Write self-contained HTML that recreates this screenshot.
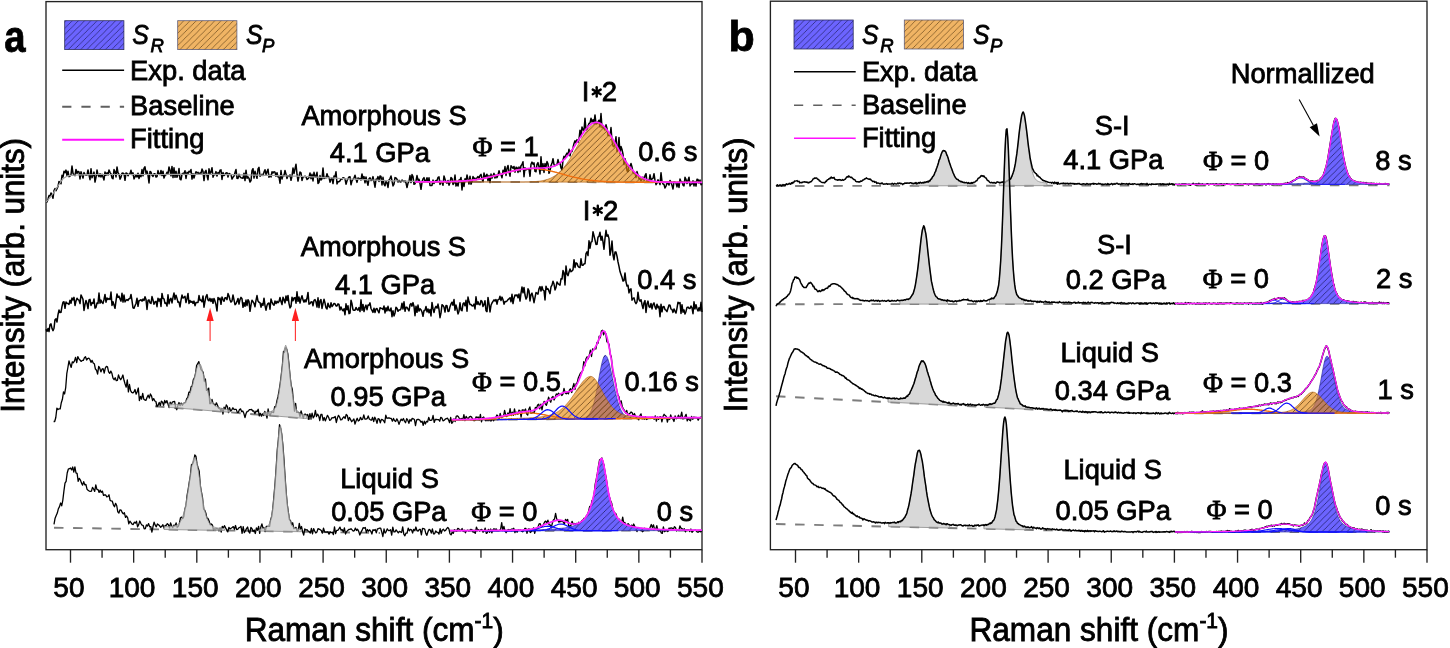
<!DOCTYPE html>
<html><head><meta charset="utf-8"><style>
html,body{margin:0;padding:0;background:#fff;}
body{width:1450px;height:648px;overflow:hidden;}
svg{display:block;font-family:"Liberation Sans",sans-serif;}
text{stroke:#000;stroke-width:0.8px;}
svg{will-change:transform;}
</style></head><body>
<svg width="1450" height="648" viewBox="0 0 1450 648">
<rect width="1450" height="648" fill="#fff"/>
<defs><pattern id="hb" patternUnits="userSpaceOnUse" width="6.2" height="6.2"><path d="M-1,7.2 L7.2,-1" stroke="#1a1a60" stroke-width="0.85" opacity="0.85"/></pattern><pattern id="ho" patternUnits="userSpaceOnUse" width="6.2" height="6.2"><path d="M-1,7.2 L7.2,-1" stroke="#5a3510" stroke-width="0.85" opacity="0.85"/></pattern><pattern id="hl" patternUnits="userSpaceOnUse" width="6.2" height="6.2"><path d="M-1,7.2 L7.2,-1" stroke="#1a1a55" stroke-width="0.75" opacity="0.85"/></pattern><pattern id="hlo" patternUnits="userSpaceOnUse" width="6.2" height="6.2"><path d="M-1,7.2 L7.2,-1" stroke="#5e3e14" stroke-width="0.75" opacity="0.85"/></pattern></defs>
<rect x="46.0" y="1.6" width="656.0" height="548.1" fill="none" stroke="#222" stroke-width="1.35"/>
<path d="M70.50,549.7 L70.50,562.7" stroke="#222" stroke-width="1.35"/>
<text x="68.9" y="596.8" font-size="28.00" text-anchor="middle" >50</text>
<path d="M102.07,549.7 L102.07,557.7" stroke="#222" stroke-width="1.35"/>
<path d="M133.65,549.7 L133.65,562.7" stroke="#222" stroke-width="1.35"/>
<text x="132.0" y="596.8" font-size="28.00" text-anchor="middle" >100</text>
<path d="M165.22,549.7 L165.22,557.7" stroke="#222" stroke-width="1.35"/>
<path d="M196.80,549.7 L196.80,562.7" stroke="#222" stroke-width="1.35"/>
<text x="195.2" y="596.8" font-size="28.00" text-anchor="middle" >150</text>
<path d="M228.38,549.7 L228.38,557.7" stroke="#222" stroke-width="1.35"/>
<path d="M259.95,549.7 L259.95,562.7" stroke="#222" stroke-width="1.35"/>
<text x="258.3" y="596.8" font-size="28.00" text-anchor="middle" >200</text>
<path d="M291.52,549.7 L291.52,557.7" stroke="#222" stroke-width="1.35"/>
<path d="M323.10,549.7 L323.10,562.7" stroke="#222" stroke-width="1.35"/>
<text x="321.5" y="596.8" font-size="28.00" text-anchor="middle" >250</text>
<path d="M354.67,549.7 L354.67,557.7" stroke="#222" stroke-width="1.35"/>
<path d="M386.25,549.7 L386.25,562.7" stroke="#222" stroke-width="1.35"/>
<text x="384.6" y="596.8" font-size="28.00" text-anchor="middle" >300</text>
<path d="M417.82,549.7 L417.82,557.7" stroke="#222" stroke-width="1.35"/>
<path d="M449.40,549.7 L449.40,562.7" stroke="#222" stroke-width="1.35"/>
<text x="447.8" y="596.8" font-size="28.00" text-anchor="middle" >350</text>
<path d="M480.97,549.7 L480.97,557.7" stroke="#222" stroke-width="1.35"/>
<path d="M512.55,549.7 L512.55,562.7" stroke="#222" stroke-width="1.35"/>
<text x="510.9" y="596.8" font-size="28.00" text-anchor="middle" >400</text>
<path d="M544.12,549.7 L544.12,557.7" stroke="#222" stroke-width="1.35"/>
<path d="M575.70,549.7 L575.70,562.7" stroke="#222" stroke-width="1.35"/>
<text x="574.1" y="596.8" font-size="28.00" text-anchor="middle" >450</text>
<path d="M607.27,549.7 L607.27,557.7" stroke="#222" stroke-width="1.35"/>
<path d="M638.85,549.7 L638.85,562.7" stroke="#222" stroke-width="1.35"/>
<text x="637.2" y="596.8" font-size="28.00" text-anchor="middle" >500</text>
<path d="M670.42,549.7 L670.42,557.7" stroke="#222" stroke-width="1.35"/>
<path d="M702.00,549.7 L702.00,562.7" stroke="#222" stroke-width="1.35"/>
<text x="700.4" y="596.8" font-size="28.00" text-anchor="middle" >550</text>
<rect x="770.4" y="1.2" width="656.6" height="548.5" fill="none" stroke="#222" stroke-width="1.35"/>
<path d="M795.50,549.7 L795.50,562.7" stroke="#222" stroke-width="1.35"/>
<text x="793.9" y="596.8" font-size="28.00" text-anchor="middle" >50</text>
<path d="M827.08,549.7 L827.08,557.7" stroke="#222" stroke-width="1.35"/>
<path d="M858.65,549.7 L858.65,562.7" stroke="#222" stroke-width="1.35"/>
<text x="857.0" y="596.8" font-size="28.00" text-anchor="middle" >100</text>
<path d="M890.23,549.7 L890.23,557.7" stroke="#222" stroke-width="1.35"/>
<path d="M921.80,549.7 L921.80,562.7" stroke="#222" stroke-width="1.35"/>
<text x="920.2" y="596.8" font-size="28.00" text-anchor="middle" >150</text>
<path d="M953.38,549.7 L953.38,557.7" stroke="#222" stroke-width="1.35"/>
<path d="M984.95,549.7 L984.95,562.7" stroke="#222" stroke-width="1.35"/>
<text x="983.4" y="596.8" font-size="28.00" text-anchor="middle" >200</text>
<path d="M1016.52,549.7 L1016.52,557.7" stroke="#222" stroke-width="1.35"/>
<path d="M1048.10,549.7 L1048.10,562.7" stroke="#222" stroke-width="1.35"/>
<text x="1046.5" y="596.8" font-size="28.00" text-anchor="middle" >250</text>
<path d="M1079.67,549.7 L1079.67,557.7" stroke="#222" stroke-width="1.35"/>
<path d="M1111.25,549.7 L1111.25,562.7" stroke="#222" stroke-width="1.35"/>
<text x="1109.7" y="596.8" font-size="28.00" text-anchor="middle" >300</text>
<path d="M1142.83,549.7 L1142.83,557.7" stroke="#222" stroke-width="1.35"/>
<path d="M1174.40,549.7 L1174.40,562.7" stroke="#222" stroke-width="1.35"/>
<text x="1172.8" y="596.8" font-size="28.00" text-anchor="middle" >350</text>
<path d="M1205.97,549.7 L1205.97,557.7" stroke="#222" stroke-width="1.35"/>
<path d="M1237.55,549.7 L1237.55,562.7" stroke="#222" stroke-width="1.35"/>
<text x="1236.0" y="596.8" font-size="28.00" text-anchor="middle" >400</text>
<path d="M1269.12,549.7 L1269.12,557.7" stroke="#222" stroke-width="1.35"/>
<path d="M1300.70,549.7 L1300.70,562.7" stroke="#222" stroke-width="1.35"/>
<text x="1299.1" y="596.8" font-size="28.00" text-anchor="middle" >450</text>
<path d="M1332.28,549.7 L1332.28,557.7" stroke="#222" stroke-width="1.35"/>
<path d="M1363.85,549.7 L1363.85,562.7" stroke="#222" stroke-width="1.35"/>
<text x="1362.2" y="596.8" font-size="28.00" text-anchor="middle" >500</text>
<path d="M1395.42,549.7 L1395.42,557.7" stroke="#222" stroke-width="1.35"/>
<path d="M1427.00,549.7 L1427.00,562.7" stroke="#222" stroke-width="1.35"/>
<text x="1425.4" y="596.8" font-size="28.00" text-anchor="middle" >550</text>
<path d="M415.0,181.80 L702.0,182.40" stroke="#7d7d7d" stroke-width="1.9" stroke-dasharray="9.5,9.6" fill="none"/>
<path d="M46.0,202.0 L47.0,201.9 L48.0,198.9 L49.0,195.6 L50.0,196.0 L51.0,192.9 L52.0,195.2 L53.0,198.2 L54.0,190.5 L55.0,188.5 L56.0,190.7 L57.0,188.7 L58.0,186.4 L59.0,181.4 L60.0,182.9 L61.0,183.8 L62.0,175.3 L63.0,177.2 L64.0,171.2 L65.0,172.7 L66.0,170.1 L67.0,175.5 L68.0,171.2 L69.0,176.7 L70.0,176.1 L71.0,174.7 L72.0,166.0 L73.0,173.3 L74.0,175.0 L75.0,175.6 L76.0,169.4 L77.0,173.3 L78.0,171.3 L79.0,171.9 L80.0,178.9 L81.0,171.8 L82.0,174.7 L83.0,178.1 L84.0,172.6 L85.0,174.3 L86.0,175.1 L87.0,174.9 L88.0,170.0 L89.0,174.9 L90.0,179.7 L91.0,168.7 L92.0,177.8 L93.0,175.0 L94.0,172.1 L95.0,182.1 L96.0,177.4 L97.0,170.0 L98.0,174.8 L99.0,176.7 L100.0,173.8 L101.0,177.1 L102.0,174.2 L103.0,177.0 L104.0,179.9 L105.0,171.9 L106.0,175.3 L107.0,172.8 L108.0,175.0 L109.0,170.0 L110.0,172.3 L111.0,173.8 L112.0,177.9 L113.0,178.8 L114.0,169.5 L115.0,171.5 L116.0,176.9 L117.0,167.0 L118.0,172.8 L119.0,174.1 L120.0,179.2 L121.0,177.1 L122.0,173.3 L123.0,173.1 L124.0,173.6 L125.0,180.3 L126.0,172.9 L127.0,173.4 L128.0,175.8 L129.0,174.0 L130.0,173.8 L131.0,170.3 L132.0,174.5 L133.0,172.8 L134.0,178.9 L135.0,177.0 L136.0,174.4 L137.0,177.0 L138.0,173.2 L139.0,178.5 L140.0,174.5 L141.0,176.7 L142.0,169.6 L143.0,175.8 L144.0,168.1 L145.0,166.8 L146.0,173.4 L147.0,171.1 L148.0,175.1 L149.0,183.0 L150.0,171.4 L151.0,172.1 L152.0,175.3 L153.0,176.4 L154.0,173.8 L155.0,173.7 L156.0,177.1 L157.0,176.5 L158.0,170.6 L159.0,174.2 L160.0,174.6 L161.0,170.5 L162.0,175.5 L163.0,171.2 L164.0,178.1 L165.0,175.2 L166.0,174.8 L167.0,172.2 L168.0,174.0 L169.0,166.9 L170.0,170.2 L171.0,175.8 L172.0,166.4 L173.0,177.6 L174.0,167.8 L175.0,177.3 L176.0,171.2 L177.0,177.3 L178.0,174.9 L179.0,168.6 L180.0,179.1 L181.0,179.8 L182.0,174.1 L183.0,173.3 L184.0,173.7 L185.0,170.7 L186.0,178.5 L187.0,172.3 L188.0,174.1 L189.0,171.3 L190.0,172.0 L191.0,169.5 L192.0,179.1 L193.0,173.7 L194.0,178.0 L195.0,174.4 L196.0,171.7 L197.0,173.1 L198.0,172.2 L199.0,174.3 L200.0,172.9 L201.0,173.2 L202.0,169.1 L203.0,171.3 L204.0,180.6 L205.0,171.8 L206.0,170.3 L207.0,175.6 L208.0,179.7 L209.0,168.8 L210.0,173.6 L211.0,172.0 L212.0,167.7 L213.0,177.2 L214.0,174.3 L215.0,174.7 L216.0,171.6 L217.0,176.1 L218.0,172.4 L219.0,173.9 L220.0,170.3 L221.0,169.9 L222.0,179.5 L223.0,172.6 L224.0,175.6 L225.0,174.4 L226.0,172.9 L227.0,172.7 L228.0,177.0 L229.0,173.5 L230.0,174.1 L231.0,174.7 L232.0,179.1 L233.0,177.2 L234.0,176.1 L235.0,172.6 L236.0,169.5 L237.0,178.3 L238.0,178.4 L239.0,174.3 L240.0,176.8 L241.0,177.8 L242.0,178.0 L243.0,178.3 L244.0,173.2 L245.0,180.6 L246.0,170.2 L247.0,178.2 L248.0,176.8 L249.0,178.3 L250.0,182.0 L251.0,180.6 L252.0,170.7 L253.0,168.7 L254.0,178.1 L255.0,171.3 L256.0,175.1 L257.0,178.3 L258.0,169.0 L259.0,167.3 L260.0,176.2 L261.0,175.4 L262.0,174.3 L263.0,175.4 L264.0,172.1 L265.0,169.7 L266.0,174.7 L267.0,171.7 L268.0,169.2 L269.0,177.3 L270.0,175.2 L271.0,177.0 L272.0,171.8 L273.0,173.0 L274.0,171.8 L275.0,172.2 L276.0,176.3 L277.0,172.7 L278.0,176.9 L279.0,176.9 L280.0,183.2 L281.0,170.5 L282.0,179.0 L283.0,175.4 L284.0,175.7 L285.0,170.4 L286.0,174.1 L287.0,178.6 L288.0,175.6 L289.0,176.2 L290.0,174.9 L291.0,180.3 L292.0,176.0 L293.0,167.9 L294.0,173.5 L295.0,168.9 L296.0,164.2 L297.0,174.2 L298.0,181.1 L299.0,176.4 L300.0,172.0 L301.0,172.9 L302.0,180.5 L303.0,177.0 L304.0,176.6 L305.0,176.3 L306.0,176.7 L307.0,179.5 L308.0,178.7 L309.0,177.5 L310.0,172.9 L311.0,178.7 L312.0,174.3 L313.0,180.9 L314.0,172.3 L315.0,176.5 L316.0,177.0 L317.0,172.3 L318.0,183.4 L319.0,182.5 L320.0,175.6 L321.0,180.1 L322.0,178.8 L323.0,168.0 L324.0,178.4 L325.0,177.4 L326.0,177.9 L327.0,173.8 L328.0,176.8 L329.0,177.2 L330.0,182.2 L331.0,179.2 L332.0,178.0 L333.0,183.6 L334.0,176.1 L335.0,176.8 L336.0,171.7 L337.0,183.9 L338.0,181.8 L339.0,181.7 L340.0,180.9 L341.0,178.9 L342.0,179.4 L343.0,177.7 L344.0,178.0 L345.0,178.9 L346.0,184.2 L347.0,180.8 L348.0,178.7 L349.0,176.9 L350.0,176.7 L351.0,184.7 L352.0,180.9 L353.0,179.4 L354.0,178.0 L355.0,175.3 L356.0,179.0 L357.0,182.4 L358.0,178.0 L359.0,178.6 L360.0,178.7 L361.0,179.9 L362.0,173.9 L363.0,178.8 L364.0,176.6 L365.0,182.8 L366.0,177.0 L367.0,181.8 L368.0,185.2 L369.0,178.8 L370.0,177.8 L371.0,180.6 L372.0,180.0 L373.0,176.6 L374.0,181.7 L375.0,187.2 L376.0,179.3 L377.0,179.5 L378.0,176.6 L379.0,181.4 L380.0,176.0 L381.0,176.5 L382.0,184.9 L383.0,177.3 L384.0,184.2 L385.0,185.8 L386.0,181.5 L387.0,182.5 L388.0,187.4 L389.0,180.0 L390.0,178.6 L391.0,176.0 L392.0,180.9 L393.0,185.9 L394.0,184.1 L395.0,177.6 L396.0,177.9 L397.0,179.2 L398.0,182.0 L399.0,180.3 L400.0,181.7 L401.0,182.0 L402.0,180.0 L403.0,180.9 L404.0,181.8 L405.0,180.8 L406.0,182.9 L407.0,187.6 L408.0,183.2 L409.0,181.4 L410.0,175.5 L411.0,182.6 L412.0,174.6 L413.0,176.5 L414.0,184.3 L415.0,183.8 L416.0,180.9 L417.0,175.6 L418.0,180.2 L419.0,179.2 L420.0,183.7 L421.0,189.3 L422.0,182.3 L423.0,178.9 L424.0,177.6 L425.0,181.4 L426.0,181.0 L427.0,177.7 L428.0,182.1 L429.0,177.8 L430.0,185.5 L431.0,185.4 L432.0,185.4 L433.0,180.1 L434.0,183.5 L435.0,181.3 L436.0,180.5 L437.0,180.6 L438.0,177.4 L439.0,176.9 L440.0,184.5 L441.0,181.2 L442.0,182.5 L443.0,185.2 L444.0,175.9 L445.0,179.1 L446.0,182.4 L447.0,183.1 L448.0,180.5 L449.0,185.2 L450.0,182.4 L451.0,177.5 L452.0,178.5 L453.0,184.4 L454.0,183.2 L455.0,175.0 L456.0,186.1 L457.0,183.5 L458.0,186.0 L459.0,180.1 L460.0,180.3 L461.0,177.4 L462.0,189.9 L463.0,180.5 L464.0,186.5 L465.0,178.8 L466.0,181.5 L467.0,175.0 L468.0,179.4 L469.0,184.0 L470.0,176.2 L471.0,184.2 L472.0,181.5 L473.0,176.6 L474.0,178.3 L475.0,178.3 L476.0,179.6 L477.0,177.8 L478.0,176.6 L479.0,178.3 L480.0,175.5 L481.0,174.4 L482.0,178.7 L483.0,181.8 L484.0,173.0 L485.0,178.3 L486.0,175.7 L487.0,174.3 L488.0,180.7 L489.0,175.5 L490.0,182.6 L491.0,174.1 L492.0,178.1 L493.0,175.6 L494.0,173.4 L495.0,178.1 L496.0,175.1 L497.0,177.6 L498.0,175.0 L499.0,170.8 L500.0,174.2 L501.0,174.5 L502.0,177.7 L503.0,170.3 L504.0,173.4 L505.0,166.6 L506.0,175.5 L507.0,168.5 L508.0,165.4 L509.0,171.9 L510.0,176.2 L511.0,165.7 L512.0,167.1 L513.0,168.2 L514.0,166.5 L515.0,172.2 L516.0,167.3 L517.0,167.4 L518.0,172.4 L519.0,166.9 L520.0,171.5 L521.0,165.7 L522.0,164.5 L523.0,161.8 L524.0,176.7 L525.0,167.7 L526.0,169.9 L527.0,168.7 L528.0,169.3 L529.0,168.8 L530.0,176.3 L531.0,164.3 L532.0,162.1 L533.0,164.3 L534.0,162.9 L535.0,171.4 L536.0,171.7 L537.0,164.4 L538.0,162.6 L539.0,166.8 L540.0,173.9 L541.0,156.7 L542.0,170.3 L543.0,163.7 L544.0,172.4 L545.0,163.6 L546.0,166.8 L547.0,161.6 L548.0,163.7 L549.0,173.3 L550.0,170.8 L551.0,165.5 L552.0,163.3 L553.0,158.7 L554.0,164.6 L555.0,165.7 L556.0,165.1 L557.0,164.5 L558.0,159.6 L559.0,163.5 L560.0,162.9 L561.0,168.0 L562.0,169.8 L563.0,160.1 L564.0,156.3 L565.0,158.5 L566.0,154.9 L567.0,153.1 L568.0,155.1 L569.0,149.2 L570.0,155.8 L571.0,151.0 L572.0,151.4 L573.0,147.7 L574.0,143.4 L575.0,140.7 L576.0,142.9 L577.0,139.6 L578.0,142.3 L579.0,139.4 L580.0,130.2 L581.0,136.7 L582.0,127.1 L583.0,129.8 L584.0,130.3 L585.0,118.3 L586.0,129.9 L587.0,129.1 L588.0,126.1 L589.0,123.5 L590.0,122.9 L591.0,118.3 L592.0,122.1 L593.0,119.8 L594.0,123.4 L595.0,114.9 L596.0,124.0 L597.0,123.4 L598.0,121.8 L599.0,120.2 L600.0,126.9 L601.0,113.5 L602.0,127.6 L603.0,127.1 L604.0,128.3 L605.0,130.0 L606.0,124.8 L607.0,128.6 L608.0,135.3 L609.0,135.5 L610.0,135.7 L611.0,127.5 L612.0,140.8 L613.0,146.0 L614.0,146.8 L615.0,144.3 L616.0,136.7 L617.0,151.5 L618.0,147.7 L619.0,137.6 L620.0,153.9 L621.0,146.6 L622.0,149.4 L623.0,154.2 L624.0,164.6 L625.0,158.7 L626.0,163.1 L627.0,170.9 L628.0,171.6 L629.0,165.7 L630.0,166.4 L631.0,163.5 L632.0,166.9 L633.0,172.5 L634.0,173.4 L635.0,173.2 L636.0,177.5 L637.0,171.6 L638.0,175.0 L639.0,178.7 L640.0,178.8 L641.0,181.1 L642.0,179.2 L643.0,177.1 L644.0,180.0 L645.0,175.6 L646.0,173.7 L647.0,181.9 L648.0,179.9 L649.0,181.5 L650.0,174.8 L651.0,179.6 L652.0,179.0 L653.0,178.3 L654.0,173.7 L655.0,180.4 L656.0,184.7 L657.0,183.0 L658.0,179.8 L659.0,181.9 L660.0,184.6 L661.0,172.7 L662.0,181.7 L663.0,184.0 L664.0,184.5 L665.0,188.0 L666.0,186.1 L667.0,183.3 L668.0,183.3 L669.0,185.0 L670.0,180.5 L671.0,182.2 L672.0,185.4 L673.0,189.0 L674.0,181.8 L675.0,182.2 L676.0,183.0 L677.0,186.9 L678.0,182.3 L679.0,187.4 L680.0,179.1 L681.0,181.8 L682.0,181.7 L683.0,185.1 L684.0,185.9 L685.0,177.3 L686.0,179.3 L687.0,183.5 L688.0,180.2 L689.0,177.2 L690.0,185.9 L691.0,184.1 L692.0,184.1 L693.0,180.8 L694.0,185.9 L695.0,181.6 L696.0,186.1 L697.0,179.3 L698.0,179.5 L699.0,183.1 L700.0,180.0 L701.0,184.7 L702.0,183.3" stroke="#000" stroke-width="1.5" fill="none" stroke-linejoin="round"/>
<path d="M46.0,202.0 L47.0,200.9 L48.0,199.8 L49.0,198.7 L50.0,197.5 L51.0,196.3 L52.0,195.0 L53.0,193.6 L54.0,192.1 L55.0,190.6 L56.0,189.0 L57.0,187.5 L58.0,186.0 L59.0,184.5 L60.0,183.0 L61.0,181.4 L62.0,180.0 L63.0,178.8 L64.0,178.0 L65.0,177.4 L66.0,176.8 L67.0,176.3 L68.0,175.9 L69.0,175.6 L70.0,175.5 L71.0,175.4 L72.0,175.4 L73.0,175.3 L74.0,175.2 L75.0,175.2 L76.0,175.1 L77.0,175.0 L78.0,175.0 L79.0,174.9 L80.0,174.9 L81.0,174.9 L82.0,174.8 L83.0,174.8 L84.0,174.7 L85.0,174.7 L86.0,174.7 L87.0,174.7 L88.0,174.6 L89.0,174.6 L90.0,174.6 L91.0,174.6 L92.0,174.6 L93.0,174.5 L94.0,174.5 L95.0,174.5 L96.0,174.5 L97.0,174.5 L98.0,174.5 L99.0,174.5 L100.0,174.5 L101.0,174.5 L102.0,174.5 L103.0,174.5 L104.0,174.5 L105.0,174.5 L106.0,174.5 L107.0,174.5 L108.0,174.5 L109.0,174.5 L110.0,174.5 L111.0,174.5 L112.0,174.5 L113.0,174.5 L114.0,174.5 L115.0,174.5 L116.0,174.5 L117.0,174.5 L118.0,174.5 L119.0,174.5 L120.0,174.5 L121.0,174.5 L122.0,174.5 L123.0,174.5 L124.0,174.5 L125.0,174.5 L126.0,174.5 L127.0,174.5 L128.0,174.5 L129.0,174.5 L130.0,174.5 L131.0,174.5 L132.0,174.5 L133.0,174.5 L134.0,174.5 L135.0,174.5 L136.0,174.5 L137.0,174.5 L138.0,174.5 L139.0,174.5 L140.0,174.5 L141.0,174.5 L142.0,174.5 L143.0,174.5 L144.0,174.5 L145.0,174.5 L146.0,174.5 L147.0,174.5 L148.0,174.5 L149.0,174.5 L150.0,174.5 L151.0,174.5 L152.0,174.5 L153.0,174.5 L154.0,174.5 L155.0,174.5 L156.0,174.5 L157.0,174.5 L158.0,174.5 L159.0,174.5 L160.0,174.5 L161.0,174.5 L162.0,174.5 L163.0,174.5 L164.0,174.5 L165.0,174.5 L166.0,174.5 L167.0,174.4 L168.0,174.4 L169.0,174.4 L170.0,174.4 L171.0,174.4 L172.0,174.4 L173.0,174.4 L174.0,174.4 L175.0,174.4 L176.0,174.4 L177.0,174.4 L178.0,174.4 L179.0,174.4 L180.0,174.4 L181.0,174.4 L182.0,174.4 L183.0,174.4 L184.0,174.3 L185.0,174.3 L186.0,174.3 L187.0,174.3 L188.0,174.3 L189.0,174.3 L190.0,174.3 L191.0,174.3 L192.0,174.3 L193.0,174.3 L194.0,174.3 L195.0,174.3 L196.0,174.3 L197.0,174.3 L198.0,174.3 L199.0,174.3 L200.0,174.3 L201.0,174.3 L202.0,174.3 L203.0,174.3 L204.0,174.3 L205.0,174.3 L206.0,174.3 L207.0,174.3 L208.0,174.3 L209.0,174.3 L210.0,174.3 L211.0,174.4 L212.0,174.4 L213.0,174.4 L214.0,174.4 L215.0,174.4 L216.0,174.4 L217.0,174.4 L218.0,174.4 L219.0,174.4 L220.0,174.5 L221.0,174.5 L222.0,174.5 L223.0,174.5 L224.0,174.5 L225.0,174.5 L226.0,174.6 L227.0,174.6 L228.0,174.6 L229.0,174.6 L230.0,174.6 L231.0,174.6 L232.0,174.7 L233.0,174.7 L234.0,174.7 L235.0,174.7 L236.0,174.7 L237.0,174.8 L238.0,174.8 L239.0,174.8 L240.0,174.8 L241.0,174.8 L242.0,174.8 L243.0,174.9 L244.0,174.9 L245.0,174.9 L246.0,174.9 L247.0,174.9 L248.0,175.0 L249.0,175.0 L250.0,175.0 L251.0,175.0 L252.0,175.0 L253.0,175.1 L254.0,175.1 L255.0,175.1 L256.0,175.1 L257.0,175.1 L258.0,175.2 L259.0,175.2 L260.0,175.2 L261.0,175.2 L262.0,175.2 L263.0,175.3 L264.0,175.3 L265.0,175.3 L266.0,175.3 L267.0,175.3 L268.0,175.4 L269.0,175.4 L270.0,175.4 L271.0,175.4 L272.0,175.5 L273.0,175.5 L274.0,175.5 L275.0,175.5 L276.0,175.6 L277.0,175.6 L278.0,175.6 L279.0,175.6 L280.0,175.7 L281.0,175.7 L282.0,175.7 L283.0,175.8 L284.0,175.8 L285.0,175.8 L286.0,175.8 L287.0,175.9 L288.0,175.9 L289.0,175.9 L290.0,176.0 L291.0,176.0 L292.0,176.0 L293.0,176.1 L294.0,176.1 L295.0,176.1 L296.0,176.2 L297.0,176.2 L298.0,176.2 L299.0,176.3 L300.0,176.3 L301.0,176.3 L302.0,176.4 L303.0,176.4 L304.0,176.5 L305.0,176.5 L306.0,176.5 L307.0,176.6 L308.0,176.6 L309.0,176.7 L310.0,176.7 L311.0,176.8 L312.0,176.8 L313.0,176.9 L314.0,176.9 L315.0,177.0 L316.0,177.1 L317.0,177.1 L318.0,177.2 L319.0,177.2 L320.0,177.3 L321.0,177.3 L322.0,177.4 L323.0,177.5 L324.0,177.5 L325.0,177.6 L326.0,177.6 L327.0,177.7 L328.0,177.8 L329.0,177.8 L330.0,177.9 L331.0,177.9 L332.0,178.0 L333.0,178.1 L334.0,178.1 L335.0,178.2 L336.0,178.2 L337.0,178.3 L338.0,178.4 L339.0,178.4 L340.0,178.5 L341.0,178.5 L342.0,178.6 L343.0,178.6 L344.0,178.7 L345.0,178.8 L346.0,178.8 L347.0,178.9 L348.0,178.9 L349.0,179.0 L350.0,179.0 L351.0,179.0 L352.0,179.1 L353.0,179.1 L354.0,179.2 L355.0,179.2 L356.0,179.3 L357.0,179.3 L358.0,179.4 L359.0,179.4 L360.0,179.5 L361.0,179.5 L362.0,179.6 L363.0,179.6 L364.0,179.6 L365.0,179.7 L366.0,179.7 L367.0,179.8 L368.0,179.8 L369.0,179.9 L370.0,179.9 L371.0,180.0 L372.0,180.0 L373.0,180.0 L374.0,180.1 L375.0,180.1 L376.0,180.2 L377.0,180.2 L378.0,180.2 L379.0,180.3 L380.0,180.3 L381.0,180.4 L382.0,180.4 L383.0,180.4 L384.0,180.5 L385.0,180.5 L386.0,180.6 L387.0,180.6 L388.0,180.6 L389.0,180.7 L390.0,180.7 L391.0,180.7 L392.0,180.8 L393.0,180.8 L394.0,180.8 L395.0,180.9 L396.0,180.9 L397.0,180.9 L398.0,180.9 L399.0,181.0 L400.0,181.0 L401.0,181.0 L402.0,181.1 L403.0,181.1 L404.0,181.1 L405.0,181.1 L406.0,181.2 L407.0,181.2 L408.0,181.2 L409.0,181.2 L410.0,181.3 L411.0,181.3 L412.0,181.3 L413.0,181.3 L414.0,181.4 L415.0,181.4 L416.0,181.4 L417.0,181.4 L418.0,181.5 L419.0,181.5 L420.0,181.5 L421.0,181.5 L422.0,181.6 L423.0,181.6 L424.0,181.6 L425.0,181.6 L426.0,181.6 L427.0,181.7 L428.0,181.7 L429.0,181.7" stroke="#a0a0a0" stroke-width="1.2" fill="none"/>
<path d="M415.0,181.8 L416.0,181.8 L417.0,181.8 L418.0,181.8 L419.0,181.8 L420.0,181.8 L421.0,181.8 L422.0,181.8 L423.0,181.8 L424.0,181.8 L425.0,181.8 L426.0,181.8 L427.0,181.8 L428.0,181.8 L429.0,181.8 L430.0,181.8 L431.0,181.8 L432.0,181.8 L433.0,181.8 L434.0,181.8 L435.0,181.8 L436.0,181.8 L437.0,181.8 L438.0,181.8 L439.0,181.9 L440.0,181.9 L441.0,181.9 L442.0,181.9 L443.0,181.9 L444.0,181.9 L445.0,181.9 L446.0,181.9 L447.0,181.9 L448.0,181.9 L449.0,181.9 L450.0,181.9 L451.0,181.9 L452.0,181.9 L453.0,181.9 L454.0,181.9 L455.0,181.9 L456.0,181.9 L457.0,181.9 L458.0,181.9 L459.0,181.9 L460.0,181.9 L461.0,181.9 L462.0,181.9 L463.0,181.9 L464.0,181.9 L465.0,181.9 L466.0,181.9 L467.0,181.9 L468.0,181.9 L469.0,181.9 L470.0,181.9 L471.0,181.9 L472.0,181.9 L473.0,181.9 L474.0,181.9 L475.0,181.9 L476.0,181.9 L477.0,181.9 L478.0,181.9 L479.0,181.9 L480.0,181.9 L481.0,181.9 L482.0,181.9 L483.0,181.9 L484.0,181.9 L485.0,181.9 L486.0,181.9 L487.0,182.0 L488.0,182.0 L489.0,182.0 L490.0,182.0 L491.0,182.0 L492.0,182.0 L493.0,182.0 L494.0,182.0 L495.0,182.0 L496.0,182.0 L497.0,182.0 L498.0,182.0 L499.0,182.0 L500.0,182.0 L501.0,182.0 L502.0,182.0 L503.0,182.0 L504.0,182.0 L505.0,182.0 L506.0,182.0 L507.0,182.0 L508.0,182.0 L509.0,182.0 L510.0,182.0 L511.0,182.0 L512.0,182.0 L513.0,182.0 L514.0,182.0 L515.0,182.0 L516.0,182.0 L517.0,182.0 L518.0,182.0 L519.0,182.0 L520.0,182.0 L521.0,182.0 L522.0,182.0 L523.0,182.0 L524.0,182.0 L525.0,181.9 L526.0,181.9 L527.0,181.9 L528.0,181.9 L529.0,181.9 L530.0,181.8 L531.0,181.8 L532.0,181.8 L533.0,181.7 L534.0,181.6 L535.0,181.6 L536.0,181.5 L537.0,181.4 L538.0,181.3 L539.0,181.2 L540.0,181.1 L541.0,180.9 L542.0,180.8 L543.0,180.6 L544.0,180.3 L545.0,180.1 L546.0,179.8 L547.0,179.5 L548.0,179.2 L549.0,178.8 L550.0,178.4 L551.0,178.0 L552.0,177.5 L553.0,176.9 L554.0,176.3 L555.0,175.7 L556.0,175.0 L557.0,174.2 L558.0,173.4 L559.0,172.5 L560.0,171.6 L561.0,170.6 L562.0,169.5 L563.0,168.4 L564.0,167.2 L565.0,165.9 L566.0,164.6 L567.0,163.2 L568.0,161.7 L569.0,160.2 L570.0,158.7 L571.0,157.0 L572.0,155.4 L573.0,153.7 L574.0,152.0 L575.0,150.2 L576.0,148.4 L577.0,146.7 L578.0,144.9 L579.0,143.1 L580.0,141.4 L581.0,139.7 L582.0,138.0 L583.0,136.3 L584.0,134.8 L585.0,133.2 L586.0,131.8 L587.0,130.5 L588.0,129.2 L589.0,128.1 L590.0,127.1 L591.0,126.2 L592.0,125.4 L593.0,124.7 L594.0,124.2 L595.0,123.9 L596.0,123.7 L597.0,123.6 L598.0,123.7 L599.0,123.9 L600.0,124.2 L601.0,124.8 L602.0,125.4 L603.0,126.2 L604.0,127.1 L605.0,128.1 L606.0,129.3 L607.0,130.5 L608.0,131.9 L609.0,133.3 L610.0,134.8 L611.0,136.4 L612.0,138.0 L613.0,139.7 L614.0,141.4 L615.0,143.2 L616.0,145.0 L617.0,146.8 L618.0,148.5 L619.0,150.3 L620.0,152.1 L621.0,153.8 L622.0,155.5 L623.0,157.1 L624.0,158.8 L625.0,160.3 L626.0,161.8 L627.0,163.3 L628.0,164.7 L629.0,166.0 L630.0,167.3 L631.0,168.5 L632.0,169.7 L633.0,170.7 L634.0,171.7 L635.0,172.7 L636.0,173.6 L637.0,174.4 L638.0,175.2 L639.0,175.9 L640.0,176.5 L641.0,177.1 L642.0,177.7 L643.0,178.2 L644.0,178.6 L645.0,179.0 L646.0,179.4 L647.0,179.7 L648.0,180.0 L649.0,180.3 L650.0,180.6 L651.0,180.8 L652.0,181.0 L653.0,181.2 L654.0,181.3 L655.0,181.4 L656.0,181.6 L657.0,181.7 L658.0,181.8 L659.0,181.8 L660.0,181.9 L661.0,182.0 L662.0,182.0 L663.0,182.1 L664.0,182.1 L665.0,182.1 L666.0,182.2 L667.0,182.2 L668.0,182.2 L669.0,182.2 L670.0,182.3 L671.0,182.3 L672.0,182.3 L673.0,182.3 L674.0,182.3 L675.0,182.3 L676.0,182.3 L677.0,182.3 L678.0,182.3 L679.0,182.3 L680.0,182.3 L681.0,182.3 L682.0,182.4 L683.0,182.4 L684.0,182.4 L685.0,182.4 L686.0,182.4 L687.0,182.4 L688.0,182.4 L689.0,182.4 L690.0,182.4 L691.0,182.4 L692.0,182.4 L693.0,182.4 L694.0,182.4 L695.0,182.4 L696.0,182.4 L697.0,182.4 L698.0,182.4 L699.0,182.4 L700.0,182.4 L701.0,182.4 L702.0,182.4 L702.00,182.40 L415.00,181.80 Z" fill="rgb(232,140,17)" fill-opacity="0.65" stroke="#b06010" stroke-width="0.6"/>
<path d="M415.0,181.8 L416.0,181.8 L417.0,181.8 L418.0,181.8 L419.0,181.8 L420.0,181.8 L421.0,181.8 L422.0,181.8 L423.0,181.8 L424.0,181.8 L425.0,181.8 L426.0,181.8 L427.0,181.8 L428.0,181.8 L429.0,181.8 L430.0,181.8 L431.0,181.8 L432.0,181.8 L433.0,181.8 L434.0,181.8 L435.0,181.8 L436.0,181.8 L437.0,181.8 L438.0,181.8 L439.0,181.9 L440.0,181.9 L441.0,181.9 L442.0,181.9 L443.0,181.9 L444.0,181.9 L445.0,181.9 L446.0,181.9 L447.0,181.9 L448.0,181.9 L449.0,181.9 L450.0,181.9 L451.0,181.9 L452.0,181.9 L453.0,181.9 L454.0,181.9 L455.0,181.9 L456.0,181.9 L457.0,181.9 L458.0,181.9 L459.0,181.9 L460.0,181.9 L461.0,181.9 L462.0,181.9 L463.0,181.9 L464.0,181.9 L465.0,181.9 L466.0,181.9 L467.0,181.9 L468.0,181.9 L469.0,181.9 L470.0,181.9 L471.0,181.9 L472.0,181.9 L473.0,181.9 L474.0,181.9 L475.0,181.9 L476.0,181.9 L477.0,181.9 L478.0,181.9 L479.0,181.9 L480.0,181.9 L481.0,181.9 L482.0,181.9 L483.0,181.9 L484.0,181.9 L485.0,181.9 L486.0,181.9 L487.0,182.0 L488.0,182.0 L489.0,182.0 L490.0,182.0 L491.0,182.0 L492.0,182.0 L493.0,182.0 L494.0,182.0 L495.0,182.0 L496.0,182.0 L497.0,182.0 L498.0,182.0 L499.0,182.0 L500.0,182.0 L501.0,182.0 L502.0,182.0 L503.0,182.0 L504.0,182.0 L505.0,182.0 L506.0,182.0 L507.0,182.0 L508.0,182.0 L509.0,182.0 L510.0,182.0 L511.0,182.0 L512.0,182.0 L513.0,182.0 L514.0,182.0 L515.0,182.0 L516.0,182.0 L517.0,182.0 L518.0,182.0 L519.0,182.0 L520.0,182.0 L521.0,182.0 L522.0,182.0 L523.0,182.0 L524.0,182.0 L525.0,181.9 L526.0,181.9 L527.0,181.9 L528.0,181.9 L529.0,181.9 L530.0,181.8 L531.0,181.8 L532.0,181.8 L533.0,181.7 L534.0,181.6 L535.0,181.6 L536.0,181.5 L537.0,181.4 L538.0,181.3 L539.0,181.2 L540.0,181.1 L541.0,180.9 L542.0,180.8 L543.0,180.6 L544.0,180.3 L545.0,180.1 L546.0,179.8 L547.0,179.5 L548.0,179.2 L549.0,178.8 L550.0,178.4 L551.0,178.0 L552.0,177.5 L553.0,176.9 L554.0,176.3 L555.0,175.7 L556.0,175.0 L557.0,174.2 L558.0,173.4 L559.0,172.5 L560.0,171.6 L561.0,170.6 L562.0,169.5 L563.0,168.4 L564.0,167.2 L565.0,165.9 L566.0,164.6 L567.0,163.2 L568.0,161.7 L569.0,160.2 L570.0,158.7 L571.0,157.0 L572.0,155.4 L573.0,153.7 L574.0,152.0 L575.0,150.2 L576.0,148.4 L577.0,146.7 L578.0,144.9 L579.0,143.1 L580.0,141.4 L581.0,139.7 L582.0,138.0 L583.0,136.3 L584.0,134.8 L585.0,133.2 L586.0,131.8 L587.0,130.5 L588.0,129.2 L589.0,128.1 L590.0,127.1 L591.0,126.2 L592.0,125.4 L593.0,124.7 L594.0,124.2 L595.0,123.9 L596.0,123.7 L597.0,123.6 L598.0,123.7 L599.0,123.9 L600.0,124.2 L601.0,124.8 L602.0,125.4 L603.0,126.2 L604.0,127.1 L605.0,128.1 L606.0,129.3 L607.0,130.5 L608.0,131.9 L609.0,133.3 L610.0,134.8 L611.0,136.4 L612.0,138.0 L613.0,139.7 L614.0,141.4 L615.0,143.2 L616.0,145.0 L617.0,146.8 L618.0,148.5 L619.0,150.3 L620.0,152.1 L621.0,153.8 L622.0,155.5 L623.0,157.1 L624.0,158.8 L625.0,160.3 L626.0,161.8 L627.0,163.3 L628.0,164.7 L629.0,166.0 L630.0,167.3 L631.0,168.5 L632.0,169.7 L633.0,170.7 L634.0,171.7 L635.0,172.7 L636.0,173.6 L637.0,174.4 L638.0,175.2 L639.0,175.9 L640.0,176.5 L641.0,177.1 L642.0,177.7 L643.0,178.2 L644.0,178.6 L645.0,179.0 L646.0,179.4 L647.0,179.7 L648.0,180.0 L649.0,180.3 L650.0,180.6 L651.0,180.8 L652.0,181.0 L653.0,181.2 L654.0,181.3 L655.0,181.4 L656.0,181.6 L657.0,181.7 L658.0,181.8 L659.0,181.8 L660.0,181.9 L661.0,182.0 L662.0,182.0 L663.0,182.1 L664.0,182.1 L665.0,182.1 L666.0,182.2 L667.0,182.2 L668.0,182.2 L669.0,182.2 L670.0,182.3 L671.0,182.3 L672.0,182.3 L673.0,182.3 L674.0,182.3 L675.0,182.3 L676.0,182.3 L677.0,182.3 L678.0,182.3 L679.0,182.3 L680.0,182.3 L681.0,182.3 L682.0,182.4 L683.0,182.4 L684.0,182.4 L685.0,182.4 L686.0,182.4 L687.0,182.4 L688.0,182.4 L689.0,182.4 L690.0,182.4 L691.0,182.4 L692.0,182.4 L693.0,182.4 L694.0,182.4 L695.0,182.4 L696.0,182.4 L697.0,182.4 L698.0,182.4 L699.0,182.4 L700.0,182.4 L701.0,182.4 L702.0,182.4 L702.00,182.40 L415.00,181.80 Z" fill="url(#ho)"/>
<path d="M415.0,181.8 L416.0,181.8 L417.0,181.8 L418.0,181.8 L419.0,181.8 L420.0,181.8 L421.0,181.8 L422.0,181.8 L423.0,181.8 L424.0,181.8 L425.0,181.8 L426.0,181.8 L427.0,181.8 L428.0,181.8 L429.0,181.8 L430.0,181.8 L431.0,181.8 L432.0,181.8 L433.0,181.8 L434.0,181.8 L435.0,181.8 L436.0,181.8 L437.0,181.8 L438.0,181.8 L439.0,181.7 L440.0,181.7 L441.0,181.7 L442.0,181.7 L443.0,181.7 L444.0,181.7 L445.0,181.7 L446.0,181.7 L447.0,181.6 L448.0,181.6 L449.0,181.6 L450.0,181.6 L451.0,181.5 L452.0,181.5 L453.0,181.5 L454.0,181.4 L455.0,181.4 L456.0,181.4 L457.0,181.3 L458.0,181.3 L459.0,181.2 L460.0,181.2 L461.0,181.1 L462.0,181.1 L463.0,181.0 L464.0,180.9 L465.0,180.8 L466.0,180.8 L467.0,180.7 L468.0,180.6 L469.0,180.5 L470.0,180.4 L471.0,180.3 L472.0,180.2 L473.0,180.0 L474.0,179.9 L475.0,179.8 L476.0,179.6 L477.0,179.5 L478.0,179.3 L479.0,179.2 L480.0,179.0 L481.0,178.8 L482.0,178.7 L483.0,178.5 L484.0,178.3 L485.0,178.1 L486.0,177.9 L487.0,177.7 L488.0,177.4 L489.0,177.2 L490.0,177.0 L491.0,176.7 L492.0,176.5 L493.0,176.3 L494.0,176.0 L495.0,175.7 L496.0,175.5 L497.0,175.2 L498.0,175.0 L499.0,174.7 L500.0,174.4 L501.0,174.1 L502.0,173.9 L503.0,173.6 L504.0,173.3 L505.0,173.1 L506.0,172.8 L507.0,172.5 L508.0,172.2 L509.0,172.0 L510.0,171.7 L511.0,171.5 L512.0,171.2 L513.0,171.0 L514.0,170.8 L515.0,170.5 L516.0,170.3 L517.0,170.1 L518.0,169.9 L519.0,169.7 L520.0,169.6 L521.0,169.4 L522.0,169.3 L523.0,169.1 L524.0,169.0 L525.0,168.9 L526.0,168.8 L527.0,168.7 L528.0,168.7 L529.0,168.6 L530.0,168.6 L531.0,168.6 L532.0,168.5 L533.0,168.6 L534.0,168.6 L535.0,168.6 L536.0,168.7 L537.0,168.7 L538.0,168.8 L539.0,168.9 L540.0,169.0 L541.0,169.2 L542.0,169.3 L543.0,169.5 L544.0,169.6 L545.0,169.8 L546.0,170.0 L547.0,170.2 L548.0,170.4 L549.0,170.6 L550.0,170.8 L551.0,171.1 L552.0,171.3 L553.0,171.6 L554.0,171.8 L555.0,172.1 L556.0,172.3 L557.0,172.6 L558.0,172.9 L559.0,173.2 L560.0,173.4 L561.0,173.7 L562.0,174.0 L563.0,174.3 L564.0,174.5 L565.0,174.8 L566.0,175.1 L567.0,175.4 L568.0,175.6 L569.0,175.9 L570.0,176.2 L571.0,176.4 L572.0,176.7 L573.0,176.9 L574.0,177.2 L575.0,177.4 L576.0,177.6 L577.0,177.8 L578.0,178.1 L579.0,178.3 L580.0,178.5 L581.0,178.7 L582.0,178.9 L583.0,179.1 L584.0,179.2 L585.0,179.4 L586.0,179.6 L587.0,179.7 L588.0,179.9 L589.0,180.0 L590.0,180.2 L591.0,180.3 L592.0,180.4 L593.0,180.5 L594.0,180.6 L595.0,180.7 L596.0,180.8 L597.0,180.9 L598.0,181.0 L599.0,181.1 L600.0,181.2 L601.0,181.3 L602.0,181.3 L603.0,181.4 L604.0,181.5 L605.0,181.5 L606.0,181.6 L607.0,181.6 L608.0,181.7 L609.0,181.7 L610.0,181.8 L611.0,181.8 L612.0,181.9 L613.0,181.9 L614.0,181.9 L615.0,181.9 L616.0,182.0 L617.0,182.0 L618.0,182.0 L619.0,182.0 L620.0,182.1 L621.0,182.1 L622.0,182.1 L623.0,182.1 L624.0,182.1 L625.0,182.1 L626.0,182.2 L627.0,182.2 L628.0,182.2 L629.0,182.2 L630.0,182.2 L631.0,182.2 L632.0,182.2 L633.0,182.2 L634.0,182.2 L635.0,182.2 L636.0,182.2 L637.0,182.2 L638.0,182.2 L639.0,182.2 L640.0,182.3 L641.0,182.3 L642.0,182.3 L643.0,182.3 L644.0,182.3 L645.0,182.3 L646.0,182.3 L647.0,182.3 L648.0,182.3 L649.0,182.3 L650.0,182.3 L651.0,182.3 L652.0,182.3 L653.0,182.3 L654.0,182.3 L655.0,182.3 L656.0,182.3 L657.0,182.3 L658.0,182.3 L659.0,182.3 L660.0,182.3 L661.0,182.3 L662.0,182.3 L663.0,182.3 L664.0,182.3 L665.0,182.3 L666.0,182.3 L667.0,182.3 L668.0,182.3 L669.0,182.3 L670.0,182.3 L671.0,182.3 L672.0,182.3 L673.0,182.3 L674.0,182.3 L675.0,182.3 L676.0,182.3 L677.0,182.3 L678.0,182.3 L679.0,182.4 L680.0,182.4 L681.0,182.4 L682.0,182.4 L683.0,182.4 L684.0,182.4 L685.0,182.4 L686.0,182.4 L687.0,182.4 L688.0,182.4 L689.0,182.4 L690.0,182.4 L691.0,182.4 L692.0,182.4 L693.0,182.4 L694.0,182.4 L695.0,182.4 L696.0,182.4 L697.0,182.4 L698.0,182.4 L699.0,182.4 L700.0,182.4 L701.0,182.4 L702.0,182.4" stroke="#f07010" stroke-width="1.4" fill="none"/>
<path d="M415.0,181.8 L416.0,181.8 L417.0,181.8 L418.0,181.8 L419.0,181.8 L420.0,181.8 L421.0,181.8 L422.0,181.8 L423.0,181.8 L424.0,181.8 L425.0,181.8 L426.0,181.8 L427.0,181.8 L428.0,181.8 L429.0,181.8 L430.0,181.8 L431.0,181.8 L432.0,181.8 L433.0,181.8 L434.0,181.8 L435.0,181.8 L436.0,181.8 L437.0,181.8 L438.0,181.8 L439.0,181.7 L440.0,181.7 L441.0,181.7 L442.0,181.7 L443.0,181.7 L444.0,181.7 L445.0,181.7 L446.0,181.7 L447.0,181.6 L448.0,181.6 L449.0,181.6 L450.0,181.6 L451.0,181.5 L452.0,181.5 L453.0,181.5 L454.0,181.4 L455.0,181.4 L456.0,181.4 L457.0,181.3 L458.0,181.3 L459.0,181.2 L460.0,181.2 L461.0,181.1 L462.0,181.1 L463.0,181.0 L464.0,180.9 L465.0,180.8 L466.0,180.8 L467.0,180.7 L468.0,180.6 L469.0,180.5 L470.0,180.4 L471.0,180.3 L472.0,180.2 L473.0,180.0 L474.0,179.9 L475.0,179.8 L476.0,179.6 L477.0,179.5 L478.0,179.3 L479.0,179.2 L480.0,179.0 L481.0,178.8 L482.0,178.7 L483.0,178.5 L484.0,178.3 L485.0,178.1 L486.0,177.9 L487.0,177.7 L488.0,177.4 L489.0,177.2 L490.0,177.0 L491.0,176.7 L492.0,176.5 L493.0,176.3 L494.0,176.0 L495.0,175.7 L496.0,175.5 L497.0,175.2 L498.0,175.0 L499.0,174.7 L500.0,174.4 L501.0,174.1 L502.0,173.9 L503.0,173.6 L504.0,173.3 L505.0,173.0 L506.0,172.8 L507.0,172.5 L508.0,172.2 L509.0,172.0 L510.0,171.7 L511.0,171.5 L512.0,171.2 L513.0,171.0 L514.0,170.8 L515.0,170.5 L516.0,170.3 L517.0,170.1 L518.0,169.9 L519.0,169.7 L520.0,169.5 L521.0,169.4 L522.0,169.2 L523.0,169.1 L524.0,168.9 L525.0,168.8 L526.0,168.7 L527.0,168.6 L528.0,168.5 L529.0,168.4 L530.0,168.4 L531.0,168.3 L532.0,168.3 L533.0,168.2 L534.0,168.2 L535.0,168.1 L536.0,168.1 L537.0,168.1 L538.0,168.1 L539.0,168.1 L540.0,168.0 L541.0,168.0 L542.0,168.0 L543.0,168.0 L544.0,167.9 L545.0,167.8 L546.0,167.8 L547.0,167.6 L548.0,167.5 L549.0,167.4 L550.0,167.2 L551.0,167.0 L552.0,166.7 L553.0,166.4 L554.0,166.1 L555.0,165.7 L556.0,165.2 L557.0,164.8 L558.0,164.2 L559.0,163.6 L560.0,162.9 L561.0,162.2 L562.0,161.4 L563.0,160.5 L564.0,159.6 L565.0,158.6 L566.0,157.6 L567.0,156.4 L568.0,155.2 L569.0,154.0 L570.0,152.7 L571.0,151.3 L572.0,149.9 L573.0,148.5 L574.0,147.0 L575.0,145.5 L576.0,143.9 L577.0,142.4 L578.0,140.8 L579.0,139.3 L580.0,137.7 L581.0,136.2 L582.0,134.7 L583.0,133.2 L584.0,131.8 L585.0,130.5 L586.0,129.2 L587.0,128.0 L588.0,126.9 L589.0,125.9 L590.0,125.0 L591.0,124.3 L592.0,123.6 L593.0,123.1 L594.0,122.7 L595.0,122.4 L596.0,122.3 L597.0,122.3 L598.0,122.5 L599.0,122.8 L600.0,123.3 L601.0,123.8 L602.0,124.6 L603.0,125.4 L604.0,126.4 L605.0,127.5 L606.0,128.7 L607.0,130.0 L608.0,131.3 L609.0,132.8 L610.0,134.4 L611.0,136.0 L612.0,137.7 L613.0,139.4 L614.0,141.1 L615.0,142.9 L616.0,144.7 L617.0,146.5 L618.0,148.3 L619.0,150.1 L620.0,151.9 L621.0,153.6 L622.0,155.4 L623.0,157.0 L624.0,158.7 L625.0,160.2 L626.0,161.8 L627.0,163.2 L628.0,164.6 L629.0,166.0 L630.0,167.3 L631.0,168.5 L632.0,169.6 L633.0,170.7 L634.0,171.7 L635.0,172.7 L636.0,173.5 L637.0,174.4 L638.0,175.1 L639.0,175.8 L640.0,176.5 L641.0,177.1 L642.0,177.6 L643.0,178.1 L644.0,178.6 L645.0,179.0 L646.0,179.4 L647.0,179.7 L648.0,180.0 L649.0,180.3 L650.0,180.6 L651.0,180.8 L652.0,181.0 L653.0,181.2 L654.0,181.3 L655.0,181.4 L656.0,181.6 L657.0,181.7 L658.0,181.8 L659.0,181.8 L660.0,181.9 L661.0,182.0 L662.0,182.0 L663.0,182.1 L664.0,182.1 L665.0,182.1 L666.0,182.2 L667.0,182.2 L668.0,182.2 L669.0,182.2 L670.0,182.3 L671.0,182.3 L672.0,182.3 L673.0,182.3 L674.0,182.3 L675.0,182.3 L676.0,182.3 L677.0,182.3 L678.0,182.3 L679.0,182.3 L680.0,182.3 L681.0,182.3 L682.0,182.4 L683.0,182.4 L684.0,182.4 L685.0,182.4 L686.0,182.4 L687.0,182.4 L688.0,182.4 L689.0,182.4 L690.0,182.4 L691.0,182.4 L692.0,182.4 L693.0,182.4 L694.0,182.4 L695.0,182.4 L696.0,182.4 L697.0,182.4 L698.0,182.4 L699.0,182.4 L700.0,182.4 L701.0,182.4 L702.0,182.4" stroke="#ff20ff" stroke-width="1.7" fill="none"/>
<path d="M46.0,329.2 L47.0,331.4 L48.0,328.5 L49.0,331.6 L50.0,324.6 L51.0,323.9 L52.0,328.4 L53.0,330.6 L54.0,328.2 L55.0,319.7 L56.0,318.7 L57.0,322.0 L58.0,314.6 L59.0,310.1 L60.0,312.6 L61.0,312.3 L62.0,306.4 L63.0,302.2 L64.0,301.8 L65.0,308.3 L66.0,302.0 L67.0,303.2 L68.0,303.6 L69.0,304.4 L70.0,300.3 L71.0,303.3 L72.0,298.0 L73.0,299.9 L74.0,297.4 L75.0,305.5 L76.0,301.0 L77.0,298.3 L78.0,299.7 L79.0,300.2 L80.0,303.6 L81.0,294.9 L82.0,297.0 L83.0,299.4 L84.0,310.5 L85.0,304.5 L86.0,300.4 L87.0,303.5 L88.0,308.6 L89.0,299.9 L90.0,299.4 L91.0,305.4 L92.0,302.7 L93.0,303.4 L94.0,298.9 L95.0,308.1 L96.0,307.3 L97.0,303.0 L98.0,303.4 L99.0,293.1 L100.0,303.2 L101.0,300.1 L102.0,302.5 L103.0,303.4 L104.0,299.5 L105.0,294.4 L106.0,302.2 L107.0,298.0 L108.0,299.5 L109.0,298.5 L110.0,299.5 L111.0,292.0 L112.0,305.4 L113.0,301.8 L114.0,305.0 L115.0,308.3 L116.0,300.9 L117.0,293.9 L118.0,297.4 L119.0,296.2 L120.0,298.9 L121.0,301.1 L122.0,293.2 L123.0,302.1 L124.0,295.0 L125.0,301.9 L126.0,300.4 L127.0,299.6 L128.0,300.5 L129.0,298.7 L130.0,298.5 L131.0,294.4 L132.0,300.7 L133.0,307.8 L134.0,308.3 L135.0,305.8 L136.0,303.5 L137.0,298.2 L138.0,306.3 L139.0,300.6 L140.0,300.5 L141.0,299.7 L142.0,301.2 L143.0,299.1 L144.0,300.5 L145.0,296.7 L146.0,299.4 L147.0,309.5 L148.0,300.5 L149.0,299.9 L150.0,302.8 L151.0,303.5 L152.0,296.6 L153.0,300.0 L154.0,304.3 L155.0,301.8 L156.0,301.3 L157.0,306.7 L158.0,298.2 L159.0,301.1 L160.0,298.8 L161.0,306.5 L162.0,293.4 L163.0,298.3 L164.0,298.8 L165.0,303.3 L166.0,303.1 L167.0,306.1 L168.0,294.8 L169.0,303.7 L170.0,299.7 L171.0,298.3 L172.0,302.9 L173.0,297.3 L174.0,292.9 L175.0,299.4 L176.0,295.2 L177.0,298.4 L178.0,302.3 L179.0,302.1 L180.0,306.9 L181.0,300.1 L182.0,295.1 L183.0,298.0 L184.0,297.4 L185.0,296.3 L186.0,302.6 L187.0,298.5 L188.0,293.4 L189.0,303.6 L190.0,300.5 L191.0,302.3 L192.0,301.4 L193.0,303.4 L194.0,301.1 L195.0,305.7 L196.0,302.6 L197.0,302.5 L198.0,302.5 L199.0,295.5 L200.0,300.4 L201.0,300.0 L202.0,301.8 L203.0,295.9 L204.0,307.2 L205.0,301.4 L206.0,296.5 L207.0,294.6 L208.0,300.0 L209.0,300.8 L210.0,298.4 L211.0,301.5 L212.0,298.7 L213.0,303.3 L214.0,298.4 L215.0,301.1 L216.0,304.9 L217.0,311.0 L218.0,297.4 L219.0,299.5 L220.0,298.1 L221.0,304.3 L222.0,297.0 L223.0,299.5 L224.0,301.3 L225.0,297.7 L226.0,297.8 L227.0,299.7 L228.0,293.5 L229.0,296.0 L230.0,300.0 L231.0,302.1 L232.0,300.9 L233.0,294.9 L234.0,299.9 L235.0,304.7 L236.0,303.8 L237.0,301.4 L238.0,298.4 L239.0,304.1 L240.0,299.6 L241.0,297.4 L242.0,298.8 L243.0,307.3 L244.0,302.7 L245.0,306.3 L246.0,300.1 L247.0,305.5 L248.0,299.7 L249.0,301.4 L250.0,311.3 L251.0,304.9 L252.0,300.2 L253.0,301.7 L254.0,303.3 L255.0,306.7 L256.0,300.3 L257.0,295.6 L258.0,301.1 L259.0,302.3 L260.0,302.7 L261.0,307.2 L262.0,303.5 L263.0,305.4 L264.0,298.2 L265.0,305.6 L266.0,310.2 L267.0,305.3 L268.0,303.4 L269.0,303.0 L270.0,309.2 L271.0,299.0 L272.0,302.1 L273.0,304.2 L274.0,305.3 L275.0,300.9 L276.0,303.6 L277.0,301.3 L278.0,302.7 L279.0,301.5 L280.0,297.5 L281.0,301.5 L282.0,304.6 L283.0,297.3 L284.0,299.7 L285.0,302.9 L286.0,295.9 L287.0,300.5 L288.0,295.4 L289.0,303.6 L290.0,307.9 L291.0,306.4 L292.0,297.3 L293.0,300.7 L294.0,298.0 L295.0,297.6 L296.0,303.2 L297.0,291.8 L298.0,301.3 L299.0,297.1 L300.0,303.1 L301.0,298.7 L302.0,295.8 L303.0,299.9 L304.0,302.1 L305.0,299.8 L306.0,301.9 L307.0,298.3 L308.0,292.4 L309.0,304.2 L310.0,303.7 L311.0,301.9 L312.0,301.8 L313.0,305.7 L314.0,300.3 L315.0,299.6 L316.0,301.8 L317.0,307.1 L318.0,297.8 L319.0,307.6 L320.0,301.0 L321.0,299.5 L322.0,308.4 L323.0,303.6 L324.0,299.3 L325.0,303.0 L326.0,307.8 L327.0,309.0 L328.0,303.2 L329.0,306.4 L330.0,307.6 L331.0,302.8 L332.0,306.5 L333.0,305.2 L334.0,303.5 L335.0,303.8 L336.0,305.9 L337.0,305.9 L338.0,303.9 L339.0,304.5 L340.0,310.1 L341.0,307.0 L342.0,309.5 L343.0,310.8 L344.0,308.7 L345.0,314.8 L346.0,303.8 L347.0,309.7 L348.0,305.8 L349.0,313.7 L350.0,313.2 L351.0,300.2 L352.0,303.8 L353.0,309.8 L354.0,310.3 L355.0,310.2 L356.0,307.4 L357.0,309.3 L358.0,310.1 L359.0,307.6 L360.0,311.6 L361.0,299.8 L362.0,310.3 L363.0,304.4 L364.0,311.6 L365.0,307.4 L366.0,305.1 L367.0,309.7 L368.0,305.1 L369.0,305.2 L370.0,302.9 L371.0,308.5 L372.0,310.4 L373.0,312.4 L374.0,308.2 L375.0,312.6 L376.0,308.9 L377.0,308.5 L378.0,311.0 L379.0,312.8 L380.0,307.8 L381.0,308.2 L382.0,308.5 L383.0,309.4 L384.0,305.9 L385.0,312.9 L386.0,307.8 L387.0,310.9 L388.0,306.3 L389.0,310.6 L390.0,310.8 L391.0,307.9 L392.0,316.7 L393.0,310.8 L394.0,315.9 L395.0,313.0 L396.0,307.2 L397.0,308.2 L398.0,311.2 L399.0,309.9 L400.0,309.9 L401.0,308.7 L402.0,303.2 L403.0,309.0 L404.0,301.8 L405.0,311.2 L406.0,307.2 L407.0,307.3 L408.0,309.1 L409.0,310.9 L410.0,304.8 L411.0,303.6 L412.0,306.1 L413.0,302.6 L414.0,306.5 L415.0,315.7 L416.0,306.2 L417.0,312.3 L418.0,305.1 L419.0,311.1 L420.0,308.8 L421.0,309.8 L422.0,312.0 L423.0,316.3 L424.0,310.6 L425.0,310.4 L426.0,306.4 L427.0,311.9 L428.0,308.9 L429.0,312.7 L430.0,309.5 L431.0,315.9 L432.0,302.4 L433.0,308.4 L434.0,312.6 L435.0,308.1 L436.0,306.4 L437.0,308.2 L438.0,304.1 L439.0,309.4 L440.0,317.7 L441.0,312.9 L442.0,304.7 L443.0,305.5 L444.0,307.1 L445.0,312.1 L446.0,305.4 L447.0,305.8 L448.0,311.4 L449.0,311.2 L450.0,306.7 L451.0,303.9 L452.0,302.2 L453.0,305.2 L454.0,299.6 L455.0,310.2 L456.0,305.1 L457.0,309.0 L458.0,313.9 L459.0,311.2 L460.0,302.8 L461.0,309.9 L462.0,310.8 L463.0,303.8 L464.0,302.9 L465.0,305.8 L466.0,300.3 L467.0,311.2 L468.0,297.1 L469.0,301.6 L470.0,304.5 L471.0,304.5 L472.0,305.8 L473.0,306.0 L474.0,304.1 L475.0,308.9 L476.0,296.8 L477.0,304.4 L478.0,301.7 L479.0,304.6 L480.0,304.8 L481.0,300.5 L482.0,301.3 L483.0,306.5 L484.0,304.7 L485.0,300.7 L486.0,310.7 L487.0,311.6 L488.0,297.4 L489.0,303.8 L490.0,311.9 L491.0,305.3 L492.0,303.0 L493.0,301.3 L494.0,299.8 L495.0,300.9 L496.0,299.5 L497.0,304.2 L498.0,299.7 L499.0,299.4 L500.0,296.3 L501.0,300.5 L502.0,297.1 L503.0,299.7 L504.0,304.2 L505.0,301.4 L506.0,301.7 L507.0,301.0 L508.0,299.6 L509.0,298.7 L510.0,297.8 L511.0,301.7 L512.0,294.3 L513.0,303.6 L514.0,298.2 L515.0,294.9 L516.0,295.7 L517.0,294.7 L518.0,297.7 L519.0,294.0 L520.0,301.1 L521.0,293.2 L522.0,286.9 L523.0,292.8 L524.0,287.4 L525.0,295.0 L526.0,299.1 L527.0,297.2 L528.0,288.8 L529.0,290.9 L530.0,301.0 L531.0,294.7 L532.0,293.1 L533.0,297.2 L534.0,302.7 L535.0,297.7 L536.0,292.6 L537.0,293.2 L538.0,294.1 L539.0,288.7 L540.0,286.6 L541.0,291.0 L542.0,286.6 L543.0,290.1 L544.0,290.6 L545.0,299.9 L546.0,286.2 L547.0,289.2 L548.0,288.8 L549.0,291.2 L550.0,293.6 L551.0,286.8 L552.0,285.1 L553.0,281.3 L554.0,284.0 L555.0,290.0 L556.0,287.4 L557.0,282.0 L558.0,283.7 L559.0,284.3 L560.0,285.1 L561.0,278.8 L562.0,279.1 L563.0,270.6 L564.0,272.7 L565.0,284.9 L566.0,265.9 L567.0,273.9 L568.0,275.7 L569.0,272.0 L570.0,268.9 L571.0,271.7 L572.0,271.0 L573.0,269.7 L574.0,259.7 L575.0,267.5 L576.0,262.8 L577.0,263.3 L578.0,266.3 L579.0,267.3 L580.0,267.5 L581.0,258.8 L582.0,265.2 L583.0,265.3 L584.0,263.8 L585.0,263.8 L586.0,253.6 L587.0,251.8 L588.0,255.6 L589.0,240.8 L590.0,248.2 L591.0,242.2 L592.0,241.7 L593.0,231.8 L594.0,235.6 L595.0,239.8 L596.0,244.4 L597.0,244.3 L598.0,237.1 L599.0,236.3 L600.0,232.3 L601.0,240.2 L602.0,236.2 L603.0,241.8 L604.0,249.3 L605.0,238.4 L606.0,230.3 L607.0,236.3 L608.0,234.9 L609.0,238.6 L610.0,255.2 L611.0,250.1 L612.0,241.1 L613.0,255.0 L614.0,259.8 L615.0,252.0 L616.0,252.1 L617.0,256.1 L618.0,261.9 L619.0,266.3 L620.0,271.6 L621.0,274.4 L622.0,277.2 L623.0,281.1 L624.0,280.6 L625.0,272.9 L626.0,281.8 L627.0,286.1 L628.0,285.3 L629.0,292.9 L630.0,289.5 L631.0,288.9 L632.0,300.2 L633.0,298.4 L634.0,297.9 L635.0,301.9 L636.0,303.6 L637.0,301.8 L638.0,292.2 L639.0,299.7 L640.0,301.2 L641.0,299.7 L642.0,304.5 L643.0,308.5 L644.0,302.7 L645.0,300.6 L646.0,312.5 L647.0,303.7 L648.0,301.1 L649.0,306.6 L650.0,307.4 L651.0,303.5 L652.0,308.9 L653.0,304.4 L654.0,302.9 L655.0,306.9 L656.0,309.2 L657.0,304.2 L658.0,307.7 L659.0,306.3 L660.0,316.8 L661.0,304.2 L662.0,311.8 L663.0,306.7 L664.0,306.5 L665.0,309.6 L666.0,310.2 L667.0,311.6 L668.0,308.3 L669.0,305.0 L670.0,305.3 L671.0,309.1 L672.0,309.4 L673.0,312.4 L674.0,308.9 L675.0,311.3 L676.0,313.0 L677.0,308.1 L678.0,302.2 L679.0,303.4 L680.0,302.5 L681.0,313.4 L682.0,304.7 L683.0,312.2 L684.0,309.9 L685.0,314.0 L686.0,311.4 L687.0,307.5 L688.0,307.1 L689.0,308.2 L690.0,308.5 L691.0,306.0 L692.0,307.8 L693.0,313.7 L694.0,301.8 L695.0,308.9 L696.0,304.7 L697.0,308.7 L698.0,311.0 L699.0,307.8 L700.0,310.8 L701.0,302.3 L702.0,312.0" stroke="#000" stroke-width="1.5" fill="none" stroke-linejoin="round"/>
<path d="M155.0,406.20 L312.0,419.00" stroke="#7d7d7d" stroke-width="1.9" stroke-dasharray="9.5,9.6" fill="none"/>
<path d="M450.8,420.00 L702.0,418.00" stroke="#7d7d7d" stroke-width="1.9" stroke-dasharray="9.5,9.6" fill="none"/>
<path d="M53.6,421.5 L54.7,421.5 L55.8,417.5 L56.9,408.2 L58.0,409.5 L59.1,408.8 L60.2,408.9 L61.3,402.7 L62.4,399.3 L63.5,391.9 L64.6,394.0 L65.7,387.7 L66.8,373.7 L67.9,367.5 L69.0,360.9 L70.1,364.6 L71.2,367.4 L72.3,361.8 L73.4,362.7 L74.5,360.9 L75.6,357.3 L76.7,362.6 L77.8,356.6 L78.9,358.9 L80.0,360.0 L81.1,361.4 L82.2,360.4 L83.3,360.4 L84.4,357.8 L85.5,356.7 L86.6,360.0 L87.7,358.5 L88.8,358.1 L89.9,359.4 L91.0,362.3 L92.1,360.4 L93.2,363.0 L94.3,363.7 L95.4,369.0 L96.5,370.2 L97.6,374.2 L98.7,366.3 L99.8,368.2 L100.9,371.9 L102.0,369.2 L103.1,368.7 L104.2,373.0 L105.3,368.1 L106.4,366.3 L107.5,366.8 L108.6,371.9 L109.7,373.4 L110.8,371.1 L111.9,373.3 L113.0,378.2 L114.1,379.7 L115.2,377.7 L116.3,380.7 L117.4,380.4 L118.5,374.9 L119.6,378.1 L120.7,379.7 L121.8,377.8 L122.9,375.0 L124.0,380.3 L125.1,384.0 L126.2,387.2 L127.3,379.8 L128.4,391.9 L129.5,384.5 L130.6,390.6 L131.7,392.4 L132.8,392.9 L133.9,391.9 L135.0,389.5 L136.1,394.2 L137.2,391.7 L138.3,388.0 L139.4,400.7 L140.5,396.3 L141.6,399.2 L142.7,393.4 L143.8,399.2 L144.9,400.0 L146.0,400.3 L147.1,397.2 L148.2,395.1 L149.3,398.1 L150.4,394.0 L151.5,395.8 L152.6,400.5 L153.7,398.6 L154.8,401.0 L155.9,401.5 L157.0,406.5 L158.1,405.3 L159.2,402.4 L160.3,405.5 L161.4,401.1 L162.5,402.3 L163.6,405.4 L164.7,400.5 L165.8,402.9 L166.9,400.6 L168.0,404.0 L169.1,407.6 L170.2,402.2 L171.3,404.6 L172.4,402.1 L173.5,401.6 L174.6,401.4 L175.7,407.6 L176.8,409.7 L177.9,405.4 L179.0,402.5 L180.1,405.7 L181.2,403.1 L182.3,405.3 L183.4,403.7 L184.5,402.9 L185.6,402.7 L186.7,398.7 L187.8,397.4 L188.9,392.1 L190.0,392.3 L191.1,386.8 L192.2,385.9 L193.3,379.8 L194.4,377.7 L195.5,374.0 L196.6,365.5 L197.7,363.7 L198.8,361.6 L199.9,365.5 L201.0,369.5 L202.1,370.8 L203.2,372.3 L204.3,381.2 L205.4,379.0 L206.5,390.4 L207.6,389.5 L208.7,388.1 L209.8,403.6 L210.9,403.5 L212.0,399.5 L213.1,403.8 L214.2,404.1 L215.3,405.7 L216.4,402.8 L217.5,405.3 L218.6,408.4 L219.7,408.2 L220.8,410.8 L221.9,408.5 L223.0,414.0 L224.1,407.2 L225.2,409.6 L226.3,404.8 L227.4,406.5 L228.5,412.6 L229.6,407.6 L230.7,411.1 L231.8,409.9 L232.9,407.8 L234.0,409.5 L235.1,409.3 L236.2,409.4 L237.3,412.4 L238.4,412.3 L239.5,409.6 L240.6,408.9 L241.7,411.7 L242.8,411.0 L243.9,413.6 L245.0,417.5 L246.1,413.4 L247.2,411.4 L248.3,411.2 L249.4,409.7 L250.5,409.7 L251.6,409.5 L252.7,411.0 L253.8,410.9 L254.9,413.7 L256.0,411.1 L257.1,411.6 L258.2,409.3 L259.3,415.9 L260.4,413.3 L261.5,416.2 L262.6,413.9 L263.7,415.5 L264.8,411.5 L265.9,413.6 L267.0,418.1 L268.1,409.0 L269.2,414.3 L270.3,415.3 L271.4,411.9 L272.5,412.2 L273.6,412.5 L274.7,406.7 L275.8,407.0 L276.9,400.8 L278.0,396.7 L279.1,390.5 L280.2,383.6 L281.3,374.8 L282.4,365.3 L283.5,351.3 L284.6,352.2 L285.7,347.7 L286.8,349.5 L287.9,354.2 L289.0,364.6 L290.1,376.5 L291.2,385.8 L292.3,389.1 L293.4,401.2 L294.5,411.2 L295.6,403.3 L296.7,412.3 L297.8,412.3 L298.9,412.3 L300.0,416.5 L301.1,411.0 L302.2,414.6 L303.3,418.0 L304.4,414.4 L305.5,414.1 L306.6,415.6 L307.7,414.5 L308.8,419.4 L309.9,413.7 L311.0,418.1 L312.1,413.2 L313.2,417.9 L314.3,416.2 L315.4,410.4 L316.5,416.6 L317.6,414.2 L318.7,415.8 L319.8,420.5 L320.9,414.3 L322.0,414.5 L323.1,420.5 L324.2,417.5 L325.3,420.9 L326.4,418.1 L327.5,415.3 L328.6,417.3 L329.7,420.4 L330.8,419.8 L331.9,417.7 L333.0,417.8 L334.1,417.5 L335.2,416.5 L336.3,422.5 L337.4,418.0 L338.5,415.3 L339.6,417.0 L340.7,419.9 L341.8,419.7 L342.9,417.9 L344.0,416.8 L345.1,418.5 L346.2,414.5 L347.3,415.5 L348.4,420.5 L349.5,417.5 L350.6,419.6 L351.7,421.7 L352.8,420.4 L353.9,419.0 L355.0,424.1 L356.1,420.7 L357.2,418.3 L358.3,421.0 L359.4,420.3 L360.5,417.3 L361.6,419.6 L362.7,419.1 L363.8,414.9 L364.9,419.2 L366.0,419.0 L367.1,418.7 L368.2,415.9 L369.3,419.0 L370.4,419.8 L371.5,420.2 L372.6,417.3 L373.7,421.5 L374.8,417.2 L375.9,419.6 L377.0,423.3 L378.1,418.6 L379.2,419.0 L380.3,422.8 L381.4,419.4 L382.5,419.6 L383.6,420.8 L384.7,422.8 L385.8,415.1 L386.9,418.4 L388.0,418.0 L389.1,417.9 L390.2,418.4 L391.3,418.5 L392.4,421.2 L393.5,418.4 L394.6,420.8 L395.7,421.5 L396.8,418.8 L397.9,420.9 L399.0,424.4 L400.1,421.4 L401.2,419.1 L402.3,420.5 L403.4,418.5 L404.5,421.3 L405.6,422.7 L406.7,418.7 L407.8,420.2 L408.9,423.3 L410.0,419.5 L411.1,421.1 L412.2,418.3 L413.3,418.8 L414.4,419.5 L415.5,425.7 L416.6,419.8 L417.7,419.5 L418.8,419.4 L419.9,420.3 L421.0,422.2 L422.1,421.1 L423.2,425.4 L424.3,421.2 L425.4,424.0 L426.5,421.3 L427.6,422.0 L428.7,417.3 L429.8,420.3 L430.9,420.4 L432.0,419.9 L433.1,415.5 L434.2,422.4 L435.3,419.5 L436.4,419.3 L437.5,419.7 L438.6,419.7 L439.7,421.2 L440.8,417.3 L441.9,418.0 L443.0,420.8 L444.1,420.4 L445.2,419.2 L446.3,418.7 L447.4,418.1 L448.5,419.8 L449.6,422.7 L450.7,417.5 L451.8,423.4 L452.9,421.8 L454.0,418.8 L455.1,421.6 L456.2,416.4 L457.3,415.8 L458.4,416.8 L459.5,418.8 L460.6,419.0 L461.7,418.5 L462.8,419.9 L463.9,414.7 L465.0,420.7 L466.1,416.3 L467.2,418.0 L468.3,418.6 L469.4,416.8 L470.5,416.3 L471.6,417.1 L472.7,419.3 L473.8,420.7 L474.9,420.6 L476.0,416.9 L477.1,417.4 L478.2,417.0 L479.3,420.1 L480.4,414.3 L481.5,421.8 L482.6,417.7 L483.7,417.0 L484.8,419.5 L485.9,420.9 L487.0,419.3 L488.1,420.8 L489.2,418.5 L490.3,420.9 L491.4,420.8 L492.5,417.6 L493.6,420.9 L494.7,417.8 L495.8,417.5 L496.9,415.0 L498.0,416.2 L499.1,418.5 L500.2,413.4 L501.3,417.7 L502.4,416.8 L503.5,416.4 L504.6,410.4 L505.7,415.0 L506.8,416.5 L507.9,413.0 L509.0,414.7 L510.1,408.7 L511.2,415.5 L512.3,412.1 L513.4,415.4 L514.5,408.9 L515.6,414.5 L516.7,412.2 L517.8,414.3 L518.9,410.1 L520.0,410.7 L521.1,417.1 L522.2,409.8 L523.3,410.0 L524.4,410.8 L525.5,409.0 L526.6,413.9 L527.7,415.1 L528.8,409.3 L529.9,406.9 L531.0,413.4 L532.1,413.0 L533.2,412.1 L534.3,412.5 L535.4,407.4 L536.5,408.4 L537.6,405.0 L538.7,404.2 L539.8,408.8 L540.9,404.1 L542.0,409.9 L543.1,403.9 L544.2,401.3 L545.3,403.8 L546.4,405.3 L547.5,401.6 L548.6,397.2 L549.7,400.3 L550.8,402.2 L551.9,397.5 L553.0,396.4 L554.1,400.0 L555.2,397.4 L556.3,393.9 L557.4,394.8 L558.5,393.2 L559.6,394.8 L560.7,393.7 L561.8,395.5 L562.9,394.0 L564.0,388.4 L565.1,392.7 L566.2,393.7 L567.3,392.5 L568.4,393.7 L569.5,389.9 L570.6,388.7 L571.7,392.5 L572.8,387.1 L573.9,383.5 L575.0,389.5 L576.1,383.8 L577.2,382.7 L578.3,377.9 L579.4,375.5 L580.5,373.1 L581.6,372.0 L582.7,370.7 L583.8,361.6 L584.9,365.8 L586.0,358.7 L587.1,356.7 L588.2,358.7 L589.3,355.2 L590.4,350.2 L591.5,356.5 L592.6,348.9 L593.7,350.0 L594.8,348.3 L595.9,349.0 L597.0,342.4 L598.1,343.1 L599.2,336.2 L600.3,337.8 L601.4,331.1 L602.5,330.3 L603.6,334.9 L604.7,331.9 L605.8,333.6 L606.9,341.9 L608.0,342.1 L609.1,344.8 L610.2,354.4 L611.3,356.5 L612.4,368.5 L613.5,375.3 L614.6,377.6 L615.7,383.4 L616.8,390.6 L617.9,395.0 L619.0,396.8 L620.1,403.9 L621.2,400.8 L622.3,406.8 L623.4,408.8 L624.5,410.5 L625.6,413.0 L626.7,410.4 L627.8,415.2 L628.9,414.0 L630.0,413.3 L631.1,412.0 L632.2,412.7 L633.3,416.4 L634.4,413.5 L635.5,416.0 L636.6,418.5 L637.7,418.5 L638.8,419.8 L639.9,415.6 L641.0,413.9 L642.1,418.8 L643.2,417.2 L644.3,419.2 L645.4,416.7 L646.5,419.5 L647.6,418.7 L648.7,418.4 L649.8,418.0 L650.9,417.8 L652.0,417.5 L653.1,417.5 L654.2,419.3 L655.3,415.8 L656.4,421.0 L657.5,416.8 L658.6,419.4 L659.7,416.9 L660.8,416.6 L661.9,421.9 L663.0,416.5 L664.1,414.3 L665.2,415.6 L666.3,416.5 L667.4,422.2 L668.5,417.8 L669.6,419.5 L670.7,415.0 L671.8,418.2 L672.9,418.9 L674.0,421.5 L675.1,415.8 L676.2,418.8 L677.3,418.1 L678.4,415.1 L679.5,417.4 L680.6,416.9 L681.7,412.1 L682.8,418.9 L683.9,418.7 L685.0,416.5 L686.1,414.4 L687.2,420.9 L688.3,418.1 L689.4,419.9 L690.5,420.8 L691.6,416.4 L692.7,419.4 L693.8,417.0 L694.9,417.4 L696.0,417.4 L697.1,417.6 L698.2,420.2 L699.3,417.9 L700.4,417.3 L701.5,417.0" stroke="#000" stroke-width="1.3" fill="none" stroke-linejoin="round"/>
<path d="M169.1,403.9 L170.2,404.0 L171.3,404.1 L172.4,404.2 L173.5,404.3 L174.6,404.3 L175.7,404.4 L176.8,404.4 L177.9,404.4 L179.0,404.3 L180.1,404.1 L181.2,403.9 L182.3,403.6 L183.4,403.1 L184.5,402.4 L185.6,401.4 L186.7,400.1 L187.8,398.4 L188.9,396.2 L190.0,393.5 L191.1,390.2 L192.2,386.4 L193.3,382.1 L194.4,377.6 L195.5,373.0 L196.6,368.9 L197.7,365.7 L198.8,363.9 L199.9,363.9 L201.0,365.7 L202.1,369.0 L203.2,373.2 L204.3,377.9 L205.4,382.7 L206.5,387.1 L207.6,391.2 L208.7,394.7 L209.8,397.6 L210.9,400.1 L212.0,402.0 L213.1,403.6 L214.2,404.8 L215.3,405.7 L216.4,406.4 L217.5,407.0 L218.6,407.5 L219.7,407.9 L220.8,408.2 L221.9,408.5 L223.0,408.8 L224.1,409.0 L225.2,409.3 L226.3,409.5 L227.4,409.7 L228.5,409.8 L229.6,410.0 L229.60,412.28 L169.10,407.35 Z" fill="rgb(200,200,200)" fill-opacity="0.7" stroke="#8a8a8a" stroke-width="0.8"/>
<path d="M263.7,412.4 L264.8,412.4 L265.9,412.3 L267.0,412.2 L268.1,412.1 L269.2,411.9 L270.3,411.6 L271.4,411.3 L272.5,410.7 L273.6,409.8 L274.7,408.5 L275.8,406.3 L276.9,403.1 L278.0,398.5 L279.1,392.2 L280.2,384.2 L281.3,374.7 L282.4,364.5 L283.5,354.9 L284.6,347.8 L285.7,345.2 L286.8,348.0 L287.9,355.2 L289.0,365.0 L290.1,375.4 L291.2,385.0 L292.3,393.2 L293.4,399.7 L294.5,404.5 L295.6,407.8 L296.7,410.1 L297.8,411.7 L298.9,412.7 L300.0,413.4 L301.1,414.0 L302.2,414.4 L303.3,414.7 L304.4,415.0 L305.5,415.3 L306.6,415.5 L306.60,418.56 L263.70,415.06 Z" fill="rgb(200,200,200)" fill-opacity="0.7" stroke="#8a8a8a" stroke-width="0.8"/>
<path d="M451.8,420.0 L452.9,420.0 L454.0,420.0 L455.1,419.9 L456.2,419.9 L457.3,419.9 L458.4,419.9 L459.5,419.9 L460.6,419.9 L461.7,419.9 L462.8,419.9 L463.9,419.9 L465.0,419.9 L466.1,419.9 L467.2,419.8 L468.3,419.8 L469.4,419.8 L470.5,419.8 L471.6,419.8 L472.7,419.8 L473.8,419.8 L474.9,419.8 L476.0,419.8 L477.1,419.8 L478.2,419.8 L479.3,419.7 L480.4,419.7 L481.5,419.7 L482.6,419.7 L483.7,419.7 L484.8,419.7 L485.9,419.7 L487.0,419.7 L488.1,419.7 L489.2,419.7 L490.3,419.7 L491.4,419.6 L492.5,419.6 L493.6,419.6 L494.7,419.6 L495.8,419.6 L496.9,419.6 L498.0,419.6 L499.1,419.6 L500.2,419.6 L501.3,419.6 L502.4,419.6 L503.5,419.5 L504.6,419.5 L505.7,419.5 L506.8,419.5 L507.9,419.5 L509.0,419.5 L510.1,419.5 L511.2,419.5 L512.3,419.5 L513.4,419.5 L514.5,419.4 L515.6,419.4 L516.7,419.4 L517.8,419.4 L518.9,419.4 L520.0,419.4 L521.1,419.4 L522.2,419.4 L523.3,419.4 L524.4,419.4 L525.5,419.3 L526.6,419.3 L527.7,419.3 L528.8,419.3 L529.9,419.3 L531.0,419.3 L532.1,419.3 L533.2,419.3 L534.3,419.3 L535.4,419.2 L536.5,419.2 L537.6,419.2 L538.7,419.2 L539.8,419.2 L540.9,419.2 L542.0,419.2 L543.1,419.2 L544.2,419.1 L545.3,419.1 L546.4,419.1 L547.5,419.1 L548.6,419.1 L549.7,419.1 L550.8,419.1 L551.9,419.1 L553.0,419.0 L554.1,419.0 L555.2,419.0 L556.3,419.0 L557.4,419.0 L558.5,419.0 L559.6,418.9 L560.7,418.9 L561.8,418.9 L562.9,418.9 L564.0,418.9 L565.1,418.8 L566.2,418.8 L567.3,418.8 L568.4,418.8 L569.5,418.8 L570.6,418.7 L571.7,418.7 L572.8,418.7 L573.9,418.6 L575.0,418.6 L576.1,418.6 L577.2,418.5 L578.3,418.5 L579.4,418.4 L580.5,418.3 L581.6,418.2 L582.7,418.0 L583.8,417.8 L584.9,417.5 L586.0,417.0 L587.1,416.3 L588.2,415.4 L589.3,414.1 L590.4,412.3 L591.5,410.0 L592.6,407.1 L593.7,403.5 L594.8,399.2 L595.9,394.2 L597.0,388.7 L598.1,382.7 L599.2,376.6 L600.3,370.6 L601.4,365.2 L602.5,360.6 L603.6,357.3 L604.7,355.5 L605.8,355.4 L606.9,356.7 L608.0,359.2 L609.1,362.8 L610.2,367.3 L611.3,372.3 L612.4,377.7 L613.5,383.1 L614.6,388.4 L615.7,393.3 L616.8,397.8 L617.9,401.8 L619.0,405.3 L620.1,408.2 L621.2,410.5 L622.3,412.4 L623.4,413.9 L624.5,415.0 L625.6,415.9 L626.7,416.5 L627.8,417.0 L628.9,417.3 L630.0,417.5 L631.1,417.7 L632.2,417.8 L633.3,417.9 L634.4,417.9 L635.5,418.0 L636.6,418.0 L637.7,418.0 L638.8,418.1 L639.9,418.1 L641.0,418.1 L642.1,418.1 L643.2,418.1 L644.3,418.1 L645.4,418.1 L646.5,418.2 L647.6,418.2 L648.7,418.2 L649.8,418.2 L650.9,418.2 L652.0,418.2 L653.1,418.2 L654.2,418.2 L655.3,418.2 L656.4,418.2 L657.5,418.2 L658.6,418.2 L659.7,418.2 L660.8,418.2 L661.9,418.2 L663.0,418.2 L664.1,418.2 L665.2,418.2 L666.3,418.1 L667.4,418.1 L668.5,418.1 L669.6,418.1 L670.7,418.1 L671.8,418.1 L672.9,418.1 L674.0,418.1 L675.1,418.1 L676.2,418.1 L677.3,418.1 L678.4,418.1 L679.5,418.1 L680.6,418.1 L681.7,418.1 L682.8,418.1 L683.9,418.1 L685.0,418.1 L686.1,418.0 L687.2,418.0 L688.3,418.0 L689.4,418.0 L690.5,418.0 L691.6,418.0 L692.7,418.0 L693.8,418.0 L694.9,418.0 L696.0,418.0 L697.1,418.0 L698.2,418.0 L699.3,418.0 L700.4,418.0 L701.5,417.9 L701.50,418.00 L451.80,419.99 Z" fill="rgb(108,100,255)" stroke="#2020a0" stroke-width="0.6"/>
<path d="M451.8,420.0 L452.9,420.0 L454.0,420.0 L455.1,419.9 L456.2,419.9 L457.3,419.9 L458.4,419.9 L459.5,419.9 L460.6,419.9 L461.7,419.9 L462.8,419.9 L463.9,419.9 L465.0,419.9 L466.1,419.9 L467.2,419.8 L468.3,419.8 L469.4,419.8 L470.5,419.8 L471.6,419.8 L472.7,419.8 L473.8,419.8 L474.9,419.8 L476.0,419.8 L477.1,419.8 L478.2,419.8 L479.3,419.7 L480.4,419.7 L481.5,419.7 L482.6,419.7 L483.7,419.7 L484.8,419.7 L485.9,419.7 L487.0,419.7 L488.1,419.7 L489.2,419.7 L490.3,419.7 L491.4,419.6 L492.5,419.6 L493.6,419.6 L494.7,419.6 L495.8,419.6 L496.9,419.6 L498.0,419.6 L499.1,419.6 L500.2,419.6 L501.3,419.6 L502.4,419.6 L503.5,419.5 L504.6,419.5 L505.7,419.5 L506.8,419.5 L507.9,419.5 L509.0,419.5 L510.1,419.5 L511.2,419.5 L512.3,419.5 L513.4,419.5 L514.5,419.4 L515.6,419.4 L516.7,419.4 L517.8,419.4 L518.9,419.4 L520.0,419.4 L521.1,419.4 L522.2,419.4 L523.3,419.4 L524.4,419.4 L525.5,419.3 L526.6,419.3 L527.7,419.3 L528.8,419.3 L529.9,419.3 L531.0,419.3 L532.1,419.3 L533.2,419.3 L534.3,419.3 L535.4,419.2 L536.5,419.2 L537.6,419.2 L538.7,419.2 L539.8,419.2 L540.9,419.2 L542.0,419.2 L543.1,419.2 L544.2,419.1 L545.3,419.1 L546.4,419.1 L547.5,419.1 L548.6,419.1 L549.7,419.1 L550.8,419.1 L551.9,419.1 L553.0,419.0 L554.1,419.0 L555.2,419.0 L556.3,419.0 L557.4,419.0 L558.5,419.0 L559.6,418.9 L560.7,418.9 L561.8,418.9 L562.9,418.9 L564.0,418.9 L565.1,418.8 L566.2,418.8 L567.3,418.8 L568.4,418.8 L569.5,418.8 L570.6,418.7 L571.7,418.7 L572.8,418.7 L573.9,418.6 L575.0,418.6 L576.1,418.6 L577.2,418.5 L578.3,418.5 L579.4,418.4 L580.5,418.3 L581.6,418.2 L582.7,418.0 L583.8,417.8 L584.9,417.5 L586.0,417.0 L587.1,416.3 L588.2,415.4 L589.3,414.1 L590.4,412.3 L591.5,410.0 L592.6,407.1 L593.7,403.5 L594.8,399.2 L595.9,394.2 L597.0,388.7 L598.1,382.7 L599.2,376.6 L600.3,370.6 L601.4,365.2 L602.5,360.6 L603.6,357.3 L604.7,355.5 L605.8,355.4 L606.9,356.7 L608.0,359.2 L609.1,362.8 L610.2,367.3 L611.3,372.3 L612.4,377.7 L613.5,383.1 L614.6,388.4 L615.7,393.3 L616.8,397.8 L617.9,401.8 L619.0,405.3 L620.1,408.2 L621.2,410.5 L622.3,412.4 L623.4,413.9 L624.5,415.0 L625.6,415.9 L626.7,416.5 L627.8,417.0 L628.9,417.3 L630.0,417.5 L631.1,417.7 L632.2,417.8 L633.3,417.9 L634.4,417.9 L635.5,418.0 L636.6,418.0 L637.7,418.0 L638.8,418.1 L639.9,418.1 L641.0,418.1 L642.1,418.1 L643.2,418.1 L644.3,418.1 L645.4,418.1 L646.5,418.2 L647.6,418.2 L648.7,418.2 L649.8,418.2 L650.9,418.2 L652.0,418.2 L653.1,418.2 L654.2,418.2 L655.3,418.2 L656.4,418.2 L657.5,418.2 L658.6,418.2 L659.7,418.2 L660.8,418.2 L661.9,418.2 L663.0,418.2 L664.1,418.2 L665.2,418.2 L666.3,418.1 L667.4,418.1 L668.5,418.1 L669.6,418.1 L670.7,418.1 L671.8,418.1 L672.9,418.1 L674.0,418.1 L675.1,418.1 L676.2,418.1 L677.3,418.1 L678.4,418.1 L679.5,418.1 L680.6,418.1 L681.7,418.1 L682.8,418.1 L683.9,418.1 L685.0,418.1 L686.1,418.0 L687.2,418.0 L688.3,418.0 L689.4,418.0 L690.5,418.0 L691.6,418.0 L692.7,418.0 L693.8,418.0 L694.9,418.0 L696.0,418.0 L697.1,418.0 L698.2,418.0 L699.3,418.0 L700.4,418.0 L701.5,417.9 L701.50,418.00 L451.80,419.99 Z" fill="url(#hb)"/>
<path d="M451.8,419.7 L452.9,419.7 L454.0,419.7 L455.1,419.6 L456.2,419.6 L457.3,419.6 L458.4,419.6 L459.5,419.6 L460.6,419.6 L461.7,419.6 L462.8,419.5 L463.9,419.5 L465.0,419.5 L466.1,419.5 L467.2,419.5 L468.3,419.5 L469.4,419.4 L470.5,419.4 L471.6,419.4 L472.7,419.4 L473.8,419.4 L474.9,419.4 L476.0,419.3 L477.1,419.3 L478.2,419.3 L479.3,419.3 L480.4,419.3 L481.5,419.3 L482.6,419.2 L483.7,419.2 L484.8,419.2 L485.9,419.2 L487.0,419.2 L488.1,419.1 L489.2,419.1 L490.3,419.1 L491.4,419.1 L492.5,419.1 L493.6,419.0 L494.7,419.0 L495.8,419.0 L496.9,419.0 L498.0,418.9 L499.1,418.9 L500.2,418.9 L501.3,418.9 L502.4,418.8 L503.5,418.8 L504.6,418.8 L505.7,418.8 L506.8,418.7 L507.9,418.7 L509.0,418.7 L510.1,418.6 L511.2,418.6 L512.3,418.6 L513.4,418.5 L514.5,418.5 L515.6,418.5 L516.7,418.4 L517.8,418.4 L518.9,418.3 L520.0,418.3 L521.1,418.3 L522.2,418.2 L523.3,418.2 L524.4,418.1 L525.5,418.1 L526.6,418.0 L527.7,418.0 L528.8,417.9 L529.9,417.8 L531.0,417.8 L532.1,417.7 L533.2,417.6 L534.3,417.5 L535.4,417.5 L536.5,417.4 L537.6,417.3 L538.7,417.1 L539.8,417.0 L540.9,416.9 L542.0,416.7 L543.1,416.6 L544.2,416.4 L545.3,416.2 L546.4,416.0 L547.5,415.7 L548.6,415.5 L549.7,415.2 L550.8,414.8 L551.9,414.5 L553.0,414.0 L554.1,413.6 L555.2,413.1 L556.3,412.5 L557.4,411.9 L558.5,411.2 L559.6,410.5 L560.7,409.7 L561.8,408.8 L562.9,407.8 L564.0,406.8 L565.1,405.7 L566.2,404.5 L567.3,403.3 L568.4,402.0 L569.5,400.6 L570.6,399.2 L571.7,397.6 L572.8,396.1 L573.9,394.5 L575.0,392.9 L576.1,391.2 L577.2,389.6 L578.3,387.9 L579.4,386.3 L580.5,384.7 L581.6,383.2 L582.7,381.8 L583.8,380.5 L584.9,379.4 L586.0,378.4 L587.1,377.6 L588.2,377.0 L589.3,376.6 L590.4,376.4 L591.5,376.5 L592.6,377.0 L593.7,377.8 L594.8,378.9 L595.9,380.3 L597.0,382.0 L598.1,383.8 L599.2,385.7 L600.3,387.7 L601.4,389.8 L602.5,391.9 L603.6,393.9 L604.7,395.9 L605.8,397.9 L606.9,399.7 L608.0,401.5 L609.1,403.1 L610.2,404.6 L611.3,406.1 L612.4,407.4 L613.5,408.5 L614.6,409.6 L615.7,410.6 L616.8,411.4 L617.9,412.2 L619.0,412.8 L620.1,413.4 L621.2,413.9 L622.3,414.4 L623.4,414.8 L624.5,415.1 L625.6,415.4 L626.7,415.6 L627.8,415.9 L628.9,416.0 L630.0,416.2 L631.1,416.4 L632.2,416.5 L633.3,416.6 L634.4,416.7 L635.5,416.8 L636.6,416.8 L637.7,416.9 L638.8,417.0 L639.9,417.0 L641.0,417.1 L642.1,417.1 L643.2,417.2 L644.3,417.2 L645.4,417.3 L646.5,417.3 L647.6,417.3 L648.7,417.4 L649.8,417.4 L650.9,417.4 L652.0,417.4 L653.1,417.5 L654.2,417.5 L655.3,417.5 L656.4,417.5 L657.5,417.5 L658.6,417.6 L659.7,417.6 L660.8,417.6 L661.9,417.6 L663.0,417.6 L664.1,417.6 L665.2,417.6 L666.3,417.6 L667.4,417.7 L668.5,417.7 L669.6,417.7 L670.7,417.7 L671.8,417.7 L672.9,417.7 L674.0,417.7 L675.1,417.7 L676.2,417.7 L677.3,417.7 L678.4,417.7 L679.5,417.7 L680.6,417.7 L681.7,417.7 L682.8,417.7 L683.9,417.7 L685.0,417.7 L686.1,417.7 L687.2,417.7 L688.3,417.7 L689.4,417.7 L690.5,417.7 L691.6,417.7 L692.7,417.7 L693.8,417.7 L694.9,417.7 L696.0,417.7 L697.1,417.7 L698.2,417.7 L699.3,417.7 L700.4,417.7 L701.5,417.7 L701.50,418.00 L451.80,419.99 Z" fill="rgb(232,140,17)" fill-opacity="0.65" stroke="#b06010" stroke-width="0.6"/>
<path d="M451.8,419.7 L452.9,419.7 L454.0,419.7 L455.1,419.6 L456.2,419.6 L457.3,419.6 L458.4,419.6 L459.5,419.6 L460.6,419.6 L461.7,419.6 L462.8,419.5 L463.9,419.5 L465.0,419.5 L466.1,419.5 L467.2,419.5 L468.3,419.5 L469.4,419.4 L470.5,419.4 L471.6,419.4 L472.7,419.4 L473.8,419.4 L474.9,419.4 L476.0,419.3 L477.1,419.3 L478.2,419.3 L479.3,419.3 L480.4,419.3 L481.5,419.3 L482.6,419.2 L483.7,419.2 L484.8,419.2 L485.9,419.2 L487.0,419.2 L488.1,419.1 L489.2,419.1 L490.3,419.1 L491.4,419.1 L492.5,419.1 L493.6,419.0 L494.7,419.0 L495.8,419.0 L496.9,419.0 L498.0,418.9 L499.1,418.9 L500.2,418.9 L501.3,418.9 L502.4,418.8 L503.5,418.8 L504.6,418.8 L505.7,418.8 L506.8,418.7 L507.9,418.7 L509.0,418.7 L510.1,418.6 L511.2,418.6 L512.3,418.6 L513.4,418.5 L514.5,418.5 L515.6,418.5 L516.7,418.4 L517.8,418.4 L518.9,418.3 L520.0,418.3 L521.1,418.3 L522.2,418.2 L523.3,418.2 L524.4,418.1 L525.5,418.1 L526.6,418.0 L527.7,418.0 L528.8,417.9 L529.9,417.8 L531.0,417.8 L532.1,417.7 L533.2,417.6 L534.3,417.5 L535.4,417.5 L536.5,417.4 L537.6,417.3 L538.7,417.1 L539.8,417.0 L540.9,416.9 L542.0,416.7 L543.1,416.6 L544.2,416.4 L545.3,416.2 L546.4,416.0 L547.5,415.7 L548.6,415.5 L549.7,415.2 L550.8,414.8 L551.9,414.5 L553.0,414.0 L554.1,413.6 L555.2,413.1 L556.3,412.5 L557.4,411.9 L558.5,411.2 L559.6,410.5 L560.7,409.7 L561.8,408.8 L562.9,407.8 L564.0,406.8 L565.1,405.7 L566.2,404.5 L567.3,403.3 L568.4,402.0 L569.5,400.6 L570.6,399.2 L571.7,397.6 L572.8,396.1 L573.9,394.5 L575.0,392.9 L576.1,391.2 L577.2,389.6 L578.3,387.9 L579.4,386.3 L580.5,384.7 L581.6,383.2 L582.7,381.8 L583.8,380.5 L584.9,379.4 L586.0,378.4 L587.1,377.6 L588.2,377.0 L589.3,376.6 L590.4,376.4 L591.5,376.5 L592.6,377.0 L593.7,377.8 L594.8,378.9 L595.9,380.3 L597.0,382.0 L598.1,383.8 L599.2,385.7 L600.3,387.7 L601.4,389.8 L602.5,391.9 L603.6,393.9 L604.7,395.9 L605.8,397.9 L606.9,399.7 L608.0,401.5 L609.1,403.1 L610.2,404.6 L611.3,406.1 L612.4,407.4 L613.5,408.5 L614.6,409.6 L615.7,410.6 L616.8,411.4 L617.9,412.2 L619.0,412.8 L620.1,413.4 L621.2,413.9 L622.3,414.4 L623.4,414.8 L624.5,415.1 L625.6,415.4 L626.7,415.6 L627.8,415.9 L628.9,416.0 L630.0,416.2 L631.1,416.4 L632.2,416.5 L633.3,416.6 L634.4,416.7 L635.5,416.8 L636.6,416.8 L637.7,416.9 L638.8,417.0 L639.9,417.0 L641.0,417.1 L642.1,417.1 L643.2,417.2 L644.3,417.2 L645.4,417.3 L646.5,417.3 L647.6,417.3 L648.7,417.4 L649.8,417.4 L650.9,417.4 L652.0,417.4 L653.1,417.5 L654.2,417.5 L655.3,417.5 L656.4,417.5 L657.5,417.5 L658.6,417.6 L659.7,417.6 L660.8,417.6 L661.9,417.6 L663.0,417.6 L664.1,417.6 L665.2,417.6 L666.3,417.6 L667.4,417.7 L668.5,417.7 L669.6,417.7 L670.7,417.7 L671.8,417.7 L672.9,417.7 L674.0,417.7 L675.1,417.7 L676.2,417.7 L677.3,417.7 L678.4,417.7 L679.5,417.7 L680.6,417.7 L681.7,417.7 L682.8,417.7 L683.9,417.7 L685.0,417.7 L686.1,417.7 L687.2,417.7 L688.3,417.7 L689.4,417.7 L690.5,417.7 L691.6,417.7 L692.7,417.7 L693.8,417.7 L694.9,417.7 L696.0,417.7 L697.1,417.7 L698.2,417.7 L699.3,417.7 L700.4,417.7 L701.5,417.7 L701.50,418.00 L451.80,419.99 Z" fill="url(#ho)"/>
<path d="M451.8,420.0 L452.9,420.0 L454.0,420.0 L455.1,420.0 L456.2,420.0 L457.3,419.9 L458.4,419.9 L459.5,419.9 L460.6,419.9 L461.7,419.9 L462.8,419.9 L463.9,419.9 L465.0,419.9 L466.1,419.8 L467.2,419.8 L468.3,419.8 L469.4,419.8 L470.5,419.8 L471.6,419.7 L472.7,419.7 L473.8,419.7 L474.9,419.7 L476.0,419.6 L477.1,419.6 L478.2,419.5 L479.3,419.5 L480.4,419.5 L481.5,419.4 L482.6,419.3 L483.7,419.3 L484.8,419.2 L485.9,419.1 L487.0,419.0 L488.1,418.9 L489.2,418.8 L490.3,418.7 L491.4,418.6 L492.5,418.5 L493.6,418.3 L494.7,418.2 L495.8,418.0 L496.9,417.8 L498.0,417.6 L499.1,417.5 L500.2,417.3 L501.3,417.1 L502.4,416.8 L503.5,416.6 L504.6,416.4 L505.7,416.2 L506.8,415.9 L507.9,415.7 L509.0,415.5 L510.1,415.2 L511.2,415.0 L512.3,414.8 L513.4,414.6 L514.5,414.3 L515.6,414.1 L516.7,413.9 L517.8,413.8 L518.9,413.6 L520.0,413.4 L521.1,413.3 L522.2,413.2 L523.3,413.1 L524.4,413.0 L525.5,412.9 L526.6,412.9 L527.7,412.9 L528.8,412.9 L529.9,412.9 L531.0,413.0 L532.1,413.0 L533.2,413.1 L534.3,413.2 L535.4,413.4 L536.5,413.5 L537.6,413.7 L538.7,413.8 L539.8,414.0 L540.9,414.2 L542.0,414.4 L543.1,414.6 L544.2,414.8 L545.3,415.0 L546.4,415.3 L547.5,415.5 L548.6,415.7 L549.7,415.9 L550.8,416.1 L551.9,416.3 L553.0,416.5 L554.1,416.7 L555.2,416.9 L556.3,417.1 L557.4,417.2 L558.5,417.4 L559.6,417.5 L560.7,417.7 L561.8,417.8 L562.9,417.9 L564.0,418.0 L565.1,418.2 L566.2,418.2 L567.3,418.3 L568.4,418.4 L569.5,418.5 L570.6,418.5 L571.7,418.6 L572.8,418.6 L573.9,418.7 L575.0,418.7 L576.1,418.7 L577.2,418.8 L578.3,418.8 L579.4,418.8 L580.5,418.8 L581.6,418.8 L582.7,418.8 L583.8,418.9 L584.9,418.9 L586.0,418.9 L587.1,418.9 L588.2,418.9 L589.3,418.9 L590.4,418.9 L591.5,418.9 L592.6,418.9 L593.7,418.8 L594.8,418.8 L595.9,418.8 L597.0,418.8 L598.1,418.8 L599.2,418.8 L600.3,418.8 L601.4,418.8 L602.5,418.8 L603.6,418.8 L604.7,418.8 L605.8,418.8 L606.9,418.8 L608.0,418.7 L609.1,418.7 L610.2,418.7 L611.3,418.7 L612.4,418.7 L613.5,418.7 L614.6,418.7 L615.7,418.7 L616.8,418.7 L617.9,418.7 L619.0,418.7 L620.1,418.7 L621.2,418.6 L622.3,418.6 L623.4,418.6 L624.5,418.6 L625.6,418.6 L626.7,418.6 L627.8,418.6 L628.9,418.6 L630.0,418.6 L631.1,418.6 L632.2,418.6 L633.3,418.5 L634.4,418.5 L635.5,418.5 L636.6,418.5 L637.7,418.5 L638.8,418.5 L639.9,418.5 L641.0,418.5 L642.1,418.5 L643.2,418.5 L644.3,418.5 L645.4,418.5 L646.5,418.4 L647.6,418.4 L648.7,418.4 L649.8,418.4 L650.9,418.4 L652.0,418.4 L653.1,418.4 L654.2,418.4 L655.3,418.4 L656.4,418.4 L657.5,418.4 L658.6,418.3 L659.7,418.3 L660.8,418.3 L661.9,418.3 L663.0,418.3 L664.1,418.3 L665.2,418.3 L666.3,418.3 L667.4,418.3 L668.5,418.3 L669.6,418.3 L670.7,418.2" stroke="#f07010" stroke-width="1.4" fill="none"/>
<path d="M496.9,419.6 L498.0,419.6 L499.1,419.6 L500.2,419.6 L501.3,419.6 L502.4,419.6 L503.5,419.6 L504.6,419.6 L505.7,419.6 L506.8,419.6 L507.9,419.5 L509.0,419.5 L510.1,419.5 L511.2,419.5 L512.3,419.5 L513.4,419.5 L514.5,419.5 L515.6,419.5 L516.7,419.5 L517.8,419.5 L518.9,419.5 L520.0,419.4 L521.1,419.4 L522.2,419.4 L523.3,419.4 L524.4,419.4 L525.5,419.4 L526.6,419.3 L527.7,419.3 L528.8,419.2 L529.9,419.1 L531.0,418.9 L532.1,418.7 L533.2,418.4 L534.3,418.0 L535.4,417.5 L536.5,416.9 L537.6,416.2 L538.7,415.4 L539.8,414.5 L540.9,413.6 L542.0,412.7 L543.1,411.8 L544.2,411.0 L545.3,410.4 L546.4,409.9 L547.5,409.7 L548.6,409.8 L549.7,410.1 L550.8,410.6 L551.9,411.3 L553.0,412.1 L554.1,413.0 L555.2,413.9 L556.3,414.8 L557.4,415.6 L558.5,416.4 L559.6,417.0 L560.7,417.6 L561.8,418.0 L562.9,418.3 L564.0,418.5 L565.1,418.7 L566.2,418.8 L567.3,418.9 L568.4,419.0 L569.5,419.0 L570.6,419.0 L571.7,419.0 L572.8,419.0 L573.9,419.0 L575.0,419.0 L576.1,419.0 L577.2,419.0 L578.3,419.0 L579.4,419.0 L580.5,419.0 L581.6,419.0 L582.7,418.9 L583.8,418.9 L584.9,418.9 L586.0,418.9 L587.1,418.9 L588.2,418.9 L589.3,418.9 L590.4,418.9 L591.5,418.9 L592.6,418.9 L593.7,418.9 L594.8,418.9 L595.9,418.8 L597.0,418.8 L598.1,418.8" stroke="#1010ff" stroke-width="1.2" fill="none"/>
<path d="M507.9,419.5 L509.0,419.5 L510.1,419.5 L511.2,419.5 L512.3,419.5 L513.4,419.5 L514.5,419.5 L515.6,419.5 L516.7,419.5 L517.8,419.5 L518.9,419.5 L520.0,419.4 L521.1,419.4 L522.2,419.4 L523.3,419.4 L524.4,419.4 L525.5,419.4 L526.6,419.4 L527.7,419.4 L528.8,419.4 L529.9,419.4 L531.0,419.4 L532.1,419.4 L533.2,419.3 L534.3,419.3 L535.4,419.3 L536.5,419.3 L537.6,419.3 L538.7,419.2 L539.8,419.2 L540.9,419.1 L542.0,419.0 L543.1,418.9 L544.2,418.7 L545.3,418.4 L546.4,418.1 L547.5,417.6 L548.6,417.1 L549.7,416.4 L550.8,415.5 L551.9,414.6 L553.0,413.5 L554.1,412.4 L555.2,411.2 L556.3,410.0 L557.4,408.8 L558.5,407.8 L559.6,407.0 L560.7,406.4 L561.8,406.1 L562.9,406.2 L564.0,406.5 L565.1,407.0 L566.2,407.8 L567.3,408.8 L568.4,410.0 L569.5,411.1 L570.6,412.3 L571.7,413.5 L572.8,414.5 L573.9,415.4 L575.0,416.2 L576.1,416.9 L577.2,417.4 L578.3,417.9 L579.4,418.2 L580.5,418.4 L581.6,418.6 L582.7,418.7 L583.8,418.8 L584.9,418.8 L586.0,418.9 L587.1,418.9 L588.2,418.9 L589.3,418.9 L590.4,418.9 L591.5,418.9 L592.6,418.9 L593.7,418.9 L594.8,418.9 L595.9,418.8 L597.0,418.8 L598.1,418.8 L599.2,418.8 L600.3,418.8 L601.4,418.8 L602.5,418.8 L603.6,418.8 L604.7,418.8 L605.8,418.8 L606.9,418.8 L608.0,418.7 L609.1,418.7 L610.2,418.7 L611.3,418.7 L612.4,418.7 L613.5,418.7 L614.6,418.7 L615.7,418.7" stroke="#1010ff" stroke-width="1.2" fill="none"/>
<path d="M451.8,419.7 L452.9,419.6 L454.0,419.6 L455.1,419.6 L456.2,419.6 L457.3,419.6 L458.4,419.6 L459.5,419.6 L460.6,419.5 L461.7,419.5 L462.8,419.5 L463.9,419.5 L465.0,419.5 L466.1,419.4 L467.2,419.4 L468.3,419.4 L469.4,419.4 L470.5,419.3 L471.6,419.3 L472.7,419.3 L473.8,419.2 L474.9,419.2 L476.0,419.1 L477.1,419.1 L478.2,419.1 L479.3,419.0 L480.4,418.9 L481.5,418.9 L482.6,418.8 L483.7,418.7 L484.8,418.6 L485.9,418.5 L487.0,418.4 L488.1,418.3 L489.2,418.2 L490.3,418.1 L491.4,418.0 L492.5,417.8 L493.6,417.7 L494.7,417.5 L495.8,417.3 L496.9,417.1 L498.0,416.9 L499.1,416.7 L500.2,416.5 L501.3,416.3 L502.4,416.1 L503.5,415.8 L504.6,415.6 L505.7,415.3 L506.8,415.1 L507.9,414.8 L509.0,414.6 L510.1,414.3 L511.2,414.0 L512.3,413.8 L513.4,413.5 L514.5,413.3 L515.6,413.1 L516.7,412.8 L517.8,412.6 L518.9,412.4 L520.0,412.2 L521.1,412.0 L522.2,411.9 L523.3,411.7 L524.4,411.6 L525.5,411.5 L526.6,411.4 L527.7,411.3 L528.8,411.1 L529.9,411.0 L531.0,410.9 L532.1,410.6 L533.2,410.4 L534.3,410.0 L535.4,409.6 L536.5,409.1 L537.6,408.4 L538.7,407.6 L539.8,406.8 L540.9,405.9 L542.0,404.9 L543.1,404.0 L544.2,403.0 L545.3,402.2 L546.4,401.4 L547.5,400.8 L548.6,400.2 L549.7,399.8 L550.8,399.3 L551.9,398.9 L553.0,398.5 L554.1,398.0 L555.2,397.4 L556.3,396.7 L557.4,396.0 L558.5,395.2 L559.6,394.5 L560.7,393.8 L561.8,393.2 L562.9,392.7 L564.0,392.3 L565.1,392.1 L566.2,391.9 L567.3,391.8 L568.4,391.7 L569.5,391.5 L570.6,391.2 L571.7,390.6 L572.8,389.9 L573.9,388.8 L575.0,387.5 L576.1,385.8 L577.2,383.8 L578.3,381.5 L579.4,378.9 L580.5,376.1 L581.6,373.1 L582.7,370.2 L583.8,367.2 L584.9,364.4 L586.0,361.8 L587.1,359.5 L588.2,357.5 L589.3,355.7 L590.4,354.1 L591.5,352.7 L592.6,351.3 L593.7,349.8 L594.8,348.2 L595.9,346.2 L597.0,343.8 L598.1,341.1 L599.2,338.3 L600.3,335.6 L601.4,333.2 L602.5,331.5 L603.6,330.9 L604.7,331.6 L605.8,333.8 L606.9,337.1 L608.0,341.6 L609.1,347.0 L610.2,353.1 L611.3,359.6 L612.4,366.3 L613.5,372.9 L614.6,379.2 L615.7,385.2 L616.8,390.6 L617.9,395.3 L619.0,399.4 L620.1,402.9 L621.2,405.8 L622.3,408.2 L623.4,410.0 L624.5,411.5 L625.6,412.7 L626.7,413.5 L627.8,414.2 L628.9,414.8 L630.0,415.2 L631.1,415.5 L632.2,415.7 L633.3,415.9 L634.4,416.1 L635.5,416.2 L636.6,416.4 L637.7,416.5 L638.8,416.6 L639.9,416.6 L641.0,416.7 L642.1,416.8 L643.2,416.8 L644.3,416.9 L645.4,417.0 L646.5,417.0 L647.6,417.1 L648.7,417.1 L649.8,417.1 L650.9,417.2 L652.0,417.2 L653.1,417.2 L654.2,417.3 L655.3,417.3 L656.4,417.3 L657.5,417.4 L658.6,417.4 L659.7,417.4 L660.8,417.4 L661.9,417.4 L663.0,417.5 L664.1,417.5 L665.2,417.5 L666.3,417.5 L667.4,417.5 L668.5,417.5 L669.6,417.5 L670.7,417.6 L671.8,417.6 L672.9,417.6 L674.0,417.6 L675.1,417.6 L676.2,417.6 L677.3,417.6 L678.4,417.6 L679.5,417.6 L680.6,417.6 L681.7,417.6 L682.8,417.6 L683.9,417.6 L685.0,417.6 L686.1,417.6 L687.2,417.6 L688.3,417.6 L689.4,417.6 L690.5,417.6 L691.6,417.6 L692.7,417.6 L693.8,417.6 L694.9,417.6 L696.0,417.6 L697.1,417.6 L698.2,417.6 L699.3,417.6 L700.4,417.6 L701.5,417.6" stroke="#ff20ff" stroke-width="1.7" fill="none"/>
<path d="M54.0,527.70 L380.0,533.00" stroke="#7d7d7d" stroke-width="1.9" stroke-dasharray="9.5,9.6" fill="none"/>
<path d="M449.3,530.80 L702.0,530.60" stroke="#7d7d7d" stroke-width="1.9" stroke-dasharray="9.5,9.6" fill="none"/>
<path d="M54.0,524.4 L55.1,518.2 L56.2,515.5 L57.3,513.1 L58.4,508.7 L59.5,506.6 L60.6,503.0 L61.7,505.8 L62.8,500.3 L63.9,491.1 L65.0,483.2 L66.1,481.4 L67.2,473.0 L68.3,469.2 L69.4,468.7 L70.5,468.0 L71.6,469.9 L72.7,467.0 L73.8,472.1 L74.9,466.9 L76.0,473.0 L77.1,473.3 L78.2,481.3 L79.3,478.3 L80.4,480.0 L81.5,483.1 L82.6,485.1 L83.7,481.6 L84.8,484.9 L85.9,484.4 L87.0,489.2 L88.1,490.2 L89.2,491.1 L90.3,491.3 L91.4,491.2 L92.5,487.4 L93.6,489.0 L94.7,491.4 L95.8,484.8 L96.9,489.4 L98.0,489.6 L99.1,492.4 L100.2,490.1 L101.3,492.4 L102.4,491.1 L103.5,495.4 L104.6,494.8 L105.7,495.0 L106.8,496.9 L107.9,496.5 L109.0,494.8 L110.1,500.4 L111.2,500.9 L112.3,501.2 L113.4,504.8 L114.5,506.7 L115.6,503.3 L116.7,505.5 L117.8,511.8 L118.9,513.0 L120.0,509.8 L121.1,510.1 L122.2,512.5 L123.3,513.9 L124.4,512.8 L125.5,517.4 L126.6,516.0 L127.7,517.8 L128.8,523.8 L129.9,521.2 L131.0,522.6 L132.1,524.2 L133.2,524.6 L134.3,522.2 L135.4,523.1 L136.5,521.3 L137.6,526.8 L138.7,524.6 L139.8,521.0 L140.9,523.5 L142.0,525.2 L143.1,525.3 L144.2,528.9 L145.3,528.7 L146.4,524.9 L147.5,526.0 L148.6,523.6 L149.7,526.9 L150.8,526.7 L151.9,532.1 L153.0,526.7 L154.1,522.1 L155.2,525.1 L156.3,526.8 L157.4,523.9 L158.5,524.8 L159.6,525.8 L160.7,527.3 L161.8,526.3 L162.9,524.7 L164.0,528.2 L165.1,525.4 L166.2,525.5 L167.3,523.6 L168.4,524.8 L169.5,527.8 L170.6,522.9 L171.7,526.0 L172.8,527.6 L173.9,525.1 L175.0,526.1 L176.1,522.9 L177.2,527.4 L178.3,526.2 L179.4,523.4 L180.5,517.7 L181.6,517.1 L182.7,518.6 L183.8,516.6 L184.9,509.1 L186.0,505.7 L187.1,495.4 L188.2,489.3 L189.3,482.2 L190.4,475.6 L191.5,464.5 L192.6,464.1 L193.7,461.3 L194.8,455.0 L195.9,456.2 L197.0,463.9 L198.1,467.8 L199.2,471.3 L200.3,485.6 L201.4,491.8 L202.5,497.5 L203.6,509.1 L204.7,510.3 L205.8,512.9 L206.9,518.1 L208.0,518.4 L209.1,521.0 L210.2,524.9 L211.3,524.0 L212.4,525.0 L213.5,530.0 L214.6,528.8 L215.7,529.0 L216.8,528.7 L217.9,528.8 L219.0,531.0 L220.1,528.0 L221.2,532.1 L222.3,526.4 L223.4,527.9 L224.5,525.7 L225.6,527.9 L226.7,529.8 L227.8,531.9 L228.9,527.5 L230.0,528.9 L231.1,528.2 L232.2,527.5 L233.3,526.6 L234.4,529.3 L235.5,525.5 L236.6,529.5 L237.7,529.3 L238.8,527.9 L239.9,527.2 L241.0,526.4 L242.1,533.3 L243.2,526.6 L244.3,532.7 L245.4,530.7 L246.5,528.6 L247.6,527.0 L248.7,531.6 L249.8,533.0 L250.9,527.4 L252.0,528.7 L253.1,531.6 L254.2,530.0 L255.3,533.5 L256.4,528.0 L257.5,530.3 L258.6,526.4 L259.7,533.3 L260.8,527.2 L261.9,523.9 L263.0,528.1 L264.1,527.8 L265.2,531.7 L266.3,526.4 L267.4,526.3 L268.5,526.3 L269.6,526.3 L270.7,519.4 L271.8,516.5 L272.9,507.8 L274.0,495.6 L275.1,483.1 L276.2,467.5 L277.3,449.5 L278.4,439.6 L279.5,424.7 L280.6,428.2 L281.7,434.0 L282.8,444.3 L283.9,458.6 L285.0,475.7 L286.1,491.6 L287.2,504.0 L288.3,511.9 L289.4,519.7 L290.5,520.6 L291.6,524.9 L292.7,522.8 L293.8,528.7 L294.9,528.1 L296.0,527.4 L297.1,531.1 L298.2,530.4 L299.3,523.3 L300.4,529.5 L301.5,526.5 L302.6,531.9 L303.7,535.1 L304.8,528.9 L305.9,530.2 L307.0,529.6 L308.1,531.0 L309.2,531.6 L310.3,533.1 L311.4,528.3 L312.5,533.8 L313.6,528.6 L314.7,531.1 L315.8,533.0 L316.9,532.1 L318.0,528.7 L319.1,529.2 L320.2,529.7 L321.3,530.6 L322.4,533.2 L323.5,528.1 L324.6,531.8 L325.7,532.1 L326.8,532.0 L327.9,531.8 L329.0,534.1 L330.1,531.9 L331.2,532.7 L332.3,532.1 L333.4,534.7 L334.5,526.9 L335.6,533.6 L336.7,530.4 L337.8,530.4 L338.9,528.9 L340.0,527.1 L341.1,530.2 L342.2,529.6 L343.3,532.0 L344.4,527.9 L345.5,534.0 L346.6,531.6 L347.7,530.5 L348.8,529.5 L349.9,529.4 L351.0,528.7 L352.1,529.9 L353.2,531.1 L354.3,530.7 L355.4,528.1 L356.5,530.5 L357.6,529.2 L358.7,531.4 L359.8,535.0 L360.9,532.4 L362.0,530.4 L363.1,527.7 L364.2,528.1 L365.3,527.5 L366.4,532.6 L367.5,529.5 L368.6,531.2 L369.7,529.8 L370.8,531.3 L371.9,534.0 L373.0,529.7 L374.1,530.4 L375.2,529.4 L376.3,532.9 L377.4,529.0 L378.5,528.7 L379.6,528.2 L380.7,528.2 L381.8,532.1 L382.9,536.5 L384.0,529.0 L385.1,533.1 L386.2,531.6 L387.3,528.8 L388.4,530.5 L389.5,530.6 L390.6,529.7 L391.7,535.2 L392.8,527.1 L393.9,531.9 L395.0,531.8 L396.1,529.9 L397.2,531.4 L398.3,532.9 L399.4,531.4 L400.5,531.9 L401.6,532.5 L402.7,526.8 L403.8,534.2 L404.9,535.8 L406.0,533.1 L407.1,533.2 L408.2,528.1 L409.3,530.8 L410.4,529.3 L411.5,529.8 L412.6,533.0 L413.7,529.3 L414.8,530.7 L415.9,527.0 L417.0,530.7 L418.1,531.2 L419.2,529.5 L420.3,529.5 L421.4,534.9 L422.5,528.4 L423.6,528.7 L424.7,529.2 L425.8,533.4 L426.9,535.3 L428.0,531.6 L429.1,529.4 L430.2,530.0 L431.3,533.1 L432.4,529.0 L433.5,533.9 L434.6,533.8 L435.7,531.0 L436.8,532.2 L437.9,532.4 L439.0,534.1 L440.1,528.6 L441.2,533.3 L442.3,530.0 L443.4,529.2 L444.5,531.0 L445.6,530.4 L446.7,528.7 L447.8,527.4 L448.9,528.8 L450.0,533.8 L451.1,534.9 L452.2,532.1 L453.3,533.3 L454.4,529.7 L455.5,530.6 L456.6,531.3 L457.7,528.5 L458.8,528.7 L459.9,530.9 L461.0,530.1 L462.1,528.5 L463.2,531.5 L464.3,530.2 L465.4,532.8 L466.5,530.7 L467.6,530.1 L468.7,530.9 L469.8,530.3 L470.9,529.3 L472.0,529.8 L473.1,532.2 L474.2,532.0 L475.3,533.3 L476.4,527.1 L477.5,529.8 L478.6,529.7 L479.7,531.0 L480.8,529.7 L481.9,529.5 L483.0,532.2 L484.1,531.0 L485.2,528.1 L486.3,533.4 L487.4,532.6 L488.5,529.3 L489.6,532.3 L490.7,529.0 L491.8,532.9 L492.9,530.0 L494.0,528.8 L495.1,529.7 L496.2,528.9 L497.3,530.9 L498.4,530.8 L499.5,530.5 L500.6,529.3 L501.7,522.7 L502.8,530.6 L503.9,526.4 L505.0,530.9 L506.1,532.7 L507.2,530.9 L508.3,529.5 L509.4,529.9 L510.5,530.0 L511.6,529.1 L512.7,529.1 L513.8,528.3 L514.9,532.7 L516.0,530.2 L517.1,532.2 L518.2,529.7 L519.3,530.3 L520.4,529.8 L521.5,531.1 L522.6,531.8 L523.7,530.5 L524.8,528.5 L525.9,528.3 L527.0,533.3 L528.1,529.1 L529.2,529.0 L530.3,532.5 L531.4,531.5 L532.5,530.1 L533.6,527.9 L534.7,533.4 L535.8,528.9 L536.9,528.9 L538.0,527.0 L539.1,523.9 L540.2,523.7 L541.3,526.9 L542.4,526.4 L543.5,524.6 L544.6,522.1 L545.7,521.1 L546.8,523.0 L547.9,520.2 L549.0,524.7 L550.1,524.8 L551.2,527.9 L552.3,523.4 L553.4,520.0 L554.5,519.0 L555.6,513.3 L556.7,519.1 L557.8,519.8 L558.9,522.1 L560.0,521.4 L561.1,521.5 L562.2,520.9 L563.3,522.1 L564.4,524.2 L565.5,519.3 L566.6,521.0 L567.7,519.5 L568.8,526.3 L569.9,526.0 L571.0,525.2 L572.1,521.3 L573.2,524.3 L574.3,523.5 L575.4,524.1 L576.5,523.4 L577.6,524.6 L578.7,522.2 L579.8,524.3 L580.9,522.4 L582.0,520.5 L583.1,519.9 L584.2,518.1 L585.3,519.4 L586.4,515.6 L587.5,514.9 L588.6,511.3 L589.7,506.4 L590.8,508.4 L591.9,500.6 L593.0,499.9 L594.1,494.3 L595.2,484.1 L596.3,479.1 L597.4,473.2 L598.5,465.9 L599.6,459.7 L600.7,460.4 L601.8,457.9 L602.9,461.8 L604.0,465.1 L605.1,473.0 L606.2,477.7 L607.3,485.8 L608.4,493.1 L609.5,497.3 L610.6,500.7 L611.7,503.2 L612.8,509.1 L613.9,512.1 L615.0,513.1 L616.1,514.0 L617.2,518.4 L618.3,523.9 L619.4,519.2 L620.5,521.6 L621.6,522.6 L622.7,517.2 L623.8,523.5 L624.9,522.4 L626.0,527.3 L627.1,524.3 L628.2,523.7 L629.3,525.2 L630.4,526.4 L631.5,525.1 L632.6,526.5 L633.7,524.0 L634.8,526.6 L635.9,528.9 L637.0,531.6 L638.1,529.1 L639.2,528.4 L640.3,530.4 L641.4,530.2 L642.5,531.7 L643.6,530.6 L644.7,528.2 L645.8,529.1 L646.9,529.0 L648.0,529.3 L649.1,529.2 L650.2,527.2 L651.3,524.5 L652.4,527.6 L653.5,524.8 L654.6,529.3 L655.7,529.2 L656.8,525.7 L657.9,530.7 L659.0,531.1 L660.1,529.6 L661.2,532.9 L662.3,533.4 L663.4,526.9 L664.5,531.7 L665.6,530.5 L666.7,530.4 L667.8,531.6 L668.9,528.1 L670.0,528.4 L671.1,527.9 L672.2,528.1 L673.3,529.5 L674.4,526.7 L675.5,527.6 L676.6,531.0 L677.7,529.7 L678.8,530.6 L679.9,525.9 L681.0,528.2 L682.1,528.7 L683.2,530.0 L684.3,528.7 L685.4,531.9 L686.5,529.8 L687.6,530.0 L688.7,530.0 L689.8,531.5 L690.9,529.0 L692.0,532.4 L693.1,531.0 L694.2,530.3 L695.3,530.1 L696.4,531.1 L697.5,532.2 L698.6,532.0 L699.7,530.9 L700.8,531.9 L701.9,530.3" stroke="#000" stroke-width="1.3" fill="none" stroke-linejoin="round"/>
<path d="M164.0,526.7 L165.1,526.6 L166.2,526.6 L167.3,526.6 L168.4,526.5 L169.5,526.5 L170.6,526.4 L171.7,526.3 L172.8,526.1 L173.9,525.9 L175.0,525.7 L176.1,525.3 L177.2,524.8 L178.3,524.0 L179.4,523.0 L180.5,521.5 L181.6,519.4 L182.7,516.7 L183.8,513.1 L184.9,508.6 L186.0,503.2 L187.1,496.8 L188.2,489.8 L189.3,482.3 L190.4,474.8 L191.5,467.9 L192.6,462.2 L193.7,458.6 L194.8,457.5 L195.9,459.2 L197.0,463.3 L198.1,469.3 L199.2,476.4 L200.3,484.0 L201.4,491.6 L202.5,498.6 L203.6,504.9 L204.7,510.2 L205.8,514.6 L206.9,518.1 L208.0,520.8 L209.1,522.8 L210.2,524.3 L211.3,525.4 L212.4,526.2 L213.5,526.7 L214.6,527.2 L215.7,527.5 L216.8,527.8 L217.9,528.0 L219.0,528.2 L220.1,528.3 L221.2,528.5 L222.3,528.6 L223.4,528.7 L224.5,528.8 L224.50,530.47 L164.00,529.49 Z" fill="rgb(200,200,200)" fill-opacity="0.7" stroke="#8a8a8a" stroke-width="0.8"/>
<path d="M259.7,529.2 L260.8,529.0 L261.9,528.8 L263.0,528.6 L264.1,528.3 L265.2,527.9 L266.3,527.4 L267.4,526.6 L268.5,525.3 L269.6,523.1 L270.7,519.8 L271.8,514.5 L272.9,506.9 L274.0,496.4 L275.1,483.1 L276.2,467.7 L277.3,451.6 L278.4,437.3 L279.5,427.8 L280.6,425.9 L281.7,432.2 L282.8,444.7 L283.9,460.3 L285.0,476.3 L286.1,490.8 L287.2,502.6 L288.3,511.5 L289.4,517.8 L290.5,521.9 L291.6,524.6 L292.7,526.2 L293.8,527.3 L294.9,528.0 L296.0,528.4 L297.1,528.8 L298.2,529.1 L299.3,529.3 L300.4,529.5 L301.5,529.7 L301.50,531.72 L259.70,531.04 Z" fill="rgb(200,200,200)" fill-opacity="0.7" stroke="#8a8a8a" stroke-width="0.8"/>
<path d="M450.0,530.6 L451.1,530.6 L452.2,530.6 L453.3,530.6 L454.4,530.6 L455.5,530.6 L456.6,530.6 L457.7,530.6 L458.8,530.6 L459.9,530.6 L461.0,530.6 L462.1,530.6 L463.2,530.6 L464.3,530.6 L465.4,530.6 L466.5,530.6 L467.6,530.6 L468.7,530.6 L469.8,530.5 L470.9,530.5 L472.0,530.5 L473.1,530.5 L474.2,530.5 L475.3,530.5 L476.4,530.5 L477.5,530.5 L478.6,530.5 L479.7,530.5 L480.8,530.5 L481.9,530.5 L483.0,530.5 L484.1,530.5 L485.2,530.5 L486.3,530.5 L487.4,530.5 L488.5,530.5 L489.6,530.4 L490.7,530.4 L491.8,530.4 L492.9,530.4 L494.0,530.4 L495.1,530.4 L496.2,530.4 L497.3,530.4 L498.4,530.4 L499.5,530.4 L500.6,530.4 L501.7,530.4 L502.8,530.3 L503.9,530.3 L505.0,530.3 L506.1,530.3 L507.2,530.3 L508.3,530.3 L509.4,530.3 L510.5,530.3 L511.6,530.2 L512.7,530.2 L513.8,530.2 L514.9,530.2 L516.0,530.2 L517.1,530.2 L518.2,530.2 L519.3,530.1 L520.4,530.1 L521.5,530.1 L522.6,530.1 L523.7,530.1 L524.8,530.1 L525.9,530.0 L527.0,530.0 L528.1,530.0 L529.2,530.0 L530.3,529.9 L531.4,529.9 L532.5,529.9 L533.6,529.9 L534.7,529.8 L535.8,529.8 L536.9,529.8 L538.0,529.7 L539.1,529.7 L540.2,529.7 L541.3,529.6 L542.4,529.6 L543.5,529.5 L544.6,529.5 L545.7,529.4 L546.8,529.4 L547.9,529.3 L549.0,529.3 L550.1,529.2 L551.2,529.1 L552.3,529.1 L553.4,529.0 L554.5,528.9 L555.6,528.8 L556.7,528.7 L557.8,528.6 L558.9,528.5 L560.0,528.4 L561.1,528.3 L562.2,528.2 L563.3,528.0 L564.4,527.9 L565.5,527.7 L566.6,527.5 L567.7,527.3 L568.8,527.1 L569.9,526.8 L571.0,526.5 L572.1,526.3 L573.2,525.9 L574.3,525.6 L575.4,525.1 L576.5,524.7 L577.6,524.2 L578.7,523.6 L579.8,522.9 L580.9,522.1 L582.0,521.3 L583.1,520.3 L584.2,519.1 L585.3,517.8 L586.4,516.2 L587.5,514.4 L588.6,512.2 L589.7,509.6 L590.8,506.5 L591.9,502.9 L593.0,498.6 L594.1,493.5 L595.2,487.7 L596.3,481.2 L597.4,474.3 L598.5,467.7 L599.6,462.2 L600.7,458.9 L601.8,458.5 L602.9,461.1 L604.0,466.0 L605.1,472.4 L606.2,479.3 L607.3,486.0 L608.4,492.0 L609.5,497.3 L610.6,501.8 L611.7,505.6 L612.8,508.8 L613.9,511.5 L615.0,513.8 L616.1,515.7 L617.2,517.4 L618.3,518.8 L619.4,520.0 L620.5,521.0 L621.6,521.9 L622.7,522.7 L623.8,523.4 L624.9,524.0 L626.0,524.5 L627.1,525.0 L628.2,525.4 L629.3,525.8 L630.4,526.1 L631.5,526.4 L632.6,526.7 L633.7,527.0 L634.8,527.2 L635.9,527.4 L637.0,527.6 L638.1,527.7 L639.2,527.9 L640.3,528.1 L641.4,528.2 L642.5,528.3 L643.6,528.4 L644.7,528.5 L645.8,528.6 L646.9,528.7 L648.0,528.8 L649.1,528.9 L650.2,529.0 L651.3,529.0 L652.4,529.1 L653.5,529.2 L654.6,529.2 L655.7,529.3 L656.8,529.3 L657.9,529.4 L659.0,529.4 L660.1,529.5 L661.2,529.5 L662.3,529.5 L663.4,529.6 L664.5,529.6 L665.6,529.7 L666.7,529.7 L667.8,529.7 L668.9,529.7 L670.0,529.8 L671.1,529.8 L672.2,529.8 L673.3,529.8 L674.4,529.9 L675.5,529.9 L676.6,529.9 L677.7,529.9 L678.8,529.9 L679.9,530.0 L681.0,530.0 L682.1,530.0 L683.2,530.0 L684.3,530.0 L685.4,530.0 L686.5,530.1 L687.6,530.1 L688.7,530.1 L689.8,530.1 L690.9,530.1 L692.0,530.1 L693.1,530.1 L694.2,530.1 L695.3,530.1 L696.4,530.2 L697.5,530.2 L698.6,530.2 L699.7,530.2 L700.8,530.2 L701.9,530.2 L701.90,530.60 L450.00,530.80 Z" fill="rgb(108,100,255)" stroke="#2020a0" stroke-width="0.6"/>
<path d="M450.0,530.6 L451.1,530.6 L452.2,530.6 L453.3,530.6 L454.4,530.6 L455.5,530.6 L456.6,530.6 L457.7,530.6 L458.8,530.6 L459.9,530.6 L461.0,530.6 L462.1,530.6 L463.2,530.6 L464.3,530.6 L465.4,530.6 L466.5,530.6 L467.6,530.6 L468.7,530.6 L469.8,530.5 L470.9,530.5 L472.0,530.5 L473.1,530.5 L474.2,530.5 L475.3,530.5 L476.4,530.5 L477.5,530.5 L478.6,530.5 L479.7,530.5 L480.8,530.5 L481.9,530.5 L483.0,530.5 L484.1,530.5 L485.2,530.5 L486.3,530.5 L487.4,530.5 L488.5,530.5 L489.6,530.4 L490.7,530.4 L491.8,530.4 L492.9,530.4 L494.0,530.4 L495.1,530.4 L496.2,530.4 L497.3,530.4 L498.4,530.4 L499.5,530.4 L500.6,530.4 L501.7,530.4 L502.8,530.3 L503.9,530.3 L505.0,530.3 L506.1,530.3 L507.2,530.3 L508.3,530.3 L509.4,530.3 L510.5,530.3 L511.6,530.2 L512.7,530.2 L513.8,530.2 L514.9,530.2 L516.0,530.2 L517.1,530.2 L518.2,530.2 L519.3,530.1 L520.4,530.1 L521.5,530.1 L522.6,530.1 L523.7,530.1 L524.8,530.1 L525.9,530.0 L527.0,530.0 L528.1,530.0 L529.2,530.0 L530.3,529.9 L531.4,529.9 L532.5,529.9 L533.6,529.9 L534.7,529.8 L535.8,529.8 L536.9,529.8 L538.0,529.7 L539.1,529.7 L540.2,529.7 L541.3,529.6 L542.4,529.6 L543.5,529.5 L544.6,529.5 L545.7,529.4 L546.8,529.4 L547.9,529.3 L549.0,529.3 L550.1,529.2 L551.2,529.1 L552.3,529.1 L553.4,529.0 L554.5,528.9 L555.6,528.8 L556.7,528.7 L557.8,528.6 L558.9,528.5 L560.0,528.4 L561.1,528.3 L562.2,528.2 L563.3,528.0 L564.4,527.9 L565.5,527.7 L566.6,527.5 L567.7,527.3 L568.8,527.1 L569.9,526.8 L571.0,526.5 L572.1,526.3 L573.2,525.9 L574.3,525.6 L575.4,525.1 L576.5,524.7 L577.6,524.2 L578.7,523.6 L579.8,522.9 L580.9,522.1 L582.0,521.3 L583.1,520.3 L584.2,519.1 L585.3,517.8 L586.4,516.2 L587.5,514.4 L588.6,512.2 L589.7,509.6 L590.8,506.5 L591.9,502.9 L593.0,498.6 L594.1,493.5 L595.2,487.7 L596.3,481.2 L597.4,474.3 L598.5,467.7 L599.6,462.2 L600.7,458.9 L601.8,458.5 L602.9,461.1 L604.0,466.0 L605.1,472.4 L606.2,479.3 L607.3,486.0 L608.4,492.0 L609.5,497.3 L610.6,501.8 L611.7,505.6 L612.8,508.8 L613.9,511.5 L615.0,513.8 L616.1,515.7 L617.2,517.4 L618.3,518.8 L619.4,520.0 L620.5,521.0 L621.6,521.9 L622.7,522.7 L623.8,523.4 L624.9,524.0 L626.0,524.5 L627.1,525.0 L628.2,525.4 L629.3,525.8 L630.4,526.1 L631.5,526.4 L632.6,526.7 L633.7,527.0 L634.8,527.2 L635.9,527.4 L637.0,527.6 L638.1,527.7 L639.2,527.9 L640.3,528.1 L641.4,528.2 L642.5,528.3 L643.6,528.4 L644.7,528.5 L645.8,528.6 L646.9,528.7 L648.0,528.8 L649.1,528.9 L650.2,529.0 L651.3,529.0 L652.4,529.1 L653.5,529.2 L654.6,529.2 L655.7,529.3 L656.8,529.3 L657.9,529.4 L659.0,529.4 L660.1,529.5 L661.2,529.5 L662.3,529.5 L663.4,529.6 L664.5,529.6 L665.6,529.7 L666.7,529.7 L667.8,529.7 L668.9,529.7 L670.0,529.8 L671.1,529.8 L672.2,529.8 L673.3,529.8 L674.4,529.9 L675.5,529.9 L676.6,529.9 L677.7,529.9 L678.8,529.9 L679.9,530.0 L681.0,530.0 L682.1,530.0 L683.2,530.0 L684.3,530.0 L685.4,530.0 L686.5,530.1 L687.6,530.1 L688.7,530.1 L689.8,530.1 L690.9,530.1 L692.0,530.1 L693.1,530.1 L694.2,530.1 L695.3,530.1 L696.4,530.2 L697.5,530.2 L698.6,530.2 L699.7,530.2 L700.8,530.2 L701.9,530.2 L701.90,530.60 L450.00,530.80 Z" fill="url(#hb)"/>
<path d="M484.1,530.8 L485.2,530.8 L486.3,530.8 L487.4,530.8 L488.5,530.8 L489.6,530.8 L490.7,530.8 L491.8,530.8 L492.9,530.8 L494.0,530.8 L495.1,530.8 L496.2,530.8 L497.3,530.8 L498.4,530.8 L499.5,530.8 L500.6,530.8 L501.7,530.8 L502.8,530.8 L503.9,530.8 L505.0,530.8 L506.1,530.8 L507.2,530.8 L508.3,530.8 L509.4,530.8 L510.5,530.8 L511.6,530.8 L512.7,530.7 L513.8,530.7 L514.9,530.7 L516.0,530.7 L517.1,530.7 L518.2,530.7 L519.3,530.7 L520.4,530.7 L521.5,530.7 L522.6,530.7 L523.7,530.7 L524.8,530.6 L525.9,530.6 L527.0,530.5 L528.1,530.4 L529.2,530.3 L530.3,530.2 L531.4,530.0 L532.5,529.8 L533.6,529.6 L534.7,529.4 L535.8,529.1 L536.9,528.8 L538.0,528.4 L539.1,528.1 L540.2,527.7 L541.3,527.4 L542.4,527.0 L543.5,526.8 L544.6,526.5 L545.7,526.4 L546.8,526.3 L547.9,526.2 L549.0,526.3 L550.1,526.4 L551.2,526.6 L552.3,526.8 L553.4,527.1 L554.5,527.4 L555.6,527.8 L556.7,528.1 L557.8,528.5 L558.9,528.8 L560.0,529.1 L561.1,529.4 L562.2,529.6 L563.3,529.9 L564.4,530.0 L565.5,530.2 L566.6,530.3 L567.7,530.4 L568.8,530.5 L569.9,530.6 L571.0,530.6 L572.1,530.6 L573.2,530.7 L574.3,530.7 L575.4,530.7 L576.5,530.7 L577.6,530.7 L578.7,530.7 L579.8,530.7 L580.9,530.7 L582.0,530.7 L583.1,530.7 L584.2,530.7 L585.3,530.7 L586.4,530.7 L587.5,530.7 L588.6,530.7 L589.7,530.7 L590.8,530.7 L591.9,530.7 L593.0,530.7 L594.1,530.7 L595.2,530.7 L596.3,530.7 L597.4,530.7 L598.5,530.7 L599.6,530.7 L600.7,530.7 L601.8,530.7 L602.9,530.7 L604.0,530.7 L605.1,530.7 L606.2,530.7 L607.3,530.7 L608.4,530.7 L609.5,530.7 L610.6,530.7 L611.7,530.7" stroke="#1010ff" stroke-width="1.2" fill="none"/>
<path d="M503.9,530.8 L505.0,530.8 L506.1,530.8 L507.2,530.8 L508.3,530.8 L509.4,530.8 L510.5,530.8 L511.6,530.8 L512.7,530.7 L513.8,530.7 L514.9,530.7 L516.0,530.7 L517.1,530.7 L518.2,530.7 L519.3,530.7 L520.4,530.7 L521.5,530.7 L522.6,530.7 L523.7,530.7 L524.8,530.7 L525.9,530.7 L527.0,530.7 L528.1,530.7 L529.2,530.7 L530.3,530.7 L531.4,530.7 L532.5,530.7 L533.6,530.7 L534.7,530.7 L535.8,530.7 L536.9,530.7 L538.0,530.7 L539.1,530.6 L540.2,530.6 L541.3,530.5 L542.4,530.4 L543.5,530.2 L544.6,530.0 L545.7,529.8 L546.8,529.5 L547.9,529.1 L549.0,528.7 L550.1,528.3 L551.2,527.7 L552.3,527.2 L553.4,526.6 L554.5,526.0 L555.6,525.4 L556.7,525.0 L557.8,524.5 L558.9,524.2 L560.0,524.1 L561.1,524.0 L562.2,524.1 L563.3,524.3 L564.4,524.7 L565.5,525.1 L566.6,525.6 L567.7,526.2 L568.8,526.8 L569.9,527.4 L571.0,527.9 L572.1,528.4 L573.2,528.9 L574.3,529.3 L575.4,529.6 L576.5,529.9 L577.6,530.1 L578.7,530.3 L579.8,530.4 L580.9,530.5 L582.0,530.5 L583.1,530.6 L584.2,530.6 L585.3,530.7 L586.4,530.7 L587.5,530.7 L588.6,530.7 L589.7,530.7 L590.8,530.7 L591.9,530.7 L593.0,530.7 L594.1,530.7 L595.2,530.7 L596.3,530.7 L597.4,530.7 L598.5,530.7 L599.6,530.7 L600.7,530.7 L601.8,530.7 L602.9,530.7 L604.0,530.7 L605.1,530.7 L606.2,530.7 L607.3,530.7 L608.4,530.7 L609.5,530.7 L610.6,530.7 L611.7,530.7 L612.8,530.7 L613.9,530.7 L615.0,530.7 L616.1,530.7 L617.2,530.7 L618.3,530.7" stroke="#1010ff" stroke-width="1.2" fill="none"/>
<path d="M450.0,530.6 L451.1,530.6 L452.2,530.6 L453.3,530.6 L454.4,530.6 L455.5,530.6 L456.6,530.6 L457.7,530.6 L458.8,530.6 L459.9,530.6 L461.0,530.6 L462.1,530.6 L463.2,530.6 L464.3,530.6 L465.4,530.6 L466.5,530.6 L467.6,530.6 L468.7,530.6 L469.8,530.5 L470.9,530.5 L472.0,530.5 L473.1,530.5 L474.2,530.5 L475.3,530.5 L476.4,530.5 L477.5,530.5 L478.6,530.5 L479.7,530.5 L480.8,530.5 L481.9,530.5 L483.0,530.5 L484.1,530.5 L485.2,530.5 L486.3,530.5 L487.4,530.5 L488.5,530.5 L489.6,530.4 L490.7,530.4 L491.8,530.4 L492.9,530.4 L494.0,530.4 L495.1,530.4 L496.2,530.4 L497.3,530.4 L498.4,530.4 L499.5,530.4 L500.6,530.4 L501.7,530.4 L502.8,530.3 L503.9,530.3 L505.0,530.3 L506.1,530.3 L507.2,530.3 L508.3,530.3 L509.4,530.3 L510.5,530.3 L511.6,530.2 L512.7,530.2 L513.8,530.2 L514.9,530.2 L516.0,530.2 L517.1,530.2 L518.2,530.2 L519.3,530.1 L520.4,530.1 L521.5,530.1 L522.6,530.0 L523.7,530.0 L524.8,529.9 L525.9,529.9 L527.0,529.8 L528.1,529.7 L529.2,529.6 L530.3,529.4 L531.4,529.2 L532.5,529.0 L533.6,528.7 L534.7,528.4 L535.8,528.1 L536.9,527.7 L538.0,527.3 L539.1,526.9 L540.2,526.5 L541.3,526.0 L542.4,525.5 L543.5,525.1 L544.6,524.6 L545.7,524.1 L546.8,523.7 L547.9,523.2 L549.0,522.8 L550.1,522.4 L551.2,522.0 L552.3,521.6 L553.4,521.2 L554.5,520.9 L555.6,520.6 L556.7,520.4 L557.8,520.2 L558.9,520.1 L560.0,520.2 L561.1,520.3 L562.2,520.5 L563.3,520.8 L564.4,521.2 L565.5,521.6 L566.6,522.0 L567.7,522.5 L568.8,522.9 L569.9,523.3 L571.0,523.6 L572.1,523.9 L573.2,524.0 L574.3,524.1 L575.4,524.0 L576.5,523.8 L577.6,523.5 L578.7,523.1 L579.8,522.6 L580.9,521.9 L582.0,521.1 L583.1,520.2 L584.2,519.1 L585.3,517.7 L586.4,516.2 L587.5,514.3 L588.6,512.2 L589.7,509.6 L590.8,506.5 L591.9,502.9 L593.0,498.6 L594.1,493.5 L595.2,487.7 L596.3,481.2 L597.4,474.3 L598.5,467.7 L599.6,462.2 L600.7,458.9 L601.8,458.5 L602.9,461.1 L604.0,466.0 L605.1,472.4 L606.2,479.3 L607.3,486.0 L608.4,492.0 L609.5,497.3 L610.6,501.8 L611.7,505.6 L612.8,508.8 L613.9,511.5 L615.0,513.8 L616.1,515.7 L617.2,517.4 L618.3,518.8 L619.4,520.0 L620.5,521.0 L621.6,521.9 L622.7,522.7 L623.8,523.4 L624.9,524.0 L626.0,524.5 L627.1,525.0 L628.2,525.4 L629.3,525.8 L630.4,526.1 L631.5,526.4 L632.6,526.7 L633.7,527.0 L634.8,527.2 L635.9,527.4 L637.0,527.6 L638.1,527.7 L639.2,527.9 L640.3,528.1 L641.4,528.2 L642.5,528.3 L643.6,528.4 L644.7,528.5 L645.8,528.6 L646.9,528.7 L648.0,528.8 L649.1,528.9 L650.2,529.0 L651.3,529.0 L652.4,529.1 L653.5,529.2 L654.6,529.2 L655.7,529.3 L656.8,529.3 L657.9,529.4 L659.0,529.4 L660.1,529.5 L661.2,529.5 L662.3,529.5 L663.4,529.6 L664.5,529.6 L665.6,529.7 L666.7,529.7 L667.8,529.7 L668.9,529.7 L670.0,529.8 L671.1,529.8 L672.2,529.8 L673.3,529.8 L674.4,529.9 L675.5,529.9 L676.6,529.9 L677.7,529.9 L678.8,529.9 L679.9,530.0 L681.0,530.0 L682.1,530.0 L683.2,530.0 L684.3,530.0 L685.4,530.0 L686.5,530.1 L687.6,530.1 L688.7,530.1 L689.8,530.1 L690.9,530.1 L692.0,530.1 L693.1,530.1 L694.2,530.1 L695.3,530.1 L696.4,530.2 L697.5,530.2 L698.6,530.2 L699.7,530.2 L700.8,530.2 L701.9,530.2" stroke="#ff20ff" stroke-width="1.7" fill="none"/>
<path d="M776.0,186.00 L1389.5,185.20" stroke="#7d7d7d" stroke-width="1.9" stroke-dasharray="9.5,9.6" fill="none"/>
<path d="M913.2,183.3 L913.9,183.3 L914.6,183.3 L915.3,183.2 L916.0,183.2 L916.7,183.2 L917.4,183.2 L918.1,183.1 L918.8,183.1 L919.5,183.0 L920.2,183.0 L920.9,183.0 L921.6,182.9 L922.3,182.8 L923.0,182.8 L923.7,182.7 L924.4,182.6 L925.1,182.5 L925.8,182.3 L926.5,182.1 L927.2,181.9 L927.9,181.6 L928.6,181.3 L929.3,180.9 L930.0,180.4 L930.7,179.8 L931.4,179.0 L932.1,178.1 L932.8,177.1 L933.5,175.9 L934.2,174.5 L934.9,173.0 L935.6,171.2 L936.3,169.3 L937.0,167.3 L937.7,165.2 L938.4,162.9 L939.1,160.7 L939.8,158.5 L940.5,156.5 L941.2,154.6 L941.9,153.0 L942.6,151.8 L943.3,151.1 L944.0,150.8 L944.7,151.1 L945.4,151.8 L946.1,153.0 L946.8,154.6 L947.5,156.5 L948.2,158.5 L948.9,160.7 L949.6,163.0 L950.3,165.2 L951.0,167.3 L951.7,169.4 L952.4,171.3 L953.1,173.0 L953.8,174.5 L954.5,175.9 L955.2,177.1 L955.9,178.2 L956.6,179.0 L957.3,179.8 L958.0,180.4 L958.7,180.9 L959.4,181.3 L960.1,181.7 L960.8,181.9 L961.5,182.2 L962.2,182.3 L962.9,182.5 L963.6,182.6 L964.3,182.7 L965.0,182.8 L965.7,182.9 L966.4,182.9 L967.1,183.0 L967.8,183.0 L968.5,183.1 L969.2,183.1 L969.9,183.2 L970.6,183.2 L971.3,183.2 L972.0,183.3 L972.7,183.3 L973.4,183.3 L974.1,183.3 L974.10,185.74 L913.20,185.82 Z" fill="rgb(200,200,200)" fill-opacity="0.7" stroke="#8a8a8a" stroke-width="0.8"/>
<path d="M999.3,182.8 L1000.0,182.7 L1000.7,182.7 L1001.4,182.6 L1002.1,182.5 L1002.8,182.4 L1003.5,182.3 L1004.2,182.2 L1004.9,182.1 L1005.6,181.9 L1006.3,181.7 L1007.0,181.5 L1007.7,181.2 L1008.4,180.9 L1009.1,180.4 L1009.8,179.9 L1010.5,179.1 L1011.2,178.1 L1011.9,176.8 L1012.6,175.1 L1013.3,173.0 L1014.0,170.4 L1014.7,167.2 L1015.4,163.4 L1016.1,159.0 L1016.8,154.0 L1017.5,148.4 L1018.2,142.5 L1018.9,136.4 L1019.6,130.4 L1020.3,124.7 L1021.0,119.8 L1021.7,116.0 L1022.4,113.6 L1023.1,113.0 L1023.8,114.1 L1024.5,116.9 L1025.2,121.1 L1025.9,126.3 L1026.6,132.1 L1027.3,138.2 L1028.0,144.3 L1028.7,150.1 L1029.4,155.5 L1030.1,160.3 L1030.8,164.6 L1031.5,168.2 L1032.2,171.2 L1032.9,173.7 L1033.6,175.7 L1034.3,177.3 L1035.0,178.5 L1035.7,179.4 L1036.4,180.1 L1037.1,180.7 L1037.8,181.1 L1038.5,181.4 L1039.2,181.7 L1039.9,181.9 L1040.6,182.1 L1041.3,182.2 L1042.0,182.4 L1042.7,182.5 L1043.4,182.6 L1044.1,182.7 L1044.8,182.8 L1045.5,182.8 L1046.2,182.9 L1046.9,183.0 L1046.90,185.65 L999.30,185.71 Z" fill="rgb(200,200,200)" fill-opacity="0.7" stroke="#8a8a8a" stroke-width="0.8"/>
<path d="M776.0,186.0 L776.7,185.6 L777.4,184.8 L778.1,186.0 L778.8,185.5 L779.5,185.0 L780.2,185.3 L780.9,185.0 L781.6,186.0 L782.3,185.4 L783.0,184.6 L783.7,185.2 L784.4,184.8 L785.1,185.5 L785.8,184.4 L786.5,183.9 L787.2,184.6 L787.9,184.3 L788.6,184.1 L789.3,183.3 L790.0,184.0 L790.7,184.2 L791.4,182.7 L792.1,183.5 L792.8,182.4 L793.5,182.8 L794.2,181.6 L794.9,180.9 L795.6,181.1 L796.3,180.9 L797.0,180.6 L797.7,181.4 L798.4,181.4 L799.1,181.3 L799.8,183.0 L800.5,182.5 L801.2,182.5 L801.9,182.8 L802.6,182.1 L803.3,181.9 L804.0,182.0 L804.7,181.8 L805.4,181.9 L806.1,182.3 L806.8,181.9 L807.5,182.6 L808.2,182.9 L808.9,182.3 L809.6,182.6 L810.3,181.7 L811.0,181.8 L811.7,181.0 L812.4,180.1 L813.1,178.9 L813.8,178.8 L814.5,178.0 L815.2,178.3 L815.9,177.9 L816.6,177.9 L817.3,178.9 L818.0,179.4 L818.7,179.5 L819.4,180.9 L820.1,181.0 L820.8,181.7 L821.5,182.3 L822.2,182.4 L822.9,182.6 L823.6,182.6 L824.3,182.9 L825.0,182.5 L825.7,181.3 L826.4,181.4 L827.1,180.2 L827.8,179.7 L828.5,179.3 L829.2,178.5 L829.9,178.8 L830.6,177.8 L831.3,177.1 L832.0,178.1 L832.7,177.7 L833.4,178.0 L834.1,177.4 L834.8,179.2 L835.5,179.5 L836.2,179.7 L836.9,179.9 L837.6,180.2 L838.3,179.7 L839.0,180.1 L839.7,179.6 L840.4,179.8 L841.1,180.4 L841.8,180.2 L842.5,179.6 L843.2,180.2 L843.9,180.0 L844.6,179.4 L845.3,179.2 L846.0,178.1 L846.7,177.0 L847.4,176.5 L848.1,177.1 L848.8,175.9 L849.5,176.7 L850.2,177.2 L850.9,177.6 L851.6,177.3 L852.3,178.1 L853.0,178.7 L853.7,179.5 L854.4,179.6 L855.1,180.0 L855.8,181.3 L856.5,181.7 L857.2,181.8 L857.9,181.7 L858.6,182.0 L859.3,181.8 L860.0,181.9 L860.7,181.0 L861.4,181.3 L862.1,180.9 L862.8,180.1 L863.5,180.0 L864.2,179.4 L864.9,178.8 L865.6,178.7 L866.3,177.9 L867.0,178.4 L867.7,178.7 L868.4,178.9 L869.1,179.4 L869.8,179.0 L870.5,179.2 L871.2,180.2 L871.9,180.6 L872.6,181.5 L873.3,181.4 L874.0,181.2 L874.7,182.2 L875.4,181.9 L876.1,181.9 L876.8,183.5 L877.5,182.9 L878.2,183.1 L878.9,183.2 L879.6,183.8 L880.3,183.4 L881.0,183.8 L881.7,183.1 L882.4,183.1 L883.1,184.1 L883.8,184.2 L884.5,183.9 L885.2,183.9 L885.9,183.9 L886.6,183.6 L887.3,184.3 L888.0,184.0 L888.7,184.0 L889.4,183.9 L890.1,184.1 L890.8,183.9 L891.5,184.0 L892.2,183.3 L892.9,183.9 L893.6,184.4 L894.3,183.5 L895.0,183.6 L895.7,183.9 L896.4,183.9 L897.1,183.8 L897.8,183.0 L898.5,183.7 L899.2,183.1 L899.9,183.2 L900.6,183.7 L901.3,183.4 L902.0,183.8 L902.7,184.6 L903.4,183.7 L904.1,183.7 L904.8,183.1 L905.5,183.2 L906.2,183.0 L906.9,183.2 L907.6,183.0 L908.3,183.1 L909.0,183.3 L909.7,183.0 L910.4,182.8 L911.1,182.8 L911.8,183.4 L912.5,183.3 L913.2,183.6 L913.9,183.6 L914.6,183.1 L915.3,183.4 L916.0,182.6 L916.7,183.9 L917.4,183.5 L918.1,183.0 L918.8,182.6 L919.5,183.1 L920.2,182.3 L920.9,182.6 L921.6,183.1 L922.3,182.8 L923.0,182.5 L923.7,182.9 L924.4,182.1 L925.1,182.5 L925.8,182.1 L926.5,181.7 L927.2,182.0 L927.9,181.2 L928.6,181.9 L929.3,180.6 L930.0,181.0 L930.7,179.3 L931.4,179.1 L932.1,177.6 L932.8,176.5 L933.5,175.9 L934.2,174.7 L934.9,172.4 L935.6,171.5 L936.3,169.0 L937.0,167.2 L937.7,165.2 L938.4,163.0 L939.1,160.0 L939.8,159.0 L940.5,156.5 L941.2,154.3 L941.9,152.5 L942.6,151.1 L943.3,150.5 L944.0,150.9 L944.7,150.8 L945.4,151.3 L946.1,152.7 L946.8,155.0 L947.5,156.2 L948.2,158.2 L948.9,161.1 L949.6,163.0 L950.3,165.0 L951.0,167.0 L951.7,168.7 L952.4,170.7 L953.1,172.7 L953.8,174.3 L954.5,175.9 L955.2,177.2 L955.9,178.1 L956.6,179.0 L957.3,179.3 L958.0,179.5 L958.7,180.5 L959.4,180.8 L960.1,181.2 L960.8,181.7 L961.5,181.5 L962.2,181.8 L962.9,182.3 L963.6,182.4 L964.3,182.3 L965.0,182.8 L965.7,182.6 L966.4,182.4 L967.1,182.8 L967.8,183.5 L968.5,182.6 L969.2,183.3 L969.9,183.4 L970.6,183.4 L971.3,182.5 L972.0,183.5 L972.7,182.7 L973.4,182.4 L974.1,182.2 L974.8,182.1 L975.5,181.5 L976.2,180.8 L976.9,180.7 L977.6,179.2 L978.3,178.3 L979.0,178.1 L979.7,177.3 L980.4,176.8 L981.1,175.5 L981.8,176.0 L982.5,175.8 L983.2,176.5 L983.9,175.9 L984.6,177.0 L985.3,177.6 L986.0,178.0 L986.7,179.1 L987.4,180.5 L988.1,180.6 L988.8,181.1 L989.5,182.1 L990.2,182.5 L990.9,182.8 L991.6,182.3 L992.3,182.7 L993.0,183.1 L993.7,182.6 L994.4,182.6 L995.1,183.1 L995.8,183.3 L996.5,182.3 L997.2,181.8 L997.9,182.2 L998.6,182.3 L999.3,182.5 L1000.0,182.7 L1000.7,182.4 L1001.4,182.1 L1002.1,182.3 L1002.8,181.8 L1003.5,182.1 L1004.2,181.7 L1004.9,182.8 L1005.6,182.0 L1006.3,181.2 L1007.0,180.9 L1007.7,180.8 L1008.4,180.0 L1009.1,179.9 L1009.8,179.3 L1010.5,179.1 L1011.2,177.6 L1011.9,176.2 L1012.6,174.3 L1013.3,172.3 L1014.0,170.0 L1014.7,166.8 L1015.4,163.4 L1016.1,158.4 L1016.8,153.9 L1017.5,148.1 L1018.2,142.1 L1018.9,135.3 L1019.6,129.4 L1020.3,124.4 L1021.0,119.7 L1021.7,115.4 L1022.4,113.1 L1023.1,112.0 L1023.8,113.1 L1024.5,115.6 L1025.2,120.2 L1025.9,125.0 L1026.6,130.4 L1027.3,136.2 L1028.0,142.3 L1028.7,147.8 L1029.4,152.4 L1030.1,157.8 L1030.8,161.2 L1031.5,164.3 L1032.2,167.5 L1032.9,169.4 L1033.6,170.7 L1034.3,172.2 L1035.0,172.6 L1035.7,173.6 L1036.4,173.8 L1037.1,175.7 L1037.8,175.2 L1038.5,176.7 L1039.2,176.8 L1039.9,177.3 L1040.6,178.2 L1041.3,178.9 L1042.0,179.5 L1042.7,180.4 L1043.4,180.3 L1044.1,180.9 L1044.8,180.7 L1045.5,181.5 L1046.2,181.6 L1046.9,181.6 L1047.6,182.0 L1048.3,182.2 L1049.0,182.4 L1049.7,182.6 L1050.4,182.4 L1051.1,182.5 L1051.8,183.1 L1052.5,182.3 L1053.2,182.7 L1053.9,183.6 L1054.6,182.1 L1055.3,182.9 L1056.0,183.4 L1056.7,182.6 L1057.4,184.2 L1058.1,182.4 L1058.8,183.8 L1059.5,183.9 L1060.2,183.7 L1060.9,183.4 L1061.6,183.6 L1062.3,183.2 L1063.0,183.8 L1063.7,183.1 L1064.4,183.5 L1065.1,183.9 L1065.8,183.2 L1066.5,183.5 L1067.2,183.7 L1067.9,183.2 L1068.6,184.1 L1069.3,183.8 L1070.0,183.2 L1070.7,183.7 L1071.4,183.5 L1072.1,183.5 L1072.8,183.8 L1073.5,183.5 L1074.2,184.1 L1074.9,183.5 L1075.6,184.1 L1076.3,183.8 L1077.0,184.1 L1077.7,183.6 L1078.4,183.7 L1079.1,183.4 L1079.8,184.1 L1080.5,184.2 L1081.2,184.6 L1081.9,184.3 L1082.6,184.0 L1083.3,183.8 L1084.0,184.0 L1084.7,183.9 L1085.4,184.4 L1086.1,184.3 L1086.8,183.6 L1087.5,183.7 L1088.2,184.4 L1088.9,184.1 L1089.6,183.9 L1090.3,184.4 L1091.0,183.8 L1091.7,183.9 L1092.4,183.8 L1093.1,183.3 L1093.8,184.3 L1094.5,183.6 L1095.2,183.8 L1095.9,183.7 L1096.6,184.3 L1097.3,184.0 L1098.0,184.0 L1098.7,183.4 L1099.4,184.0 L1100.1,183.5 L1100.8,184.1 L1101.5,184.2 L1102.2,184.0 L1102.9,184.8 L1103.6,184.2 L1104.3,184.3 L1105.0,184.1 L1105.7,184.0 L1106.4,184.4 L1107.1,184.4 L1107.8,183.6 L1108.5,184.4 L1109.2,184.2 L1109.9,184.4 L1110.6,184.2 L1111.3,183.6 L1112.0,183.7 L1112.7,184.7 L1113.4,184.2 L1114.1,183.6 L1114.8,184.2 L1115.5,184.0 L1116.2,183.4 L1116.9,183.3 L1117.6,183.5 L1118.3,184.2 L1119.0,184.1 L1119.7,184.0 L1120.4,184.2 L1121.1,184.3 L1121.8,183.4 L1122.5,184.0 L1123.2,183.8 L1123.9,183.7 L1124.6,183.9 L1125.3,184.1 L1126.0,184.0 L1126.7,183.6 L1127.4,183.9 L1128.1,184.8 L1128.8,183.8 L1129.5,183.5 L1130.2,184.2 L1130.9,184.3 L1131.6,184.3 L1132.3,183.7 L1133.0,184.5 L1133.7,183.9 L1134.4,183.7 L1135.1,183.9 L1135.8,184.1 L1136.5,184.4 L1137.2,184.4 L1137.9,184.1 L1138.6,184.5 L1139.3,184.2 L1140.0,184.5 L1140.7,183.7 L1141.4,183.6 L1142.1,184.4 L1142.8,183.7 L1143.5,184.0 L1144.2,184.1 L1144.9,184.0 L1145.6,184.0 L1146.3,184.6 L1147.0,183.3 L1147.7,184.5 L1148.4,185.0 L1149.1,184.2 L1149.8,184.2 L1150.5,184.4 L1151.2,184.8 L1151.9,183.8 L1152.6,184.2 L1153.3,184.1 L1154.0,184.4 L1154.7,184.2 L1155.4,184.4 L1156.1,184.0 L1156.8,184.2 L1157.5,183.9 L1158.2,183.9 L1158.9,184.1 L1159.6,184.1 L1160.3,183.8 L1161.0,184.7 L1161.7,184.1 L1162.4,183.7 L1163.1,184.6 L1163.8,183.9 L1164.5,184.4 L1165.2,184.2 L1165.9,184.3 L1166.6,184.2 L1167.3,184.0 L1168.0,184.2 L1168.7,184.9 L1169.4,183.4 L1170.1,184.2 L1170.8,184.3 L1171.5,183.8 L1172.2,183.7 L1172.9,184.9 L1173.6,184.1 L1174.3,184.9 L1175.0,184.4 L1175.7,184.2 L1176.4,184.4 L1177.1,184.4 L1177.8,184.6 L1178.5,184.4 L1179.2,184.2 L1179.9,184.3 L1180.6,184.7 L1181.3,184.5 L1182.0,183.9 L1182.7,184.0 L1183.4,184.3 L1184.1,184.0 L1184.8,184.1 L1185.5,183.9 L1186.2,184.1 L1186.9,184.4 L1187.6,184.6 L1188.3,184.2 L1189.0,184.9 L1189.7,184.2 L1190.4,185.3 L1191.1,184.6 L1191.8,184.4 L1192.5,184.0 L1193.2,183.2 L1193.9,184.2 L1194.6,184.3 L1195.3,184.9 L1196.0,183.7 L1196.7,184.9 L1197.4,184.1 L1198.1,184.5 L1198.8,183.3 L1199.5,184.3 L1200.2,184.1 L1200.9,184.5 L1201.6,184.2 L1202.3,183.8 L1203.0,184.5 L1203.7,184.5 L1204.4,184.4 L1205.1,184.6 L1205.8,184.6 L1206.5,184.2 L1207.2,183.7 L1207.9,183.7 L1208.6,184.7 L1209.3,184.5 L1210.0,184.2 L1210.7,184.1 L1211.4,184.2 L1212.1,184.2 L1212.8,184.1 L1213.5,184.0 L1214.2,185.0 L1214.9,184.3 L1215.6,184.0 L1216.3,183.8 L1217.0,184.0 L1217.7,184.5 L1218.4,184.5 L1219.1,184.1 L1219.8,184.2 L1220.5,184.1 L1221.2,183.8 L1221.9,184.7 L1222.6,184.3 L1223.3,185.1 L1224.0,183.9 L1224.7,184.2 L1225.4,184.5 L1226.1,184.1 L1226.8,183.7 L1227.5,183.9 L1228.2,184.2 L1228.9,184.3 L1229.6,184.2 L1230.3,184.6 L1231.0,184.5 L1231.7,184.3 L1232.4,184.2 L1233.1,184.1 L1233.8,184.4 L1234.5,184.5 L1235.2,184.2 L1235.9,184.4 L1236.6,184.1 L1237.3,183.7 L1238.0,183.8 L1238.7,184.5 L1239.4,184.3 L1240.1,184.7 L1240.8,184.2 L1241.5,184.5 L1242.2,184.6 L1242.9,184.5 L1243.6,184.0 L1244.3,184.1 L1245.0,184.2 L1245.7,183.8 L1246.4,184.3 L1247.1,184.5 L1247.8,184.0 L1248.5,184.9 L1249.2,184.1 L1249.9,184.1 L1250.6,184.1 L1251.3,183.9 L1252.0,184.3 L1252.7,184.2 L1253.4,184.7 L1254.1,184.4 L1254.8,184.3 L1255.5,184.1 L1256.2,183.7 L1256.9,184.1 L1257.6,183.8 L1258.3,184.5 L1259.0,184.1 L1259.7,184.7 L1260.4,184.4 L1261.1,184.4 L1261.8,184.2 L1262.5,184.2 L1263.2,184.3 L1263.9,184.4 L1264.6,183.9 L1265.3,184.3 L1266.0,185.0 L1266.7,184.1 L1267.4,184.0 L1268.1,183.8 L1268.8,183.6 L1269.5,184.5 L1270.2,184.1 L1270.9,184.2 L1271.6,184.7 L1272.3,184.9 L1273.0,183.7 L1273.7,184.4 L1274.4,184.3 L1275.1,184.2 L1275.8,184.2 L1276.5,184.0 L1277.2,184.6 L1277.9,184.2 L1278.6,184.1 L1279.3,184.4 L1280.0,184.3 L1280.7,184.1 L1281.4,184.0 L1282.1,184.5 L1282.8,184.0 L1283.5,183.8 L1284.2,183.5 L1284.9,183.6 L1285.6,183.3 L1286.3,183.6 L1287.0,183.5 L1287.7,182.5 L1288.4,183.1 L1289.1,183.1 L1289.8,182.7 L1290.5,182.0 L1291.2,182.4 L1291.9,181.4 L1292.6,180.8 L1293.3,180.4 L1294.0,180.3 L1294.7,180.2 L1295.4,179.8 L1296.1,179.0 L1296.8,178.0 L1297.5,177.8 L1298.2,177.4 L1298.9,177.3 L1299.6,176.6 L1300.3,177.1 L1301.0,177.2 L1301.7,177.0 L1302.4,177.3 L1303.1,177.1 L1303.8,177.1 L1304.5,177.8 L1305.2,178.7 L1305.9,179.1 L1306.6,179.0 L1307.3,179.9 L1308.0,179.8 L1308.7,180.8 L1309.4,180.7 L1310.1,180.7 L1310.8,181.3 L1311.5,181.0 L1312.2,181.1 L1312.9,181.0 L1313.6,181.6 L1314.3,181.5 L1315.0,181.4 L1315.7,181.2 L1316.4,181.7 L1317.1,180.8 L1317.8,180.5 L1318.5,180.8 L1319.2,180.5 L1319.9,179.6 L1320.6,178.2 L1321.3,177.8 L1322.0,177.3 L1322.7,175.9 L1323.4,175.1 L1324.1,172.4 L1324.8,171.1 L1325.5,168.3 L1326.2,166.4 L1326.9,162.8 L1327.6,159.8 L1328.3,155.5 L1329.0,151.2 L1329.7,147.0 L1330.4,142.7 L1331.1,137.9 L1331.8,134.2 L1332.5,130.0 L1333.2,125.8 L1333.9,122.1 L1334.6,120.0 L1335.3,118.4 L1336.0,118.9 L1336.7,119.4 L1337.4,121.5 L1338.1,124.1 L1338.8,127.1 L1339.5,131.7 L1340.2,136.0 L1340.9,141.0 L1341.6,145.5 L1342.3,149.6 L1343.0,153.9 L1343.7,158.5 L1344.4,161.1 L1345.1,164.3 L1345.8,167.4 L1346.5,169.7 L1347.2,171.9 L1347.9,174.0 L1348.6,176.0 L1349.3,176.0 L1350.0,177.7 L1350.7,178.6 L1351.4,179.2 L1352.1,179.8 L1352.8,180.2 L1353.5,181.0 L1354.2,180.9 L1354.9,181.3 L1355.6,181.5 L1356.3,181.8 L1357.0,181.9 L1357.7,182.4 L1358.4,182.2 L1359.1,182.4 L1359.8,182.4 L1360.5,182.2 L1361.2,182.4 L1361.9,182.4 L1362.6,182.9 L1363.3,182.6 L1364.0,182.6 L1364.7,183.1 L1365.4,183.3 L1366.1,182.5 L1366.8,183.8 L1367.5,183.3 L1368.2,183.3 L1368.9,183.7 L1369.6,183.4 L1370.3,183.2 L1371.0,184.2 L1371.7,183.1 L1372.4,183.5 L1373.1,183.8 L1373.8,183.2 L1374.5,183.6 L1375.2,183.8 L1375.9,184.5 L1376.6,183.4 L1377.3,183.7 L1378.0,184.0 L1378.7,183.8 L1379.4,183.4 L1380.1,183.9 L1380.8,183.8 L1381.5,184.0 L1382.2,184.2 L1382.9,184.2 L1383.6,184.0 L1384.3,184.0 L1385.0,183.5 L1385.7,183.9 L1386.4,184.0 L1387.1,183.8 L1387.8,184.0 L1388.5,183.7 L1389.2,184.5" stroke="#000" stroke-width="1.5" fill="none" stroke-linejoin="round"/>
<path d="M1175.0,184.4 L1175.7,184.4 L1176.4,184.4 L1177.1,184.4 L1177.8,184.4 L1178.5,184.4 L1179.2,184.4 L1179.9,184.4 L1180.6,184.4 L1181.3,184.3 L1182.0,184.3 L1182.7,184.3 L1183.4,184.3 L1184.1,184.3 L1184.8,184.3 L1185.5,184.3 L1186.2,184.3 L1186.9,184.3 L1187.6,184.3 L1188.3,184.3 L1189.0,184.3 L1189.7,184.3 L1190.4,184.3 L1191.1,184.3 L1191.8,184.3 L1192.5,184.3 L1193.2,184.3 L1193.9,184.3 L1194.6,184.3 L1195.3,184.3 L1196.0,184.3 L1196.7,184.3 L1197.4,184.3 L1198.1,184.3 L1198.8,184.3 L1199.5,184.3 L1200.2,184.3 L1200.9,184.3 L1201.6,184.3 L1202.3,184.3 L1203.0,184.3 L1203.7,184.3 L1204.4,184.3 L1205.1,184.3 L1205.8,184.3 L1206.5,184.3 L1207.2,184.3 L1207.9,184.3 L1208.6,184.3 L1209.3,184.3 L1210.0,184.3 L1210.7,184.3 L1211.4,184.3 L1212.1,184.3 L1212.8,184.3 L1213.5,184.3 L1214.2,184.3 L1214.9,184.3 L1215.6,184.3 L1216.3,184.3 L1217.0,184.3 L1217.7,184.3 L1218.4,184.3 L1219.1,184.3 L1219.8,184.3 L1220.5,184.3 L1221.2,184.3 L1221.9,184.3 L1222.6,184.3 L1223.3,184.3 L1224.0,184.3 L1224.7,184.3 L1225.4,184.3 L1226.1,184.3 L1226.8,184.3 L1227.5,184.3 L1228.2,184.3 L1228.9,184.3 L1229.6,184.3 L1230.3,184.3 L1231.0,184.3 L1231.7,184.3 L1232.4,184.3 L1233.1,184.3 L1233.8,184.3 L1234.5,184.3 L1235.2,184.3 L1235.9,184.3 L1236.6,184.3 L1237.3,184.3 L1238.0,184.3 L1238.7,184.3 L1239.4,184.3 L1240.1,184.3 L1240.8,184.3 L1241.5,184.3 L1242.2,184.3 L1242.9,184.3 L1243.6,184.3 L1244.3,184.3 L1245.0,184.3 L1245.7,184.3 L1246.4,184.3 L1247.1,184.2 L1247.8,184.2 L1248.5,184.2 L1249.2,184.2 L1249.9,184.2 L1250.6,184.2 L1251.3,184.2 L1252.0,184.2 L1252.7,184.2 L1253.4,184.2 L1254.1,184.2 L1254.8,184.2 L1255.5,184.2 L1256.2,184.2 L1256.9,184.2 L1257.6,184.2 L1258.3,184.2 L1259.0,184.2 L1259.7,184.2 L1260.4,184.2 L1261.1,184.2 L1261.8,184.2 L1262.5,184.2 L1263.2,184.2 L1263.9,184.2 L1264.6,184.2 L1265.3,184.2 L1266.0,184.2 L1266.7,184.2 L1267.4,184.1 L1268.1,184.1 L1268.8,184.1 L1269.5,184.1 L1270.2,184.1 L1270.9,184.1 L1271.6,184.1 L1272.3,184.1 L1273.0,184.1 L1273.7,184.1 L1274.4,184.1 L1275.1,184.1 L1275.8,184.1 L1276.5,184.1 L1277.2,184.1 L1277.9,184.0 L1278.6,184.0 L1279.3,184.0 L1280.0,184.0 L1280.7,184.0 L1281.4,184.0 L1282.1,184.0 L1282.8,184.0 L1283.5,184.0 L1284.2,184.0 L1284.9,183.9 L1285.6,183.9 L1286.3,183.9 L1287.0,183.9 L1287.7,183.9 L1288.4,183.9 L1289.1,183.9 L1289.8,183.8 L1290.5,183.8 L1291.2,183.8 L1291.9,183.8 L1292.6,183.8 L1293.3,183.8 L1294.0,183.7 L1294.7,183.7 L1295.4,183.7 L1296.1,183.7 L1296.8,183.6 L1297.5,183.6 L1298.2,183.6 L1298.9,183.5 L1299.6,183.5 L1300.3,183.5 L1301.0,183.4 L1301.7,183.4 L1302.4,183.4 L1303.1,183.3 L1303.8,183.3 L1304.5,183.2 L1305.2,183.2 L1305.9,183.1 L1306.6,183.1 L1307.3,183.0 L1308.0,182.9 L1308.7,182.9 L1309.4,182.8 L1310.1,182.7 L1310.8,182.6 L1311.5,182.5 L1312.2,182.4 L1312.9,182.3 L1313.6,182.1 L1314.3,182.0 L1315.0,181.8 L1315.7,181.6 L1316.4,181.4 L1317.1,181.2 L1317.8,180.9 L1318.5,180.5 L1319.2,180.1 L1319.9,179.5 L1320.6,178.9 L1321.3,178.1 L1322.0,177.1 L1322.7,176.0 L1323.4,174.5 L1324.1,172.9 L1324.8,170.9 L1325.5,168.6 L1326.2,165.9 L1326.9,162.9 L1327.6,159.5 L1328.3,155.8 L1329.0,151.7 L1329.7,147.4 L1330.4,142.9 L1331.1,138.3 L1331.8,133.8 L1332.5,129.5 L1333.2,125.7 L1333.9,122.5 L1334.6,120.1 L1335.3,118.7 L1336.0,118.4 L1336.7,119.3 L1337.4,121.3 L1338.1,124.2 L1338.8,127.8 L1339.5,131.9 L1340.2,136.4 L1340.9,140.9 L1341.6,145.5 L1342.3,149.9 L1343.0,154.1 L1343.7,157.9 L1344.4,161.5 L1345.1,164.7 L1345.8,167.5 L1346.5,169.9 L1347.2,172.1 L1347.9,173.9 L1348.6,175.4 L1349.3,176.6 L1350.0,177.7 L1350.7,178.6 L1351.4,179.3 L1352.1,179.8 L1352.8,180.3 L1353.5,180.7 L1354.2,181.0 L1354.9,181.3 L1355.6,181.5 L1356.3,181.8 L1357.0,181.9 L1357.7,182.1 L1358.4,182.2 L1359.1,182.3 L1359.8,182.5 L1360.5,182.6 L1361.2,182.7 L1361.9,182.7 L1362.6,182.8 L1363.3,182.9 L1364.0,183.0 L1364.7,183.0 L1365.4,183.1 L1366.1,183.2 L1366.8,183.2 L1367.5,183.3 L1368.2,183.3 L1368.9,183.3 L1369.6,183.4 L1370.3,183.4 L1371.0,183.5 L1371.7,183.5 L1372.4,183.5 L1373.1,183.6 L1373.8,183.6 L1374.5,183.6 L1375.2,183.6 L1375.9,183.7 L1376.6,183.7 L1377.3,183.7 L1378.0,183.7 L1378.7,183.8 L1379.4,183.8 L1380.1,183.8 L1380.8,183.8 L1381.5,183.8 L1382.2,183.9 L1382.9,183.9 L1383.6,183.9 L1384.3,183.9 L1385.0,183.9 L1385.7,183.9 L1386.4,183.9 L1387.1,184.0 L1387.8,184.0 L1388.5,184.0 L1389.2,184.0 L1389.20,184.40 L1175.00,184.40 Z" fill="rgb(108,100,255)" stroke="#2020a0" stroke-width="0.6"/>
<path d="M1175.0,184.4 L1175.7,184.4 L1176.4,184.4 L1177.1,184.4 L1177.8,184.4 L1178.5,184.4 L1179.2,184.4 L1179.9,184.4 L1180.6,184.4 L1181.3,184.3 L1182.0,184.3 L1182.7,184.3 L1183.4,184.3 L1184.1,184.3 L1184.8,184.3 L1185.5,184.3 L1186.2,184.3 L1186.9,184.3 L1187.6,184.3 L1188.3,184.3 L1189.0,184.3 L1189.7,184.3 L1190.4,184.3 L1191.1,184.3 L1191.8,184.3 L1192.5,184.3 L1193.2,184.3 L1193.9,184.3 L1194.6,184.3 L1195.3,184.3 L1196.0,184.3 L1196.7,184.3 L1197.4,184.3 L1198.1,184.3 L1198.8,184.3 L1199.5,184.3 L1200.2,184.3 L1200.9,184.3 L1201.6,184.3 L1202.3,184.3 L1203.0,184.3 L1203.7,184.3 L1204.4,184.3 L1205.1,184.3 L1205.8,184.3 L1206.5,184.3 L1207.2,184.3 L1207.9,184.3 L1208.6,184.3 L1209.3,184.3 L1210.0,184.3 L1210.7,184.3 L1211.4,184.3 L1212.1,184.3 L1212.8,184.3 L1213.5,184.3 L1214.2,184.3 L1214.9,184.3 L1215.6,184.3 L1216.3,184.3 L1217.0,184.3 L1217.7,184.3 L1218.4,184.3 L1219.1,184.3 L1219.8,184.3 L1220.5,184.3 L1221.2,184.3 L1221.9,184.3 L1222.6,184.3 L1223.3,184.3 L1224.0,184.3 L1224.7,184.3 L1225.4,184.3 L1226.1,184.3 L1226.8,184.3 L1227.5,184.3 L1228.2,184.3 L1228.9,184.3 L1229.6,184.3 L1230.3,184.3 L1231.0,184.3 L1231.7,184.3 L1232.4,184.3 L1233.1,184.3 L1233.8,184.3 L1234.5,184.3 L1235.2,184.3 L1235.9,184.3 L1236.6,184.3 L1237.3,184.3 L1238.0,184.3 L1238.7,184.3 L1239.4,184.3 L1240.1,184.3 L1240.8,184.3 L1241.5,184.3 L1242.2,184.3 L1242.9,184.3 L1243.6,184.3 L1244.3,184.3 L1245.0,184.3 L1245.7,184.3 L1246.4,184.3 L1247.1,184.2 L1247.8,184.2 L1248.5,184.2 L1249.2,184.2 L1249.9,184.2 L1250.6,184.2 L1251.3,184.2 L1252.0,184.2 L1252.7,184.2 L1253.4,184.2 L1254.1,184.2 L1254.8,184.2 L1255.5,184.2 L1256.2,184.2 L1256.9,184.2 L1257.6,184.2 L1258.3,184.2 L1259.0,184.2 L1259.7,184.2 L1260.4,184.2 L1261.1,184.2 L1261.8,184.2 L1262.5,184.2 L1263.2,184.2 L1263.9,184.2 L1264.6,184.2 L1265.3,184.2 L1266.0,184.2 L1266.7,184.2 L1267.4,184.1 L1268.1,184.1 L1268.8,184.1 L1269.5,184.1 L1270.2,184.1 L1270.9,184.1 L1271.6,184.1 L1272.3,184.1 L1273.0,184.1 L1273.7,184.1 L1274.4,184.1 L1275.1,184.1 L1275.8,184.1 L1276.5,184.1 L1277.2,184.1 L1277.9,184.0 L1278.6,184.0 L1279.3,184.0 L1280.0,184.0 L1280.7,184.0 L1281.4,184.0 L1282.1,184.0 L1282.8,184.0 L1283.5,184.0 L1284.2,184.0 L1284.9,183.9 L1285.6,183.9 L1286.3,183.9 L1287.0,183.9 L1287.7,183.9 L1288.4,183.9 L1289.1,183.9 L1289.8,183.8 L1290.5,183.8 L1291.2,183.8 L1291.9,183.8 L1292.6,183.8 L1293.3,183.8 L1294.0,183.7 L1294.7,183.7 L1295.4,183.7 L1296.1,183.7 L1296.8,183.6 L1297.5,183.6 L1298.2,183.6 L1298.9,183.5 L1299.6,183.5 L1300.3,183.5 L1301.0,183.4 L1301.7,183.4 L1302.4,183.4 L1303.1,183.3 L1303.8,183.3 L1304.5,183.2 L1305.2,183.2 L1305.9,183.1 L1306.6,183.1 L1307.3,183.0 L1308.0,182.9 L1308.7,182.9 L1309.4,182.8 L1310.1,182.7 L1310.8,182.6 L1311.5,182.5 L1312.2,182.4 L1312.9,182.3 L1313.6,182.1 L1314.3,182.0 L1315.0,181.8 L1315.7,181.6 L1316.4,181.4 L1317.1,181.2 L1317.8,180.9 L1318.5,180.5 L1319.2,180.1 L1319.9,179.5 L1320.6,178.9 L1321.3,178.1 L1322.0,177.1 L1322.7,176.0 L1323.4,174.5 L1324.1,172.9 L1324.8,170.9 L1325.5,168.6 L1326.2,165.9 L1326.9,162.9 L1327.6,159.5 L1328.3,155.8 L1329.0,151.7 L1329.7,147.4 L1330.4,142.9 L1331.1,138.3 L1331.8,133.8 L1332.5,129.5 L1333.2,125.7 L1333.9,122.5 L1334.6,120.1 L1335.3,118.7 L1336.0,118.4 L1336.7,119.3 L1337.4,121.3 L1338.1,124.2 L1338.8,127.8 L1339.5,131.9 L1340.2,136.4 L1340.9,140.9 L1341.6,145.5 L1342.3,149.9 L1343.0,154.1 L1343.7,157.9 L1344.4,161.5 L1345.1,164.7 L1345.8,167.5 L1346.5,169.9 L1347.2,172.1 L1347.9,173.9 L1348.6,175.4 L1349.3,176.6 L1350.0,177.7 L1350.7,178.6 L1351.4,179.3 L1352.1,179.8 L1352.8,180.3 L1353.5,180.7 L1354.2,181.0 L1354.9,181.3 L1355.6,181.5 L1356.3,181.8 L1357.0,181.9 L1357.7,182.1 L1358.4,182.2 L1359.1,182.3 L1359.8,182.5 L1360.5,182.6 L1361.2,182.7 L1361.9,182.7 L1362.6,182.8 L1363.3,182.9 L1364.0,183.0 L1364.7,183.0 L1365.4,183.1 L1366.1,183.2 L1366.8,183.2 L1367.5,183.3 L1368.2,183.3 L1368.9,183.3 L1369.6,183.4 L1370.3,183.4 L1371.0,183.5 L1371.7,183.5 L1372.4,183.5 L1373.1,183.6 L1373.8,183.6 L1374.5,183.6 L1375.2,183.6 L1375.9,183.7 L1376.6,183.7 L1377.3,183.7 L1378.0,183.7 L1378.7,183.8 L1379.4,183.8 L1380.1,183.8 L1380.8,183.8 L1381.5,183.8 L1382.2,183.9 L1382.9,183.9 L1383.6,183.9 L1384.3,183.9 L1385.0,183.9 L1385.7,183.9 L1386.4,183.9 L1387.1,184.0 L1387.8,184.0 L1388.5,184.0 L1389.2,184.0 L1389.20,184.40 L1175.00,184.40 Z" fill="url(#hb)"/>
<path d="M1256.2,184.4 L1256.9,184.4 L1257.6,184.4 L1258.3,184.4 L1259.0,184.4 L1259.7,184.4 L1260.4,184.4 L1261.1,184.4 L1261.8,184.4 L1262.5,184.4 L1263.2,184.4 L1263.9,184.4 L1264.6,184.4 L1265.3,184.4 L1266.0,184.4 L1266.7,184.4 L1267.4,184.4 L1268.1,184.4 L1268.8,184.4 L1269.5,184.4 L1270.2,184.4 L1270.9,184.4 L1271.6,184.4 L1272.3,184.4 L1273.0,184.4 L1273.7,184.4 L1274.4,184.4 L1275.1,184.4 L1275.8,184.4 L1276.5,184.4 L1277.2,184.4 L1277.9,184.4 L1278.6,184.4 L1279.3,184.4 L1280.0,184.4 L1280.7,184.4 L1281.4,184.4 L1282.1,184.4 L1282.8,184.3 L1283.5,184.3 L1284.2,184.3 L1284.9,184.2 L1285.6,184.1 L1286.3,184.1 L1287.0,184.0 L1287.7,183.8 L1288.4,183.6 L1289.1,183.4 L1289.8,183.2 L1290.5,182.9 L1291.2,182.6 L1291.9,182.3 L1292.6,181.9 L1293.3,181.5 L1294.0,181.0 L1294.7,180.6 L1295.4,180.1 L1296.1,179.7 L1296.8,179.2 L1297.5,178.9 L1298.2,178.5 L1298.9,178.3 L1299.6,178.1 L1300.3,178.0 L1301.0,178.0 L1301.7,178.1 L1302.4,178.3 L1303.1,178.5 L1303.8,178.8 L1304.5,179.2 L1305.2,179.6 L1305.9,180.0 L1306.6,180.5 L1307.3,180.9 L1308.0,181.4 L1308.7,181.8 L1309.4,182.2 L1310.1,182.6 L1310.8,182.9 L1311.5,183.2 L1312.2,183.4 L1312.9,183.6 L1313.6,183.8 L1314.3,183.9 L1315.0,184.0 L1315.7,184.1 L1316.4,184.2 L1317.1,184.3 L1317.8,184.3 L1318.5,184.3 L1319.2,184.3 L1319.9,184.4 L1320.6,184.4 L1321.3,184.4 L1322.0,184.4 L1322.7,184.4 L1323.4,184.4 L1324.1,184.4 L1324.8,184.4 L1325.5,184.4 L1326.2,184.4 L1326.9,184.4 L1327.6,184.4 L1328.3,184.4 L1329.0,184.4 L1329.7,184.4 L1330.4,184.4 L1331.1,184.4 L1331.8,184.4 L1332.5,184.4 L1333.2,184.4 L1333.9,184.4 L1334.6,184.4 L1335.3,184.4 L1336.0,184.4 L1336.7,184.4 L1337.4,184.4 L1338.1,184.4 L1338.8,184.4 L1339.5,184.4 L1340.2,184.4 L1340.9,184.4 L1341.6,184.4 L1342.3,184.4 L1343.0,184.4 L1343.7,184.4 L1344.4,184.4 L1345.1,184.4" stroke="#1010ff" stroke-width="1.0" fill="none"/>
<path d="M1175.0,184.4 L1175.7,184.4 L1176.4,184.4 L1177.1,184.4 L1177.8,184.4 L1178.5,184.4 L1179.2,184.4 L1179.9,184.4 L1180.6,184.4 L1181.3,184.3 L1182.0,184.3 L1182.7,184.3 L1183.4,184.3 L1184.1,184.3 L1184.8,184.3 L1185.5,184.3 L1186.2,184.3 L1186.9,184.3 L1187.6,184.3 L1188.3,184.3 L1189.0,184.3 L1189.7,184.3 L1190.4,184.3 L1191.1,184.3 L1191.8,184.3 L1192.5,184.3 L1193.2,184.3 L1193.9,184.3 L1194.6,184.3 L1195.3,184.3 L1196.0,184.3 L1196.7,184.3 L1197.4,184.3 L1198.1,184.3 L1198.8,184.3 L1199.5,184.3 L1200.2,184.3 L1200.9,184.3 L1201.6,184.3 L1202.3,184.3 L1203.0,184.3 L1203.7,184.3 L1204.4,184.3 L1205.1,184.3 L1205.8,184.3 L1206.5,184.3 L1207.2,184.3 L1207.9,184.3 L1208.6,184.3 L1209.3,184.3 L1210.0,184.3 L1210.7,184.3 L1211.4,184.3 L1212.1,184.3 L1212.8,184.3 L1213.5,184.3 L1214.2,184.3 L1214.9,184.3 L1215.6,184.3 L1216.3,184.3 L1217.0,184.3 L1217.7,184.3 L1218.4,184.3 L1219.1,184.3 L1219.8,184.3 L1220.5,184.3 L1221.2,184.3 L1221.9,184.3 L1222.6,184.3 L1223.3,184.3 L1224.0,184.3 L1224.7,184.3 L1225.4,184.3 L1226.1,184.3 L1226.8,184.3 L1227.5,184.3 L1228.2,184.3 L1228.9,184.3 L1229.6,184.3 L1230.3,184.3 L1231.0,184.3 L1231.7,184.3 L1232.4,184.3 L1233.1,184.3 L1233.8,184.3 L1234.5,184.3 L1235.2,184.3 L1235.9,184.3 L1236.6,184.3 L1237.3,184.3 L1238.0,184.3 L1238.7,184.3 L1239.4,184.3 L1240.1,184.3 L1240.8,184.3 L1241.5,184.3 L1242.2,184.3 L1242.9,184.3 L1243.6,184.3 L1244.3,184.3 L1245.0,184.3 L1245.7,184.3 L1246.4,184.3 L1247.1,184.2 L1247.8,184.2 L1248.5,184.2 L1249.2,184.2 L1249.9,184.2 L1250.6,184.2 L1251.3,184.2 L1252.0,184.2 L1252.7,184.2 L1253.4,184.2 L1254.1,184.2 L1254.8,184.2 L1255.5,184.2 L1256.2,184.2 L1256.9,184.2 L1257.6,184.2 L1258.3,184.2 L1259.0,184.2 L1259.7,184.2 L1260.4,184.2 L1261.1,184.2 L1261.8,184.2 L1262.5,184.2 L1263.2,184.2 L1263.9,184.2 L1264.6,184.2 L1265.3,184.2 L1266.0,184.2 L1266.7,184.2 L1267.4,184.1 L1268.1,184.1 L1268.8,184.1 L1269.5,184.1 L1270.2,184.1 L1270.9,184.1 L1271.6,184.1 L1272.3,184.1 L1273.0,184.1 L1273.7,184.1 L1274.4,184.1 L1275.1,184.1 L1275.8,184.1 L1276.5,184.1 L1277.2,184.1 L1277.9,184.0 L1278.6,184.0 L1279.3,184.0 L1280.0,184.0 L1280.7,184.0 L1281.4,184.0 L1282.1,183.9 L1282.8,183.9 L1283.5,183.9 L1284.2,183.8 L1284.9,183.8 L1285.6,183.7 L1286.3,183.6 L1287.0,183.5 L1287.7,183.3 L1288.4,183.1 L1289.1,182.9 L1289.8,182.7 L1290.5,182.4 L1291.2,182.0 L1291.9,181.7 L1292.6,181.2 L1293.3,180.8 L1294.0,180.3 L1294.7,179.9 L1295.4,179.4 L1296.1,178.9 L1296.8,178.5 L1297.5,178.1 L1298.2,177.7 L1298.9,177.4 L1299.6,177.2 L1300.3,177.1 L1301.0,177.1 L1301.7,177.1 L1302.4,177.2 L1303.1,177.4 L1303.8,177.7 L1304.5,178.0 L1305.2,178.4 L1305.9,178.8 L1306.6,179.1 L1307.3,179.5 L1308.0,179.9 L1308.7,180.3 L1309.4,180.6 L1310.1,180.9 L1310.8,181.1 L1311.5,181.3 L1312.2,181.4 L1312.9,181.5 L1313.6,181.5 L1314.3,181.5 L1315.0,181.5 L1315.7,181.4 L1316.4,181.2 L1317.1,181.0 L1317.8,180.8 L1318.5,180.4 L1319.2,180.0 L1319.9,179.5 L1320.6,178.8 L1321.3,178.1 L1322.0,177.1 L1322.7,175.9 L1323.4,174.5 L1324.1,172.9 L1324.8,170.9 L1325.5,168.6 L1326.2,165.9 L1326.9,162.9 L1327.6,159.5 L1328.3,155.8 L1329.0,151.7 L1329.7,147.4 L1330.4,142.9 L1331.1,138.3 L1331.8,133.8 L1332.5,129.5 L1333.2,125.7 L1333.9,122.5 L1334.6,120.1 L1335.3,118.7 L1336.0,118.4 L1336.7,119.3 L1337.4,121.3 L1338.1,124.2 L1338.8,127.8 L1339.5,131.9 L1340.2,136.4 L1340.9,140.9 L1341.6,145.5 L1342.3,149.9 L1343.0,154.1 L1343.7,157.9 L1344.4,161.5 L1345.1,164.7 L1345.8,167.5 L1346.5,169.9 L1347.2,172.1 L1347.9,173.9 L1348.6,175.4 L1349.3,176.6 L1350.0,177.7 L1350.7,178.6 L1351.4,179.3 L1352.1,179.8 L1352.8,180.3 L1353.5,180.7 L1354.2,181.0 L1354.9,181.3 L1355.6,181.5 L1356.3,181.8 L1357.0,181.9 L1357.7,182.1 L1358.4,182.2 L1359.1,182.3 L1359.8,182.5 L1360.5,182.6 L1361.2,182.7 L1361.9,182.7 L1362.6,182.8 L1363.3,182.9 L1364.0,183.0 L1364.7,183.0 L1365.4,183.1 L1366.1,183.2 L1366.8,183.2 L1367.5,183.3 L1368.2,183.3 L1368.9,183.3 L1369.6,183.4 L1370.3,183.4 L1371.0,183.5 L1371.7,183.5 L1372.4,183.5 L1373.1,183.6 L1373.8,183.6 L1374.5,183.6 L1375.2,183.6 L1375.9,183.7 L1376.6,183.7 L1377.3,183.7 L1378.0,183.7 L1378.7,183.8 L1379.4,183.8 L1380.1,183.8 L1380.8,183.8 L1381.5,183.8 L1382.2,183.9 L1382.9,183.9 L1383.6,183.9 L1384.3,183.9 L1385.0,183.9 L1385.7,183.9 L1386.4,183.9 L1387.1,184.0 L1387.8,184.0 L1388.5,184.0 L1389.2,184.0" stroke="#ff20ff" stroke-width="1.3" fill="none"/>
<path d="M776.0,304.20 L1389.5,303.80" stroke="#7d7d7d" stroke-width="1.9" stroke-dasharray="9.5,9.6" fill="none"/>
<path d="M899.9,300.7 L900.6,300.6 L901.3,300.5 L902.0,300.5 L902.7,300.4 L903.4,300.3 L904.1,300.2 L904.8,300.1 L905.5,300.0 L906.2,299.8 L906.9,299.6 L907.6,299.4 L908.3,299.2 L909.0,298.8 L909.7,298.4 L910.4,297.8 L911.1,297.0 L911.8,296.1 L912.5,294.8 L913.2,293.1 L913.9,291.0 L914.6,288.4 L915.3,285.2 L916.0,281.3 L916.7,276.8 L917.4,271.7 L918.1,266.0 L918.8,259.8 L919.5,253.4 L920.2,246.9 L920.9,240.7 L921.6,235.2 L922.3,230.8 L923.0,227.8 L923.7,226.6 L924.4,227.3 L925.1,229.8 L925.8,233.8 L926.5,239.1 L927.2,245.1 L927.9,251.6 L928.6,258.1 L929.3,264.3 L930.0,270.2 L930.7,275.6 L931.4,280.3 L932.1,284.3 L932.8,287.7 L933.5,290.5 L934.2,292.8 L934.9,294.5 L935.6,295.9 L936.3,297.0 L937.0,297.8 L937.7,298.5 L938.4,298.9 L939.1,299.3 L939.8,299.6 L940.5,299.9 L941.2,300.1 L941.9,300.2 L942.6,300.4 L943.3,300.5 L944.0,300.6 L944.7,300.7 L945.4,300.8 L946.1,300.9 L946.8,301.0 L947.5,301.1 L947.50,304.09 L899.90,304.12 Z" fill="rgb(200,200,200)" fill-opacity="0.7" stroke="#8a8a8a" stroke-width="0.8"/>
<path d="M989.5,299.8 L990.2,299.5 L990.9,299.3 L991.6,299.0 L992.3,298.7 L993.0,298.3 L993.7,297.9 L994.4,297.3 L995.1,296.6 L995.8,295.6 L996.5,294.2 L997.2,292.2 L997.9,289.3 L998.6,285.2 L999.3,279.3 L1000.0,271.4 L1000.7,260.8 L1001.4,247.5 L1002.1,231.3 L1002.8,212.7 L1003.5,192.5 L1004.2,172.1 L1004.9,153.3 L1005.6,138.4 L1006.3,129.9 L1007.0,129.3 L1007.7,136.8 L1008.4,150.9 L1009.1,169.3 L1009.8,189.6 L1010.5,210.0 L1011.2,228.9 L1011.9,245.4 L1012.6,259.2 L1013.3,270.1 L1014.0,278.4 L1014.7,284.5 L1015.4,288.9 L1016.1,291.9 L1016.8,294.0 L1017.5,295.5 L1018.2,296.6 L1018.9,297.3 L1019.6,297.9 L1020.3,298.4 L1021.0,298.8 L1021.7,299.1 L1022.4,299.4 L1023.1,299.7 L1023.8,299.9 L1023.80,304.04 L989.50,304.06 Z" fill="rgb(200,200,200)" fill-opacity="0.7" stroke="#8a8a8a" stroke-width="0.8"/>
<path d="M776.0,306.3 L776.7,304.8 L777.4,304.4 L778.1,303.6 L778.8,303.5 L779.5,302.6 L780.2,301.9 L780.9,301.2 L781.6,300.7 L782.3,299.7 L783.0,299.7 L783.7,298.7 L784.4,298.6 L785.1,297.9 L785.8,297.7 L786.5,296.7 L787.2,296.4 L787.9,295.0 L788.6,294.8 L789.3,293.6 L790.0,292.6 L790.7,290.4 L791.4,287.4 L792.1,283.3 L792.8,282.1 L793.5,279.8 L794.2,279.3 L794.9,277.1 L795.6,277.2 L796.3,277.0 L797.0,278.4 L797.7,277.6 L798.4,278.4 L799.1,279.0 L799.8,280.0 L800.5,282.2 L801.2,283.7 L801.9,284.6 L802.6,286.1 L803.3,286.7 L804.0,287.5 L804.7,287.6 L805.4,287.6 L806.1,287.6 L806.8,286.2 L807.5,285.2 L808.2,283.9 L808.9,283.1 L809.6,283.4 L810.3,282.4 L811.0,282.8 L811.7,283.8 L812.4,284.6 L813.1,286.6 L813.8,286.2 L814.5,288.2 L815.2,289.2 L815.9,289.2 L816.6,289.9 L817.3,290.9 L818.0,291.7 L818.7,290.9 L819.4,290.6 L820.1,291.4 L820.8,291.4 L821.5,290.5 L822.2,289.6 L822.9,290.6 L823.6,289.7 L824.3,289.9 L825.0,289.1 L825.7,288.6 L826.4,288.2 L827.1,288.4 L827.8,287.9 L828.5,286.2 L829.2,286.1 L829.9,286.5 L830.6,285.1 L831.3,284.2 L832.0,284.2 L832.7,283.8 L833.4,283.7 L834.1,283.7 L834.8,283.8 L835.5,284.0 L836.2,284.5 L836.9,284.3 L837.6,284.8 L838.3,285.1 L839.0,286.0 L839.7,286.1 L840.4,286.5 L841.1,287.3 L841.8,287.9 L842.5,288.8 L843.2,289.2 L843.9,290.4 L844.6,291.1 L845.3,291.5 L846.0,292.3 L846.7,293.6 L847.4,294.2 L848.1,294.7 L848.8,294.9 L849.5,295.4 L850.2,296.8 L850.9,297.4 L851.6,297.8 L852.3,297.4 L853.0,298.5 L853.7,298.1 L854.4,298.7 L855.1,298.8 L855.8,298.6 L856.5,298.8 L857.2,298.5 L857.9,299.1 L858.6,298.9 L859.3,299.9 L860.0,300.0 L860.7,300.4 L861.4,300.4 L862.1,300.2 L862.8,300.7 L863.5,300.5 L864.2,300.9 L864.9,300.8 L865.6,300.4 L866.3,300.7 L867.0,300.8 L867.7,300.6 L868.4,301.1 L869.1,301.4 L869.8,300.7 L870.5,300.7 L871.2,300.0 L871.9,300.7 L872.6,300.6 L873.3,300.0 L874.0,300.9 L874.7,301.0 L875.4,300.5 L876.1,300.7 L876.8,300.5 L877.5,301.1 L878.2,300.3 L878.9,300.7 L879.6,301.5 L880.3,300.9 L881.0,301.0 L881.7,300.8 L882.4,300.5 L883.1,300.9 L883.8,301.0 L884.5,300.5 L885.2,301.0 L885.9,301.3 L886.6,301.3 L887.3,300.4 L888.0,300.6 L888.7,300.3 L889.4,301.3 L890.1,301.1 L890.8,301.2 L891.5,300.6 L892.2,300.5 L892.9,300.9 L893.6,300.9 L894.3,300.6 L895.0,300.9 L895.7,301.0 L896.4,300.9 L897.1,300.4 L897.8,300.0 L898.5,300.6 L899.2,300.7 L899.9,300.5 L900.6,300.4 L901.3,300.2 L902.0,300.6 L902.7,300.3 L903.4,300.3 L904.1,299.8 L904.8,299.8 L905.5,299.9 L906.2,299.4 L906.9,299.1 L907.6,299.2 L908.3,299.5 L909.0,298.8 L909.7,298.8 L910.4,297.6 L911.1,296.8 L911.8,295.5 L912.5,294.5 L913.2,293.5 L913.9,291.0 L914.6,288.6 L915.3,285.3 L916.0,281.2 L916.7,276.7 L917.4,271.6 L918.1,266.1 L918.8,259.8 L919.5,253.4 L920.2,246.8 L920.9,240.3 L921.6,235.0 L922.3,230.3 L923.0,228.0 L923.7,225.7 L924.4,227.0 L925.1,230.5 L925.8,233.6 L926.5,238.6 L927.2,245.0 L927.9,251.9 L928.6,257.9 L929.3,264.4 L930.0,270.1 L930.7,275.3 L931.4,281.2 L932.1,284.2 L932.8,287.4 L933.5,290.2 L934.2,292.7 L934.9,294.5 L935.6,296.0 L936.3,296.9 L937.0,297.1 L937.7,298.5 L938.4,298.7 L939.1,299.0 L939.8,298.9 L940.5,299.5 L941.2,299.6 L941.9,300.0 L942.6,299.7 L943.3,300.3 L944.0,300.5 L944.7,300.1 L945.4,300.4 L946.1,300.4 L946.8,301.1 L947.5,299.9 L948.2,300.8 L948.9,300.4 L949.6,300.8 L950.3,301.3 L951.0,300.9 L951.7,301.2 L952.4,300.9 L953.1,301.9 L953.8,301.5 L954.5,301.6 L955.2,300.8 L955.9,300.9 L956.6,301.6 L957.3,301.1 L958.0,301.0 L958.7,301.1 L959.4,300.4 L960.1,301.0 L960.8,300.5 L961.5,300.4 L962.2,299.8 L962.9,300.0 L963.6,299.3 L964.3,299.8 L965.0,299.8 L965.7,299.8 L966.4,299.8 L967.1,300.0 L967.8,299.1 L968.5,300.5 L969.2,300.4 L969.9,300.7 L970.6,300.8 L971.3,300.5 L972.0,300.9 L972.7,301.4 L973.4,301.7 L974.1,301.0 L974.8,300.9 L975.5,301.8 L976.2,300.9 L976.9,301.9 L977.6,301.2 L978.3,300.8 L979.0,301.4 L979.7,301.6 L980.4,300.5 L981.1,301.5 L981.8,300.8 L982.5,301.3 L983.2,300.6 L983.9,300.1 L984.6,300.7 L985.3,300.8 L986.0,301.1 L986.7,300.8 L987.4,300.3 L988.1,299.9 L988.8,299.6 L989.5,299.5 L990.2,299.1 L990.9,299.0 L991.6,298.0 L992.3,298.6 L993.0,298.2 L993.7,298.6 L994.4,297.4 L995.1,296.3 L995.8,295.6 L996.5,293.6 L997.2,291.8 L997.9,288.5 L998.6,285.5 L999.3,279.4 L1000.0,270.8 L1000.7,260.7 L1001.4,247.7 L1002.1,231.4 L1002.8,212.7 L1003.5,192.1 L1004.2,171.7 L1004.9,153.2 L1005.6,138.6 L1006.3,129.5 L1007.0,128.8 L1007.7,137.1 L1008.4,150.4 L1009.1,169.5 L1009.8,189.6 L1010.5,210.2 L1011.2,229.4 L1011.9,245.6 L1012.6,259.3 L1013.3,269.7 L1014.0,278.1 L1014.7,284.7 L1015.4,289.3 L1016.1,292.3 L1016.8,294.8 L1017.5,295.5 L1018.2,296.5 L1018.9,297.6 L1019.6,297.9 L1020.3,298.3 L1021.0,298.4 L1021.7,299.4 L1022.4,299.0 L1023.1,299.8 L1023.8,299.3 L1024.5,300.4 L1025.2,299.9 L1025.9,300.7 L1026.6,300.0 L1027.3,300.5 L1028.0,301.2 L1028.7,300.6 L1029.4,301.0 L1030.1,300.9 L1030.8,300.4 L1031.5,301.4 L1032.2,301.5 L1032.9,301.0 L1033.6,301.7 L1034.3,301.3 L1035.0,301.2 L1035.7,301.6 L1036.4,301.4 L1037.1,302.5 L1037.8,301.2 L1038.5,302.1 L1039.2,302.2 L1039.9,301.2 L1040.6,301.3 L1041.3,302.2 L1042.0,301.8 L1042.7,302.1 L1043.4,302.4 L1044.1,301.9 L1044.8,301.7 L1045.5,301.2 L1046.2,302.2 L1046.9,301.8 L1047.6,302.3 L1048.3,302.3 L1049.0,301.7 L1049.7,302.8 L1050.4,302.6 L1051.1,302.6 L1051.8,301.9 L1052.5,302.2 L1053.2,302.1 L1053.9,302.2 L1054.6,302.0 L1055.3,302.5 L1056.0,302.5 L1056.7,302.5 L1057.4,302.2 L1058.1,302.9 L1058.8,302.5 L1059.5,301.5 L1060.2,302.2 L1060.9,302.4 L1061.6,302.8 L1062.3,302.4 L1063.0,302.4 L1063.7,302.3 L1064.4,302.7 L1065.1,302.4 L1065.8,302.3 L1066.5,302.3 L1067.2,302.7 L1067.9,302.4 L1068.6,302.0 L1069.3,302.8 L1070.0,302.3 L1070.7,302.7 L1071.4,302.7 L1072.1,303.0 L1072.8,303.0 L1073.5,302.4 L1074.2,302.6 L1074.9,302.2 L1075.6,303.2 L1076.3,302.8 L1077.0,303.1 L1077.7,302.6 L1078.4,302.0 L1079.1,303.2 L1079.8,302.7 L1080.5,302.7 L1081.2,302.7 L1081.9,302.9 L1082.6,302.9 L1083.3,302.2 L1084.0,303.1 L1084.7,302.5 L1085.4,302.6 L1086.1,303.3 L1086.8,303.1 L1087.5,302.6 L1088.2,302.1 L1088.9,302.8 L1089.6,303.0 L1090.3,302.8 L1091.0,302.3 L1091.7,302.5 L1092.4,302.4 L1093.1,302.9 L1093.8,303.1 L1094.5,303.2 L1095.2,302.6 L1095.9,302.9 L1096.6,303.0 L1097.3,302.7 L1098.0,302.8 L1098.7,303.6 L1099.4,302.9 L1100.1,303.2 L1100.8,302.7 L1101.5,302.9 L1102.2,302.3 L1102.9,302.9 L1103.6,303.3 L1104.3,303.6 L1105.0,303.3 L1105.7,303.1 L1106.4,302.9 L1107.1,302.7 L1107.8,302.9 L1108.5,303.1 L1109.2,302.7 L1109.9,303.3 L1110.6,302.6 L1111.3,302.3 L1112.0,302.6 L1112.7,302.4 L1113.4,302.5 L1114.1,303.4 L1114.8,302.9 L1115.5,303.1 L1116.2,303.4 L1116.9,303.4 L1117.6,302.8 L1118.3,303.5 L1119.0,303.2 L1119.7,303.0 L1120.4,303.2 L1121.1,302.5 L1121.8,302.8 L1122.5,303.0 L1123.2,303.3 L1123.9,302.9 L1124.6,303.0 L1125.3,303.4 L1126.0,303.6 L1126.7,303.4 L1127.4,303.5 L1128.1,303.0 L1128.8,303.0 L1129.5,303.2 L1130.2,303.0 L1130.9,303.0 L1131.6,303.7 L1132.3,303.1 L1133.0,302.8 L1133.7,303.3 L1134.4,303.8 L1135.1,303.2 L1135.8,303.6 L1136.5,303.0 L1137.2,303.0 L1137.9,303.0 L1138.6,303.2 L1139.3,303.9 L1140.0,302.8 L1140.7,303.8 L1141.4,302.9 L1142.1,303.2 L1142.8,303.5 L1143.5,303.5 L1144.2,303.3 L1144.9,302.7 L1145.6,303.4 L1146.3,302.9 L1147.0,304.2 L1147.7,303.2 L1148.4,303.3 L1149.1,302.9 L1149.8,303.1 L1150.5,302.8 L1151.2,303.6 L1151.9,303.2 L1152.6,303.5 L1153.3,303.1 L1154.0,303.1 L1154.7,303.8 L1155.4,303.0 L1156.1,302.7 L1156.8,303.5 L1157.5,302.9 L1158.2,303.2 L1158.9,303.7 L1159.6,303.1 L1160.3,303.7 L1161.0,303.1 L1161.7,303.9 L1162.4,303.8 L1163.1,303.2 L1163.8,303.3 L1164.5,303.1 L1165.2,303.4 L1165.9,303.8 L1166.6,302.9 L1167.3,303.7 L1168.0,302.9 L1168.7,303.1 L1169.4,302.8 L1170.1,304.1 L1170.8,303.4 L1171.5,303.5 L1172.2,303.2 L1172.9,303.8 L1173.6,302.7 L1174.3,303.4 L1175.0,304.2 L1175.7,303.3 L1176.4,303.4 L1177.1,303.6 L1177.8,303.1 L1178.5,303.4 L1179.2,303.7 L1179.9,303.5 L1180.6,303.5 L1181.3,303.3 L1182.0,303.5 L1182.7,303.4 L1183.4,303.9 L1184.1,303.7 L1184.8,303.3 L1185.5,302.5 L1186.2,303.7 L1186.9,303.7 L1187.6,303.1 L1188.3,302.7 L1189.0,303.0 L1189.7,303.7 L1190.4,303.0 L1191.1,303.2 L1191.8,303.5 L1192.5,303.8 L1193.2,303.4 L1193.9,303.4 L1194.6,303.2 L1195.3,304.0 L1196.0,303.8 L1196.7,303.4 L1197.4,302.9 L1198.1,303.1 L1198.8,303.6 L1199.5,303.2 L1200.2,303.7 L1200.9,303.5 L1201.6,303.5 L1202.3,303.6 L1203.0,303.6 L1203.7,303.1 L1204.4,303.3 L1205.1,304.2 L1205.8,303.0 L1206.5,303.2 L1207.2,303.8 L1207.9,303.3 L1208.6,303.1 L1209.3,302.9 L1210.0,303.6 L1210.7,303.8 L1211.4,303.9 L1212.1,303.4 L1212.8,303.8 L1213.5,303.0 L1214.2,303.5 L1214.9,303.2 L1215.6,303.5 L1216.3,303.7 L1217.0,303.8 L1217.7,303.0 L1218.4,303.8 L1219.1,303.2 L1219.8,303.0 L1220.5,303.3 L1221.2,302.9 L1221.9,303.4 L1222.6,303.5 L1223.3,303.3 L1224.0,303.6 L1224.7,303.3 L1225.4,303.4 L1226.1,302.9 L1226.8,303.4 L1227.5,303.1 L1228.2,303.2 L1228.9,303.3 L1229.6,303.4 L1230.3,302.8 L1231.0,302.8 L1231.7,303.3 L1232.4,303.5 L1233.1,303.5 L1233.8,303.7 L1234.5,303.8 L1235.2,303.5 L1235.9,303.4 L1236.6,303.0 L1237.3,303.0 L1238.0,303.2 L1238.7,303.4 L1239.4,303.4 L1240.1,303.3 L1240.8,303.3 L1241.5,303.6 L1242.2,303.4 L1242.9,303.4 L1243.6,303.4 L1244.3,303.1 L1245.0,303.0 L1245.7,303.5 L1246.4,303.5 L1247.1,303.2 L1247.8,303.2 L1248.5,304.1 L1249.2,303.0 L1249.9,303.2 L1250.6,303.4 L1251.3,302.9 L1252.0,303.3 L1252.7,303.9 L1253.4,303.6 L1254.1,303.5 L1254.8,303.5 L1255.5,303.3 L1256.2,303.6 L1256.9,303.2 L1257.6,303.1 L1258.3,303.3 L1259.0,303.6 L1259.7,303.3 L1260.4,303.4 L1261.1,302.5 L1261.8,303.6 L1262.5,304.0 L1263.2,303.6 L1263.9,302.9 L1264.6,302.6 L1265.3,302.9 L1266.0,302.3 L1266.7,302.7 L1267.4,302.0 L1268.1,302.3 L1268.8,302.1 L1269.5,300.6 L1270.2,301.0 L1270.9,300.3 L1271.6,299.7 L1272.3,299.6 L1273.0,299.5 L1273.7,299.6 L1274.4,298.5 L1275.1,299.2 L1275.8,299.3 L1276.5,298.7 L1277.2,298.5 L1277.9,298.2 L1278.6,297.7 L1279.3,298.1 L1280.0,298.0 L1280.7,298.0 L1281.4,298.6 L1282.1,298.0 L1282.8,298.1 L1283.5,298.7 L1284.2,297.9 L1284.9,298.4 L1285.6,299.0 L1286.3,299.4 L1287.0,300.3 L1287.7,300.4 L1288.4,301.5 L1289.1,301.7 L1289.8,301.7 L1290.5,301.6 L1291.2,302.1 L1291.9,302.3 L1292.6,301.7 L1293.3,302.2 L1294.0,302.3 L1294.7,302.2 L1295.4,302.6 L1296.1,302.4 L1296.8,301.6 L1297.5,301.9 L1298.2,301.5 L1298.9,301.9 L1299.6,301.3 L1300.3,301.8 L1301.0,301.5 L1301.7,301.6 L1302.4,301.0 L1303.1,300.4 L1303.8,301.4 L1304.5,300.5 L1305.2,300.9 L1305.9,300.3 L1306.6,300.1 L1307.3,300.2 L1308.0,299.3 L1308.7,299.2 L1309.4,297.7 L1310.1,297.8 L1310.8,296.7 L1311.5,295.8 L1312.2,294.7 L1312.9,293.4 L1313.6,292.2 L1314.3,288.9 L1315.0,287.2 L1315.7,284.2 L1316.4,281.7 L1317.1,277.5 L1317.8,273.8 L1318.5,269.2 L1319.2,264.8 L1319.9,260.0 L1320.6,254.5 L1321.3,249.7 L1322.0,244.6 L1322.7,241.3 L1323.4,238.4 L1324.1,236.0 L1324.8,236.1 L1325.5,235.9 L1326.2,238.2 L1326.9,241.7 L1327.6,246.2 L1328.3,251.1 L1329.0,256.1 L1329.7,261.1 L1330.4,266.2 L1331.1,270.4 L1331.8,274.4 L1332.5,278.3 L1333.2,283.0 L1333.9,284.5 L1334.6,287.9 L1335.3,290.7 L1336.0,292.3 L1336.7,293.4 L1337.4,295.0 L1338.1,296.4 L1338.8,297.4 L1339.5,297.4 L1340.2,298.6 L1340.9,299.0 L1341.6,299.7 L1342.3,300.1 L1343.0,299.8 L1343.7,299.7 L1344.4,300.6 L1345.1,301.3 L1345.8,301.1 L1346.5,301.1 L1347.2,302.0 L1347.9,300.9 L1348.6,301.7 L1349.3,301.3 L1350.0,301.7 L1350.7,301.8 L1351.4,302.4 L1352.1,301.6 L1352.8,301.8 L1353.5,301.5 L1354.2,302.3 L1354.9,302.0 L1355.6,302.4 L1356.3,301.9 L1357.0,302.2 L1357.7,302.8 L1358.4,302.4 L1359.1,302.7 L1359.8,302.7 L1360.5,302.5 L1361.2,302.1 L1361.9,303.0 L1362.6,302.7 L1363.3,303.1 L1364.0,302.0 L1364.7,302.2 L1365.4,302.1 L1366.1,302.5 L1366.8,303.2 L1367.5,303.1 L1368.2,302.9 L1368.9,303.0 L1369.6,303.2 L1370.3,302.9 L1371.0,303.1 L1371.7,303.0 L1372.4,302.3 L1373.1,302.9 L1373.8,303.5 L1374.5,302.9 L1375.2,303.0 L1375.9,302.9 L1376.6,302.9 L1377.3,303.5 L1378.0,303.0 L1378.7,302.8 L1379.4,302.1 L1380.1,303.0 L1380.8,302.5 L1381.5,302.5 L1382.2,303.5 L1382.9,303.5 L1383.6,302.5 L1384.3,303.5 L1385.0,303.4 L1385.7,303.0 L1386.4,303.5 L1387.1,302.7 L1387.8,302.8 L1388.5,302.8 L1389.2,302.9" stroke="#000" stroke-width="1.5" fill="none" stroke-linejoin="round"/>
<path d="M1175.0,303.5 L1175.7,303.5 L1176.4,303.5 L1177.1,303.5 L1177.8,303.5 L1178.5,303.5 L1179.2,303.5 L1179.9,303.5 L1180.6,303.5 L1181.3,303.5 L1182.0,303.5 L1182.7,303.5 L1183.4,303.5 L1184.1,303.5 L1184.8,303.5 L1185.5,303.5 L1186.2,303.5 L1186.9,303.5 L1187.6,303.5 L1188.3,303.5 L1189.0,303.5 L1189.7,303.5 L1190.4,303.5 L1191.1,303.5 L1191.8,303.5 L1192.5,303.5 L1193.2,303.5 L1193.9,303.5 L1194.6,303.5 L1195.3,303.5 L1196.0,303.5 L1196.7,303.5 L1197.4,303.5 L1198.1,303.5 L1198.8,303.5 L1199.5,303.5 L1200.2,303.5 L1200.9,303.5 L1201.6,303.5 L1202.3,303.5 L1203.0,303.5 L1203.7,303.5 L1204.4,303.5 L1205.1,303.5 L1205.8,303.5 L1206.5,303.5 L1207.2,303.5 L1207.9,303.5 L1208.6,303.5 L1209.3,303.5 L1210.0,303.5 L1210.7,303.5 L1211.4,303.5 L1212.1,303.5 L1212.8,303.5 L1213.5,303.5 L1214.2,303.5 L1214.9,303.5 L1215.6,303.5 L1216.3,303.5 L1217.0,303.5 L1217.7,303.5 L1218.4,303.5 L1219.1,303.5 L1219.8,303.5 L1220.5,303.5 L1221.2,303.5 L1221.9,303.5 L1222.6,303.5 L1223.3,303.5 L1224.0,303.5 L1224.7,303.5 L1225.4,303.5 L1226.1,303.5 L1226.8,303.5 L1227.5,303.5 L1228.2,303.5 L1228.9,303.5 L1229.6,303.5 L1230.3,303.5 L1231.0,303.4 L1231.7,303.4 L1232.4,303.4 L1233.1,303.4 L1233.8,303.4 L1234.5,303.4 L1235.2,303.4 L1235.9,303.4 L1236.6,303.4 L1237.3,303.4 L1238.0,303.4 L1238.7,303.4 L1239.4,303.4 L1240.1,303.4 L1240.8,303.4 L1241.5,303.4 L1242.2,303.4 L1242.9,303.4 L1243.6,303.4 L1244.3,303.4 L1245.0,303.4 L1245.7,303.4 L1246.4,303.4 L1247.1,303.4 L1247.8,303.4 L1248.5,303.4 L1249.2,303.4 L1249.9,303.4 L1250.6,303.4 L1251.3,303.4 L1252.0,303.4 L1252.7,303.3 L1253.4,303.3 L1254.1,303.3 L1254.8,303.3 L1255.5,303.3 L1256.2,303.3 L1256.9,303.3 L1257.6,303.3 L1258.3,303.3 L1259.0,303.3 L1259.7,303.3 L1260.4,303.3 L1261.1,303.3 L1261.8,303.3 L1262.5,303.3 L1263.2,303.3 L1263.9,303.2 L1264.6,303.2 L1265.3,303.2 L1266.0,303.2 L1266.7,303.2 L1267.4,303.2 L1268.1,303.2 L1268.8,303.2 L1269.5,303.2 L1270.2,303.2 L1270.9,303.1 L1271.6,303.1 L1272.3,303.1 L1273.0,303.1 L1273.7,303.1 L1274.4,303.1 L1275.1,303.1 L1275.8,303.1 L1276.5,303.0 L1277.2,303.0 L1277.9,303.0 L1278.6,303.0 L1279.3,303.0 L1280.0,302.9 L1280.7,302.9 L1281.4,302.9 L1282.1,302.9 L1282.8,302.9 L1283.5,302.8 L1284.2,302.8 L1284.9,302.8 L1285.6,302.8 L1286.3,302.7 L1287.0,302.7 L1287.7,302.7 L1288.4,302.6 L1289.1,302.6 L1289.8,302.5 L1290.5,302.5 L1291.2,302.5 L1291.9,302.4 L1292.6,302.4 L1293.3,302.3 L1294.0,302.2 L1294.7,302.2 L1295.4,302.1 L1296.1,302.1 L1296.8,302.0 L1297.5,301.9 L1298.2,301.8 L1298.9,301.7 L1299.6,301.6 L1300.3,301.5 L1301.0,301.4 L1301.7,301.3 L1302.4,301.1 L1303.1,301.0 L1303.8,300.8 L1304.5,300.6 L1305.2,300.4 L1305.9,300.2 L1306.6,299.9 L1307.3,299.6 L1308.0,299.2 L1308.7,298.7 L1309.4,298.2 L1310.1,297.6 L1310.8,296.8 L1311.5,295.8 L1312.2,294.7 L1312.9,293.3 L1313.6,291.6 L1314.3,289.6 L1315.0,287.2 L1315.7,284.5 L1316.4,281.3 L1317.1,277.7 L1317.8,273.7 L1318.5,269.3 L1319.2,264.6 L1319.9,259.7 L1320.6,254.7 L1321.3,249.7 L1322.0,245.2 L1322.7,241.2 L1323.4,238.1 L1324.1,236.2 L1324.8,235.7 L1325.5,236.6 L1326.2,238.9 L1326.9,242.2 L1327.6,246.4 L1328.3,251.1 L1329.0,256.1 L1329.7,261.1 L1330.4,266.0 L1331.1,270.6 L1331.8,274.9 L1332.5,278.8 L1333.2,282.3 L1333.9,285.3 L1334.6,288.0 L1335.3,290.2 L1336.0,292.1 L1336.7,293.7 L1337.4,295.0 L1338.1,296.1 L1338.8,297.0 L1339.5,297.8 L1340.2,298.4 L1340.9,298.9 L1341.6,299.3 L1342.3,299.7 L1343.0,300.0 L1343.7,300.2 L1344.4,300.5 L1345.1,300.7 L1345.8,300.8 L1346.5,301.0 L1347.2,301.2 L1347.9,301.3 L1348.6,301.4 L1349.3,301.5 L1350.0,301.6 L1350.7,301.7 L1351.4,301.8 L1352.1,301.9 L1352.8,302.0 L1353.5,302.1 L1354.2,302.1 L1354.9,302.2 L1355.6,302.3 L1356.3,302.3 L1357.0,302.4 L1357.7,302.4 L1358.4,302.5 L1359.1,302.5 L1359.8,302.6 L1360.5,302.6 L1361.2,302.6 L1361.9,302.7 L1362.6,302.7 L1363.3,302.7 L1364.0,302.8 L1364.7,302.8 L1365.4,302.8 L1366.1,302.8 L1366.8,302.9 L1367.5,302.9 L1368.2,302.9 L1368.9,302.9 L1369.6,303.0 L1370.3,303.0 L1371.0,303.0 L1371.7,303.0 L1372.4,303.0 L1373.1,303.0 L1373.8,303.1 L1374.5,303.1 L1375.2,303.1 L1375.9,303.1 L1376.6,303.1 L1377.3,303.1 L1378.0,303.1 L1378.7,303.2 L1379.4,303.2 L1380.1,303.2 L1380.8,303.2 L1381.5,303.2 L1382.2,303.2 L1382.9,303.2 L1383.6,303.2 L1384.3,303.2 L1385.0,303.2 L1385.7,303.2 L1386.4,303.3 L1387.1,303.3 L1387.8,303.3 L1388.5,303.3 L1389.2,303.3 L1389.20,303.60 L1175.00,303.60 Z" fill="rgb(108,100,255)" stroke="#2020a0" stroke-width="0.6"/>
<path d="M1175.0,303.5 L1175.7,303.5 L1176.4,303.5 L1177.1,303.5 L1177.8,303.5 L1178.5,303.5 L1179.2,303.5 L1179.9,303.5 L1180.6,303.5 L1181.3,303.5 L1182.0,303.5 L1182.7,303.5 L1183.4,303.5 L1184.1,303.5 L1184.8,303.5 L1185.5,303.5 L1186.2,303.5 L1186.9,303.5 L1187.6,303.5 L1188.3,303.5 L1189.0,303.5 L1189.7,303.5 L1190.4,303.5 L1191.1,303.5 L1191.8,303.5 L1192.5,303.5 L1193.2,303.5 L1193.9,303.5 L1194.6,303.5 L1195.3,303.5 L1196.0,303.5 L1196.7,303.5 L1197.4,303.5 L1198.1,303.5 L1198.8,303.5 L1199.5,303.5 L1200.2,303.5 L1200.9,303.5 L1201.6,303.5 L1202.3,303.5 L1203.0,303.5 L1203.7,303.5 L1204.4,303.5 L1205.1,303.5 L1205.8,303.5 L1206.5,303.5 L1207.2,303.5 L1207.9,303.5 L1208.6,303.5 L1209.3,303.5 L1210.0,303.5 L1210.7,303.5 L1211.4,303.5 L1212.1,303.5 L1212.8,303.5 L1213.5,303.5 L1214.2,303.5 L1214.9,303.5 L1215.6,303.5 L1216.3,303.5 L1217.0,303.5 L1217.7,303.5 L1218.4,303.5 L1219.1,303.5 L1219.8,303.5 L1220.5,303.5 L1221.2,303.5 L1221.9,303.5 L1222.6,303.5 L1223.3,303.5 L1224.0,303.5 L1224.7,303.5 L1225.4,303.5 L1226.1,303.5 L1226.8,303.5 L1227.5,303.5 L1228.2,303.5 L1228.9,303.5 L1229.6,303.5 L1230.3,303.5 L1231.0,303.4 L1231.7,303.4 L1232.4,303.4 L1233.1,303.4 L1233.8,303.4 L1234.5,303.4 L1235.2,303.4 L1235.9,303.4 L1236.6,303.4 L1237.3,303.4 L1238.0,303.4 L1238.7,303.4 L1239.4,303.4 L1240.1,303.4 L1240.8,303.4 L1241.5,303.4 L1242.2,303.4 L1242.9,303.4 L1243.6,303.4 L1244.3,303.4 L1245.0,303.4 L1245.7,303.4 L1246.4,303.4 L1247.1,303.4 L1247.8,303.4 L1248.5,303.4 L1249.2,303.4 L1249.9,303.4 L1250.6,303.4 L1251.3,303.4 L1252.0,303.4 L1252.7,303.3 L1253.4,303.3 L1254.1,303.3 L1254.8,303.3 L1255.5,303.3 L1256.2,303.3 L1256.9,303.3 L1257.6,303.3 L1258.3,303.3 L1259.0,303.3 L1259.7,303.3 L1260.4,303.3 L1261.1,303.3 L1261.8,303.3 L1262.5,303.3 L1263.2,303.3 L1263.9,303.2 L1264.6,303.2 L1265.3,303.2 L1266.0,303.2 L1266.7,303.2 L1267.4,303.2 L1268.1,303.2 L1268.8,303.2 L1269.5,303.2 L1270.2,303.2 L1270.9,303.1 L1271.6,303.1 L1272.3,303.1 L1273.0,303.1 L1273.7,303.1 L1274.4,303.1 L1275.1,303.1 L1275.8,303.1 L1276.5,303.0 L1277.2,303.0 L1277.9,303.0 L1278.6,303.0 L1279.3,303.0 L1280.0,302.9 L1280.7,302.9 L1281.4,302.9 L1282.1,302.9 L1282.8,302.9 L1283.5,302.8 L1284.2,302.8 L1284.9,302.8 L1285.6,302.8 L1286.3,302.7 L1287.0,302.7 L1287.7,302.7 L1288.4,302.6 L1289.1,302.6 L1289.8,302.5 L1290.5,302.5 L1291.2,302.5 L1291.9,302.4 L1292.6,302.4 L1293.3,302.3 L1294.0,302.2 L1294.7,302.2 L1295.4,302.1 L1296.1,302.1 L1296.8,302.0 L1297.5,301.9 L1298.2,301.8 L1298.9,301.7 L1299.6,301.6 L1300.3,301.5 L1301.0,301.4 L1301.7,301.3 L1302.4,301.1 L1303.1,301.0 L1303.8,300.8 L1304.5,300.6 L1305.2,300.4 L1305.9,300.2 L1306.6,299.9 L1307.3,299.6 L1308.0,299.2 L1308.7,298.7 L1309.4,298.2 L1310.1,297.6 L1310.8,296.8 L1311.5,295.8 L1312.2,294.7 L1312.9,293.3 L1313.6,291.6 L1314.3,289.6 L1315.0,287.2 L1315.7,284.5 L1316.4,281.3 L1317.1,277.7 L1317.8,273.7 L1318.5,269.3 L1319.2,264.6 L1319.9,259.7 L1320.6,254.7 L1321.3,249.7 L1322.0,245.2 L1322.7,241.2 L1323.4,238.1 L1324.1,236.2 L1324.8,235.7 L1325.5,236.6 L1326.2,238.9 L1326.9,242.2 L1327.6,246.4 L1328.3,251.1 L1329.0,256.1 L1329.7,261.1 L1330.4,266.0 L1331.1,270.6 L1331.8,274.9 L1332.5,278.8 L1333.2,282.3 L1333.9,285.3 L1334.6,288.0 L1335.3,290.2 L1336.0,292.1 L1336.7,293.7 L1337.4,295.0 L1338.1,296.1 L1338.8,297.0 L1339.5,297.8 L1340.2,298.4 L1340.9,298.9 L1341.6,299.3 L1342.3,299.7 L1343.0,300.0 L1343.7,300.2 L1344.4,300.5 L1345.1,300.7 L1345.8,300.8 L1346.5,301.0 L1347.2,301.2 L1347.9,301.3 L1348.6,301.4 L1349.3,301.5 L1350.0,301.6 L1350.7,301.7 L1351.4,301.8 L1352.1,301.9 L1352.8,302.0 L1353.5,302.1 L1354.2,302.1 L1354.9,302.2 L1355.6,302.3 L1356.3,302.3 L1357.0,302.4 L1357.7,302.4 L1358.4,302.5 L1359.1,302.5 L1359.8,302.6 L1360.5,302.6 L1361.2,302.6 L1361.9,302.7 L1362.6,302.7 L1363.3,302.7 L1364.0,302.8 L1364.7,302.8 L1365.4,302.8 L1366.1,302.8 L1366.8,302.9 L1367.5,302.9 L1368.2,302.9 L1368.9,302.9 L1369.6,303.0 L1370.3,303.0 L1371.0,303.0 L1371.7,303.0 L1372.4,303.0 L1373.1,303.0 L1373.8,303.1 L1374.5,303.1 L1375.2,303.1 L1375.9,303.1 L1376.6,303.1 L1377.3,303.1 L1378.0,303.1 L1378.7,303.2 L1379.4,303.2 L1380.1,303.2 L1380.8,303.2 L1381.5,303.2 L1382.2,303.2 L1382.9,303.2 L1383.6,303.2 L1384.3,303.2 L1385.0,303.2 L1385.7,303.2 L1386.4,303.3 L1387.1,303.3 L1387.8,303.3 L1388.5,303.3 L1389.2,303.3 L1389.20,303.60 L1175.00,303.60 Z" fill="url(#hb)"/>
<path d="M1242.2,303.6 L1242.9,303.6 L1243.6,303.6 L1244.3,303.6 L1245.0,303.6 L1245.7,303.6 L1246.4,303.6 L1247.1,303.6 L1247.8,303.6 L1248.5,303.6 L1249.2,303.6 L1249.9,303.6 L1250.6,303.6 L1251.3,303.6 L1252.0,303.6 L1252.7,303.6 L1253.4,303.6 L1254.1,303.6 L1254.8,303.6 L1255.5,303.6 L1256.2,303.6 L1256.9,303.6 L1257.6,303.6 L1258.3,303.6 L1259.0,303.6 L1259.7,303.6 L1260.4,303.6 L1261.1,303.6 L1261.8,303.6 L1262.5,303.5 L1263.2,303.5 L1263.9,303.4 L1264.6,303.3 L1265.3,303.2 L1266.0,303.1 L1266.7,302.9 L1267.4,302.7 L1268.1,302.4 L1268.8,302.1 L1269.5,301.8 L1270.2,301.5 L1270.9,301.2 L1271.6,300.9 L1272.3,300.6 L1273.0,300.4 L1273.7,300.3 L1274.4,300.3 L1275.1,300.4 L1275.8,300.5 L1276.5,300.8 L1277.2,301.0 L1277.9,301.3 L1278.6,301.7 L1279.3,302.0 L1280.0,302.3 L1280.7,302.6 L1281.4,302.8 L1282.1,303.0 L1282.8,303.2 L1283.5,303.3 L1284.2,303.4 L1284.9,303.5 L1285.6,303.5 L1286.3,303.5 L1287.0,303.6 L1287.7,303.6 L1288.4,303.6 L1289.1,303.6 L1289.8,303.6 L1290.5,303.6 L1291.2,303.6 L1291.9,303.6 L1292.6,303.6 L1293.3,303.6 L1294.0,303.6 L1294.7,303.6 L1295.4,303.6 L1296.1,303.6 L1296.8,303.6 L1297.5,303.6 L1298.2,303.6 L1298.9,303.6 L1299.6,303.6 L1300.3,303.6 L1301.0,303.6 L1301.7,303.6 L1302.4,303.6 L1303.1,303.6 L1303.8,303.6 L1304.5,303.6 L1305.2,303.6 L1305.9,303.6" stroke="#1010ff" stroke-width="1.0" fill="none"/>
<path d="M1250.6,303.6 L1251.3,303.6 L1252.0,303.6 L1252.7,303.6 L1253.4,303.6 L1254.1,303.6 L1254.8,303.6 L1255.5,303.6 L1256.2,303.6 L1256.9,303.6 L1257.6,303.6 L1258.3,303.6 L1259.0,303.6 L1259.7,303.6 L1260.4,303.6 L1261.1,303.6 L1261.8,303.6 L1262.5,303.6 L1263.2,303.6 L1263.9,303.6 L1264.6,303.6 L1265.3,303.6 L1266.0,303.6 L1266.7,303.6 L1267.4,303.6 L1268.1,303.6 L1268.8,303.6 L1269.5,303.6 L1270.2,303.5 L1270.9,303.5 L1271.6,303.4 L1272.3,303.3 L1273.0,303.2 L1273.7,303.1 L1274.4,302.9 L1275.1,302.6 L1275.8,302.3 L1276.5,301.9 L1277.2,301.5 L1277.9,301.1 L1278.6,300.6 L1279.3,300.2 L1280.0,299.8 L1280.7,299.5 L1281.4,299.2 L1282.1,299.1 L1282.8,299.1 L1283.5,299.2 L1284.2,299.4 L1284.9,299.8 L1285.6,300.2 L1286.3,300.6 L1287.0,301.0 L1287.7,301.5 L1288.4,301.9 L1289.1,302.3 L1289.8,302.6 L1290.5,302.8 L1291.2,303.0 L1291.9,303.2 L1292.6,303.3 L1293.3,303.4 L1294.0,303.5 L1294.7,303.5 L1295.4,303.6 L1296.1,303.6 L1296.8,303.6 L1297.5,303.6 L1298.2,303.6 L1298.9,303.6 L1299.6,303.6 L1300.3,303.6 L1301.0,303.6 L1301.7,303.6 L1302.4,303.6 L1303.1,303.6 L1303.8,303.6 L1304.5,303.6 L1305.2,303.6 L1305.9,303.6 L1306.6,303.6 L1307.3,303.6 L1308.0,303.6 L1308.7,303.6 L1309.4,303.6 L1310.1,303.6 L1310.8,303.6 L1311.5,303.6 L1312.2,303.6 L1312.9,303.6 L1313.6,303.6 L1314.3,303.6" stroke="#1010ff" stroke-width="1.0" fill="none"/>
<path d="M1175.0,303.5 L1175.7,303.5 L1176.4,303.5 L1177.1,303.5 L1177.8,303.5 L1178.5,303.5 L1179.2,303.5 L1179.9,303.5 L1180.6,303.5 L1181.3,303.5 L1182.0,303.5 L1182.7,303.5 L1183.4,303.5 L1184.1,303.5 L1184.8,303.5 L1185.5,303.5 L1186.2,303.5 L1186.9,303.5 L1187.6,303.5 L1188.3,303.5 L1189.0,303.5 L1189.7,303.5 L1190.4,303.5 L1191.1,303.5 L1191.8,303.5 L1192.5,303.5 L1193.2,303.5 L1193.9,303.5 L1194.6,303.5 L1195.3,303.5 L1196.0,303.5 L1196.7,303.5 L1197.4,303.5 L1198.1,303.5 L1198.8,303.5 L1199.5,303.5 L1200.2,303.5 L1200.9,303.5 L1201.6,303.5 L1202.3,303.5 L1203.0,303.5 L1203.7,303.5 L1204.4,303.5 L1205.1,303.5 L1205.8,303.5 L1206.5,303.5 L1207.2,303.5 L1207.9,303.5 L1208.6,303.5 L1209.3,303.5 L1210.0,303.5 L1210.7,303.5 L1211.4,303.5 L1212.1,303.5 L1212.8,303.5 L1213.5,303.5 L1214.2,303.5 L1214.9,303.5 L1215.6,303.5 L1216.3,303.5 L1217.0,303.5 L1217.7,303.5 L1218.4,303.5 L1219.1,303.5 L1219.8,303.5 L1220.5,303.5 L1221.2,303.5 L1221.9,303.5 L1222.6,303.5 L1223.3,303.5 L1224.0,303.5 L1224.7,303.5 L1225.4,303.5 L1226.1,303.5 L1226.8,303.5 L1227.5,303.5 L1228.2,303.5 L1228.9,303.5 L1229.6,303.5 L1230.3,303.5 L1231.0,303.4 L1231.7,303.4 L1232.4,303.4 L1233.1,303.4 L1233.8,303.4 L1234.5,303.4 L1235.2,303.4 L1235.9,303.4 L1236.6,303.4 L1237.3,303.4 L1238.0,303.4 L1238.7,303.4 L1239.4,303.4 L1240.1,303.4 L1240.8,303.4 L1241.5,303.4 L1242.2,303.4 L1242.9,303.4 L1243.6,303.4 L1244.3,303.4 L1245.0,303.4 L1245.7,303.4 L1246.4,303.4 L1247.1,303.4 L1247.8,303.4 L1248.5,303.4 L1249.2,303.4 L1249.9,303.4 L1250.6,303.4 L1251.3,303.4 L1252.0,303.4 L1252.7,303.3 L1253.4,303.3 L1254.1,303.3 L1254.8,303.3 L1255.5,303.3 L1256.2,303.3 L1256.9,303.3 L1257.6,303.3 L1258.3,303.3 L1259.0,303.3 L1259.7,303.3 L1260.4,303.3 L1261.1,303.2 L1261.8,303.2 L1262.5,303.2 L1263.2,303.1 L1263.9,303.1 L1264.6,303.0 L1265.3,302.9 L1266.0,302.7 L1266.7,302.5 L1267.4,302.3 L1268.1,302.0 L1268.8,301.7 L1269.5,301.3 L1270.2,301.0 L1270.9,300.6 L1271.6,300.2 L1272.3,299.9 L1273.0,299.6 L1273.7,299.3 L1274.4,299.1 L1275.1,298.9 L1275.8,298.7 L1276.5,298.5 L1277.2,298.4 L1277.9,298.2 L1278.6,298.1 L1279.3,298.0 L1280.0,297.9 L1280.7,297.8 L1281.4,297.8 L1282.1,297.8 L1282.8,297.9 L1283.5,298.2 L1284.2,298.5 L1284.9,298.8 L1285.6,299.2 L1286.3,299.7 L1287.0,300.1 L1287.7,300.5 L1288.4,300.9 L1289.1,301.2 L1289.8,301.5 L1290.5,301.7 L1291.2,301.9 L1291.9,302.0 L1292.6,302.1 L1293.3,302.1 L1294.0,302.1 L1294.7,302.1 L1295.4,302.1 L1296.1,302.0 L1296.8,302.0 L1297.5,301.9 L1298.2,301.8 L1298.9,301.7 L1299.6,301.6 L1300.3,301.5 L1301.0,301.4 L1301.7,301.3 L1302.4,301.1 L1303.1,301.0 L1303.8,300.8 L1304.5,300.6 L1305.2,300.4 L1305.9,300.2 L1306.6,299.9 L1307.3,299.6 L1308.0,299.2 L1308.7,298.7 L1309.4,298.2 L1310.1,297.6 L1310.8,296.8 L1311.5,295.8 L1312.2,294.7 L1312.9,293.3 L1313.6,291.6 L1314.3,289.6 L1315.0,287.2 L1315.7,284.5 L1316.4,281.3 L1317.1,277.7 L1317.8,273.7 L1318.5,269.3 L1319.2,264.6 L1319.9,259.7 L1320.6,254.7 L1321.3,249.7 L1322.0,245.2 L1322.7,241.2 L1323.4,238.1 L1324.1,236.2 L1324.8,235.7 L1325.5,236.6 L1326.2,238.9 L1326.9,242.2 L1327.6,246.4 L1328.3,251.1 L1329.0,256.1 L1329.7,261.1 L1330.4,266.0 L1331.1,270.6 L1331.8,274.9 L1332.5,278.8 L1333.2,282.3 L1333.9,285.3 L1334.6,288.0 L1335.3,290.2 L1336.0,292.1 L1336.7,293.7 L1337.4,295.0 L1338.1,296.1 L1338.8,297.0 L1339.5,297.8 L1340.2,298.4 L1340.9,298.9 L1341.6,299.3 L1342.3,299.7 L1343.0,300.0 L1343.7,300.2 L1344.4,300.5 L1345.1,300.7 L1345.8,300.8 L1346.5,301.0 L1347.2,301.2 L1347.9,301.3 L1348.6,301.4 L1349.3,301.5 L1350.0,301.6 L1350.7,301.7 L1351.4,301.8 L1352.1,301.9 L1352.8,302.0 L1353.5,302.1 L1354.2,302.1 L1354.9,302.2 L1355.6,302.3 L1356.3,302.3 L1357.0,302.4 L1357.7,302.4 L1358.4,302.5 L1359.1,302.5 L1359.8,302.6 L1360.5,302.6 L1361.2,302.6 L1361.9,302.7 L1362.6,302.7 L1363.3,302.7 L1364.0,302.8 L1364.7,302.8 L1365.4,302.8 L1366.1,302.8 L1366.8,302.9 L1367.5,302.9 L1368.2,302.9 L1368.9,302.9 L1369.6,303.0 L1370.3,303.0 L1371.0,303.0 L1371.7,303.0 L1372.4,303.0 L1373.1,303.0 L1373.8,303.1 L1374.5,303.1 L1375.2,303.1 L1375.9,303.1 L1376.6,303.1 L1377.3,303.1 L1378.0,303.1 L1378.7,303.2 L1379.4,303.2 L1380.1,303.2 L1380.8,303.2 L1381.5,303.2 L1382.2,303.2 L1382.9,303.2 L1383.6,303.2 L1384.3,303.2 L1385.0,303.2 L1385.7,303.2 L1386.4,303.3 L1387.1,303.3 L1387.8,303.3 L1388.5,303.3 L1389.2,303.3" stroke="#ff20ff" stroke-width="1.3" fill="none"/>
<path d="M776.0,396.30 L1100.0,413.00" stroke="#7d7d7d" stroke-width="1.9" stroke-dasharray="9.5,9.6" fill="none"/>
<path d="M1175.0,413.30 L1389.5,413.00" stroke="#7d7d7d" stroke-width="1.9" stroke-dasharray="9.5,9.6" fill="none"/>
<path d="M888.0,398.2 L888.7,398.3 L889.4,398.3 L890.1,398.4 L890.8,398.5 L891.5,398.5 L892.2,398.6 L892.9,398.6 L893.6,398.7 L894.3,398.7 L895.0,398.7 L895.7,398.8 L896.4,398.8 L897.1,398.8 L897.8,398.8 L898.5,398.8 L899.2,398.8 L899.9,398.8 L900.6,398.7 L901.3,398.6 L902.0,398.5 L902.7,398.4 L903.4,398.2 L904.1,398.0 L904.8,397.7 L905.5,397.4 L906.2,396.9 L906.9,396.4 L907.6,395.7 L908.3,395.0 L909.0,394.1 L909.7,393.0 L910.4,391.8 L911.1,390.4 L911.8,388.9 L912.5,387.1 L913.2,385.3 L913.9,383.2 L914.6,381.1 L915.3,378.8 L916.0,376.4 L916.7,374.1 L917.4,371.7 L918.1,369.5 L918.8,367.3 L919.5,365.4 L920.2,363.8 L920.9,362.5 L921.6,361.6 L922.3,361.2 L923.0,361.3 L923.7,361.9 L924.4,362.9 L925.1,364.4 L925.8,366.2 L926.5,368.3 L927.2,370.5 L927.9,372.9 L928.6,375.4 L929.3,377.9 L930.0,380.3 L930.7,382.7 L931.4,385.0 L932.1,387.1 L932.8,389.1 L933.5,390.9 L934.2,392.5 L934.9,394.0 L935.6,395.3 L936.3,396.4 L937.0,397.4 L937.7,398.3 L938.4,399.1 L939.1,399.7 L939.8,400.2 L940.5,400.7 L941.2,401.1 L941.9,401.4 L942.6,401.7 L943.3,402.0 L944.0,402.2 L944.7,402.4 L945.4,402.6 L946.1,402.7 L946.8,402.9 L947.5,403.0 L948.2,403.1 L948.9,403.2 L949.6,403.3 L950.3,403.4 L951.0,403.5 L951.7,403.6 L952.4,403.7 L953.1,403.8 L953.8,403.8 L954.5,403.9 L955.2,404.0 L955.9,404.1 L956.6,404.1 L957.3,404.2 L957.30,405.64 L888.00,402.07 Z" fill="rgb(200,200,200)" fill-opacity="0.7" stroke="#8a8a8a" stroke-width="0.8"/>
<path d="M984.6,405.1 L985.3,405.1 L986.0,405.0 L986.7,405.0 L987.4,404.9 L988.1,404.9 L988.8,404.8 L989.5,404.7 L990.2,404.6 L990.9,404.5 L991.6,404.3 L992.3,404.1 L993.0,403.8 L993.7,403.5 L994.4,403.0 L995.1,402.4 L995.8,401.6 L996.5,400.5 L997.2,399.1 L997.9,397.2 L998.6,394.8 L999.3,391.8 L1000.0,388.2 L1000.7,383.9 L1001.4,378.8 L1002.1,373.1 L1002.8,366.9 L1003.5,360.4 L1004.2,353.7 L1004.9,347.3 L1005.6,341.5 L1006.3,336.9 L1007.0,333.7 L1007.7,332.5 L1008.4,333.2 L1009.1,335.9 L1009.8,340.3 L1010.5,345.9 L1011.2,352.2 L1011.9,358.9 L1012.6,365.6 L1013.3,372.1 L1014.0,378.0 L1014.7,383.3 L1015.4,387.9 L1016.1,391.8 L1016.8,395.1 L1017.5,397.7 L1018.2,399.8 L1018.9,401.4 L1019.6,402.7 L1020.3,403.7 L1021.0,404.4 L1021.7,405.0 L1022.4,405.4 L1023.1,405.8 L1023.8,406.1 L1024.5,406.4 L1025.2,406.6 L1025.9,406.8 L1026.6,406.9 L1027.3,407.1 L1028.0,407.2 L1028.7,407.4 L1029.4,407.5 L1030.1,407.6 L1030.8,407.7 L1030.80,409.43 L984.60,407.05 Z" fill="rgb(200,200,200)" fill-opacity="0.7" stroke="#8a8a8a" stroke-width="0.8"/>
<path d="M776.0,405.8 L776.7,402.7 L777.4,400.4 L778.1,398.2 L778.8,396.2 L779.5,393.6 L780.2,391.5 L780.9,388.5 L781.6,385.7 L782.3,383.3 L783.0,380.8 L783.7,377.8 L784.4,375.6 L785.1,373.7 L785.8,370.4 L786.5,368.3 L787.2,366.4 L787.9,363.3 L788.6,360.9 L789.3,358.7 L790.0,357.3 L790.7,355.7 L791.4,354.1 L792.1,352.8 L792.8,352.0 L793.5,350.7 L794.2,349.0 L794.9,348.9 L795.6,348.8 L796.3,349.1 L797.0,349.0 L797.7,349.2 L798.4,349.7 L799.1,349.7 L799.8,350.8 L800.5,351.1 L801.2,352.0 L801.9,352.0 L802.6,352.7 L803.3,353.0 L804.0,353.5 L804.7,354.7 L805.4,354.9 L806.1,355.8 L806.8,355.8 L807.5,356.9 L808.2,356.8 L808.9,357.8 L809.6,358.4 L810.3,359.3 L811.0,359.7 L811.7,360.1 L812.4,360.9 L813.1,361.1 L813.8,361.6 L814.5,362.0 L815.2,362.1 L815.9,362.3 L816.6,362.9 L817.3,362.9 L818.0,363.5 L818.7,364.0 L819.4,364.2 L820.1,364.1 L820.8,364.1 L821.5,364.8 L822.2,365.1 L822.9,365.8 L823.6,365.6 L824.3,366.0 L825.0,366.6 L825.7,366.6 L826.4,367.0 L827.1,368.0 L827.8,368.3 L828.5,368.3 L829.2,368.5 L829.9,368.5 L830.6,369.3 L831.3,369.5 L832.0,369.9 L832.7,370.0 L833.4,370.6 L834.1,370.9 L834.8,371.4 L835.5,372.2 L836.2,372.2 L836.9,371.9 L837.6,372.5 L838.3,372.7 L839.0,373.4 L839.7,374.3 L840.4,374.6 L841.1,374.7 L841.8,375.4 L842.5,375.5 L843.2,375.8 L843.9,376.2 L844.6,376.9 L845.3,378.2 L846.0,377.8 L846.7,379.2 L847.4,379.7 L848.1,379.7 L848.8,380.3 L849.5,380.6 L850.2,381.4 L850.9,382.1 L851.6,382.4 L852.3,383.3 L853.0,383.8 L853.7,384.0 L854.4,384.5 L855.1,384.8 L855.8,385.4 L856.5,385.4 L857.2,386.4 L857.9,386.8 L858.6,387.0 L859.3,388.5 L860.0,387.9 L860.7,388.4 L861.4,389.3 L862.1,389.0 L862.8,389.8 L863.5,390.0 L864.2,390.7 L864.9,391.4 L865.6,391.9 L866.3,392.6 L867.0,392.9 L867.7,393.4 L868.4,393.5 L869.1,393.4 L869.8,394.2 L870.5,393.9 L871.2,394.1 L871.9,395.1 L872.6,395.1 L873.3,395.1 L874.0,395.6 L874.7,395.8 L875.4,395.2 L876.1,395.9 L876.8,395.7 L877.5,396.3 L878.2,396.2 L878.9,397.1 L879.6,397.0 L880.3,396.7 L881.0,397.1 L881.7,396.8 L882.4,397.4 L883.1,397.7 L883.8,397.7 L884.5,397.0 L885.2,397.7 L885.9,398.1 L886.6,398.1 L887.3,398.5 L888.0,397.7 L888.7,398.4 L889.4,398.0 L890.1,398.4 L890.8,398.5 L891.5,398.7 L892.2,398.3 L892.9,398.6 L893.6,398.2 L894.3,398.1 L895.0,398.9 L895.7,398.7 L896.4,398.2 L897.1,398.4 L897.8,398.7 L898.5,399.3 L899.2,399.1 L899.9,399.0 L900.6,398.0 L901.3,398.5 L902.0,398.6 L902.7,398.5 L903.4,398.3 L904.1,397.8 L904.8,398.3 L905.5,397.8 L906.2,396.8 L906.9,396.0 L907.6,396.4 L908.3,394.7 L909.0,394.4 L909.7,393.6 L910.4,391.4 L911.1,390.4 L911.8,388.6 L912.5,387.2 L913.2,385.3 L913.9,383.8 L914.6,381.2 L915.3,378.7 L916.0,376.7 L916.7,373.9 L917.4,371.5 L918.1,370.1 L918.8,366.9 L919.5,365.1 L920.2,363.7 L920.9,362.0 L921.6,360.8 L922.3,361.5 L923.0,360.9 L923.7,361.6 L924.4,362.7 L925.1,363.9 L925.8,365.7 L926.5,368.2 L927.2,371.2 L927.9,373.1 L928.6,375.5 L929.3,377.2 L930.0,380.2 L930.7,382.2 L931.4,385.1 L932.1,386.9 L932.8,388.9 L933.5,390.7 L934.2,392.2 L934.9,393.3 L935.6,395.3 L936.3,395.8 L937.0,396.9 L937.7,398.1 L938.4,398.7 L939.1,399.6 L939.8,400.4 L940.5,400.6 L941.2,401.0 L941.9,401.3 L942.6,401.9 L943.3,401.2 L944.0,402.2 L944.7,401.9 L945.4,402.0 L946.1,402.5 L946.8,402.5 L947.5,403.0 L948.2,403.3 L948.9,402.2 L949.6,403.1 L950.3,403.9 L951.0,403.6 L951.7,403.9 L952.4,403.5 L953.1,403.0 L953.8,403.2 L954.5,403.9 L955.2,404.1 L955.9,403.6 L956.6,403.8 L957.3,404.0 L958.0,403.4 L958.7,403.9 L959.4,404.7 L960.1,404.9 L960.8,404.2 L961.5,404.9 L962.2,404.1 L962.9,404.1 L963.6,403.6 L964.3,404.8 L965.0,404.4 L965.7,405.4 L966.4,404.7 L967.1,404.7 L967.8,404.0 L968.5,405.2 L969.2,404.6 L969.9,404.7 L970.6,404.0 L971.3,405.1 L972.0,405.2 L972.7,404.6 L973.4,404.9 L974.1,405.0 L974.8,405.3 L975.5,405.0 L976.2,405.5 L976.9,404.9 L977.6,404.8 L978.3,404.8 L979.0,404.1 L979.7,404.7 L980.4,405.3 L981.1,405.1 L981.8,404.7 L982.5,405.1 L983.2,404.2 L983.9,404.8 L984.6,405.1 L985.3,405.1 L986.0,404.6 L986.7,405.1 L987.4,405.4 L988.1,404.5 L988.8,404.9 L989.5,404.0 L990.2,403.7 L990.9,404.5 L991.6,404.1 L992.3,404.0 L993.0,403.5 L993.7,403.2 L994.4,403.2 L995.1,402.9 L995.8,401.4 L996.5,399.8 L997.2,399.4 L997.9,397.3 L998.6,394.9 L999.3,391.7 L1000.0,388.9 L1000.7,383.7 L1001.4,378.9 L1002.1,372.3 L1002.8,366.6 L1003.5,360.0 L1004.2,353.6 L1004.9,347.3 L1005.6,341.1 L1006.3,337.3 L1007.0,333.2 L1007.7,332.2 L1008.4,333.2 L1009.1,335.4 L1009.8,340.4 L1010.5,346.0 L1011.2,352.0 L1011.9,359.5 L1012.6,365.5 L1013.3,372.0 L1014.0,377.5 L1014.7,382.6 L1015.4,387.6 L1016.1,391.6 L1016.8,394.8 L1017.5,397.9 L1018.2,398.9 L1018.9,400.9 L1019.6,402.0 L1020.3,404.0 L1021.0,404.1 L1021.7,404.7 L1022.4,405.0 L1023.1,406.0 L1023.8,405.9 L1024.5,406.3 L1025.2,405.8 L1025.9,407.1 L1026.6,407.0 L1027.3,407.2 L1028.0,407.6 L1028.7,407.2 L1029.4,407.4 L1030.1,407.8 L1030.8,407.8 L1031.5,407.7 L1032.2,407.9 L1032.9,407.8 L1033.6,408.3 L1034.3,408.5 L1035.0,408.2 L1035.7,409.0 L1036.4,407.8 L1037.1,408.4 L1037.8,409.1 L1038.5,408.5 L1039.2,408.1 L1039.9,409.2 L1040.6,409.0 L1041.3,408.5 L1042.0,409.2 L1042.7,408.6 L1043.4,408.6 L1044.1,409.1 L1044.8,409.0 L1045.5,408.9 L1046.2,409.2 L1046.9,409.0 L1047.6,409.4 L1048.3,409.5 L1049.0,409.8 L1049.7,409.4 L1050.4,409.1 L1051.1,409.2 L1051.8,409.6 L1052.5,410.3 L1053.2,410.1 L1053.9,409.6 L1054.6,410.2 L1055.3,409.6 L1056.0,410.4 L1056.7,409.9 L1057.4,410.4 L1058.1,410.4 L1058.8,410.1 L1059.5,410.4 L1060.2,409.9 L1060.9,410.3 L1061.6,410.8 L1062.3,411.9 L1063.0,410.7 L1063.7,410.6 L1064.4,410.2 L1065.1,411.0 L1065.8,410.1 L1066.5,410.5 L1067.2,410.9 L1067.9,410.4 L1068.6,411.4 L1069.3,411.3 L1070.0,410.8 L1070.7,410.8 L1071.4,410.6 L1072.1,410.6 L1072.8,411.3 L1073.5,411.4 L1074.2,411.4 L1074.9,411.4 L1075.6,411.1 L1076.3,411.5 L1077.0,410.9 L1077.7,411.5 L1078.4,412.0 L1079.1,412.0 L1079.8,411.4 L1080.5,411.5 L1081.2,412.1 L1081.9,412.3 L1082.6,411.2 L1083.3,411.6 L1084.0,411.9 L1084.7,412.3 L1085.4,411.6 L1086.1,412.1 L1086.8,411.8 L1087.5,412.8 L1088.2,412.1 L1088.9,412.0 L1089.6,411.9 L1090.3,412.5 L1091.0,412.4 L1091.7,411.8 L1092.4,412.2 L1093.1,411.7 L1093.8,412.0 L1094.5,411.8 L1095.2,411.8 L1095.9,412.0 L1096.6,412.0 L1097.3,412.5 L1098.0,412.6 L1098.7,412.3 L1099.4,412.0 L1100.1,412.7 L1100.8,411.7 L1101.5,411.7 L1102.2,412.7 L1102.9,412.7 L1103.6,412.8 L1104.3,412.4 L1105.0,412.0 L1105.7,412.3 L1106.4,412.7 L1107.1,412.3 L1107.8,412.3 L1108.5,412.1 L1109.2,412.2 L1109.9,412.9 L1110.6,412.7 L1111.3,412.2 L1112.0,412.2 L1112.7,412.4 L1113.4,412.8 L1114.1,412.2 L1114.8,412.6 L1115.5,411.9 L1116.2,412.2 L1116.9,412.8 L1117.6,413.0 L1118.3,412.3 L1119.0,412.5 L1119.7,413.0 L1120.4,412.6 L1121.1,412.6 L1121.8,413.0 L1122.5,412.9 L1123.2,413.2 L1123.9,413.1 L1124.6,412.6 L1125.3,412.8 L1126.0,412.8 L1126.7,412.4 L1127.4,412.5 L1128.1,413.2 L1128.8,412.3 L1129.5,413.2 L1130.2,413.0 L1130.9,412.9 L1131.6,413.1 L1132.3,413.1 L1133.0,413.4 L1133.7,412.8 L1134.4,412.9 L1135.1,412.9 L1135.8,413.6 L1136.5,413.3 L1137.2,412.7 L1137.9,412.9 L1138.6,412.8 L1139.3,413.0 L1140.0,413.1 L1140.7,413.8 L1141.4,412.4 L1142.1,413.4 L1142.8,413.2 L1143.5,412.8 L1144.2,413.0 L1144.9,412.9 L1145.6,413.1 L1146.3,413.5 L1147.0,412.6 L1147.7,413.6 L1148.4,413.0 L1149.1,413.7 L1149.8,413.3 L1150.5,413.6 L1151.2,413.3 L1151.9,413.5 L1152.6,413.2 L1153.3,412.9 L1154.0,413.4 L1154.7,413.4 L1155.4,413.9 L1156.1,412.5 L1156.8,413.1 L1157.5,413.6 L1158.2,412.8 L1158.9,413.1 L1159.6,413.9 L1160.3,413.7 L1161.0,412.9 L1161.7,413.7 L1162.4,413.6 L1163.1,413.5 L1163.8,413.4 L1164.5,413.3 L1165.2,412.9 L1165.9,413.1 L1166.6,413.5 L1167.3,413.3 L1168.0,413.9 L1168.7,413.1 L1169.4,412.4 L1170.1,413.1 L1170.8,413.3 L1171.5,413.4 L1172.2,413.3 L1172.9,413.0 L1173.6,413.8 L1174.3,413.0 L1175.0,413.5 L1175.7,413.1 L1176.4,412.8 L1177.1,413.7 L1177.8,412.3 L1178.5,412.9 L1179.2,413.3 L1179.9,413.0 L1180.6,413.4 L1181.3,413.0 L1182.0,412.9 L1182.7,413.8 L1183.4,412.9 L1184.1,412.9 L1184.8,412.6 L1185.5,412.7 L1186.2,413.1 L1186.9,413.1 L1187.6,412.8 L1188.3,412.5 L1189.0,413.0 L1189.7,412.1 L1190.4,412.6 L1191.1,412.6 L1191.8,412.3 L1192.5,412.6 L1193.2,412.3 L1193.9,412.2 L1194.6,413.1 L1195.3,412.7 L1196.0,412.8 L1196.7,412.4 L1197.4,412.7 L1198.1,412.6 L1198.8,412.7 L1199.5,413.0 L1200.2,412.1 L1200.9,412.2 L1201.6,412.1 L1202.3,410.8 L1203.0,411.5 L1203.7,412.0 L1204.4,412.1 L1205.1,411.7 L1205.8,412.2 L1206.5,412.2 L1207.2,411.6 L1207.9,412.2 L1208.6,412.3 L1209.3,411.8 L1210.0,411.2 L1210.7,412.0 L1211.4,411.4 L1212.1,411.3 L1212.8,411.4 L1213.5,411.1 L1214.2,411.6 L1214.9,411.5 L1215.6,411.6 L1216.3,411.3 L1217.0,410.7 L1217.7,410.9 L1218.4,411.2 L1219.1,410.7 L1219.8,411.8 L1220.5,410.6 L1221.2,410.5 L1221.9,411.0 L1222.6,410.8 L1223.3,410.5 L1224.0,410.3 L1224.7,410.5 L1225.4,410.5 L1226.1,410.4 L1226.8,410.0 L1227.5,410.2 L1228.2,410.3 L1228.9,410.2 L1229.6,408.7 L1230.3,409.4 L1231.0,409.4 L1231.7,409.5 L1232.4,409.6 L1233.1,409.8 L1233.8,409.6 L1234.5,409.2 L1235.2,409.2 L1235.9,409.7 L1236.6,408.8 L1237.3,409.0 L1238.0,409.4 L1238.7,408.9 L1239.4,408.0 L1240.1,408.7 L1240.8,408.4 L1241.5,408.4 L1242.2,408.7 L1242.9,408.4 L1243.6,408.1 L1244.3,408.4 L1245.0,408.1 L1245.7,407.9 L1246.4,407.9 L1247.1,407.8 L1247.8,407.5 L1248.5,407.3 L1249.2,407.4 L1249.9,406.9 L1250.6,406.7 L1251.3,407.5 L1252.0,406.8 L1252.7,406.8 L1253.4,406.6 L1254.1,406.6 L1254.8,406.5 L1255.5,406.4 L1256.2,405.9 L1256.9,406.4 L1257.6,405.7 L1258.3,406.2 L1259.0,405.1 L1259.7,405.2 L1260.4,405.8 L1261.1,405.3 L1261.8,405.0 L1262.5,405.2 L1263.2,404.6 L1263.9,404.9 L1264.6,404.0 L1265.3,404.5 L1266.0,404.3 L1266.7,404.6 L1267.4,404.6 L1268.1,403.9 L1268.8,404.6 L1269.5,403.8 L1270.2,403.2 L1270.9,402.9 L1271.6,404.2 L1272.3,403.6 L1273.0,403.3 L1273.7,403.1 L1274.4,402.9 L1275.1,403.7 L1275.8,403.0 L1276.5,403.6 L1277.2,402.8 L1277.9,401.9 L1278.6,402.9 L1279.3,402.3 L1280.0,402.2 L1280.7,402.6 L1281.4,401.7 L1282.1,402.0 L1282.8,401.3 L1283.5,400.7 L1284.2,400.8 L1284.9,400.1 L1285.6,400.4 L1286.3,400.0 L1287.0,399.4 L1287.7,399.3 L1288.4,399.1 L1289.1,398.5 L1289.8,398.8 L1290.5,398.2 L1291.2,398.3 L1291.9,397.5 L1292.6,397.7 L1293.3,397.7 L1294.0,397.0 L1294.7,397.0 L1295.4,396.7 L1296.1,396.9 L1296.8,396.2 L1297.5,396.3 L1298.2,396.4 L1298.9,395.6 L1299.6,394.5 L1300.3,394.5 L1301.0,394.3 L1301.7,393.2 L1302.4,392.9 L1303.1,392.0 L1303.8,391.2 L1304.5,390.2 L1305.2,389.3 L1305.9,388.6 L1306.6,387.9 L1307.3,387.2 L1308.0,386.3 L1308.7,385.1 L1309.4,384.3 L1310.1,383.4 L1310.8,381.7 L1311.5,380.9 L1312.2,379.8 L1312.9,378.9 L1313.6,377.7 L1314.3,376.4 L1315.0,374.9 L1315.7,374.1 L1316.4,372.6 L1317.1,370.5 L1317.8,369.6 L1318.5,367.7 L1319.2,367.1 L1319.9,364.6 L1320.6,362.5 L1321.3,360.2 L1322.0,357.5 L1322.7,355.0 L1323.4,353.1 L1324.1,350.3 L1324.8,348.6 L1325.5,347.3 L1326.2,345.8 L1326.9,346.7 L1327.6,347.5 L1328.3,349.7 L1329.0,351.9 L1329.7,355.6 L1330.4,358.7 L1331.1,361.4 L1331.8,365.2 L1332.5,367.6 L1333.2,370.5 L1333.9,373.9 L1334.6,377.2 L1335.3,380.3 L1336.0,383.2 L1336.7,386.6 L1337.4,389.7 L1338.1,391.5 L1338.8,394.1 L1339.5,395.7 L1340.2,397.7 L1340.9,399.8 L1341.6,401.0 L1342.3,401.7 L1343.0,403.2 L1343.7,404.8 L1344.4,405.2 L1345.1,406.1 L1345.8,406.9 L1346.5,406.8 L1347.2,408.3 L1347.9,408.7 L1348.6,409.2 L1349.3,409.2 L1350.0,409.6 L1350.7,410.1 L1351.4,410.7 L1352.1,410.9 L1352.8,411.1 L1353.5,411.9 L1354.2,411.8 L1354.9,411.2 L1355.6,411.3 L1356.3,412.3 L1357.0,411.6 L1357.7,412.3 L1358.4,412.5 L1359.1,411.8 L1359.8,412.0 L1360.5,412.2 L1361.2,411.9 L1361.9,411.9 L1362.6,412.2 L1363.3,412.6 L1364.0,412.2 L1364.7,412.4 L1365.4,412.3 L1366.1,412.0 L1366.8,413.1 L1367.5,411.8 L1368.2,412.4 L1368.9,412.8 L1369.6,412.2 L1370.3,412.9 L1371.0,413.1 L1371.7,412.4 L1372.4,412.8 L1373.1,412.4 L1373.8,413.0 L1374.5,412.8 L1375.2,412.9 L1375.9,413.3 L1376.6,413.0 L1377.3,413.3 L1378.0,413.1 L1378.7,412.5 L1379.4,413.0 L1380.1,413.1 L1380.8,412.4 L1381.5,413.4 L1382.2,413.0 L1382.9,413.1 L1383.6,412.7 L1384.3,413.0 L1385.0,413.1 L1385.7,412.9 L1386.4,413.0 L1387.1,412.3 L1387.8,413.5 L1388.5,412.6 L1389.2,412.2" stroke="#000" stroke-width="1.5" fill="none" stroke-linejoin="round"/>
<path d="M1175.0,413.3 L1175.7,413.3 L1176.4,413.3 L1177.1,413.3 L1177.8,413.3 L1178.5,413.3 L1179.2,413.3 L1179.9,413.3 L1180.6,413.3 L1181.3,413.3 L1182.0,413.3 L1182.7,413.2 L1183.4,413.2 L1184.1,413.2 L1184.8,413.2 L1185.5,413.2 L1186.2,413.2 L1186.9,413.2 L1187.6,413.2 L1188.3,413.2 L1189.0,413.2 L1189.7,413.2 L1190.4,413.2 L1191.1,413.2 L1191.8,413.2 L1192.5,413.2 L1193.2,413.2 L1193.9,413.2 L1194.6,413.2 L1195.3,413.2 L1196.0,413.2 L1196.7,413.2 L1197.4,413.2 L1198.1,413.2 L1198.8,413.2 L1199.5,413.2 L1200.2,413.2 L1200.9,413.2 L1201.6,413.2 L1202.3,413.2 L1203.0,413.2 L1203.7,413.2 L1204.4,413.2 L1205.1,413.2 L1205.8,413.2 L1206.5,413.2 L1207.2,413.2 L1207.9,413.2 L1208.6,413.2 L1209.3,413.2 L1210.0,413.2 L1210.7,413.2 L1211.4,413.2 L1212.1,413.2 L1212.8,413.2 L1213.5,413.2 L1214.2,413.2 L1214.9,413.2 L1215.6,413.2 L1216.3,413.2 L1217.0,413.2 L1217.7,413.2 L1218.4,413.2 L1219.1,413.2 L1219.8,413.2 L1220.5,413.2 L1221.2,413.2 L1221.9,413.2 L1222.6,413.2 L1223.3,413.2 L1224.0,413.2 L1224.7,413.2 L1225.4,413.1 L1226.1,413.1 L1226.8,413.1 L1227.5,413.1 L1228.2,413.1 L1228.9,413.1 L1229.6,413.1 L1230.3,413.1 L1231.0,413.1 L1231.7,413.1 L1232.4,413.1 L1233.1,413.1 L1233.8,413.1 L1234.5,413.1 L1235.2,413.1 L1235.9,413.1 L1236.6,413.1 L1237.3,413.1 L1238.0,413.1 L1238.7,413.1 L1239.4,413.1 L1240.1,413.1 L1240.8,413.1 L1241.5,413.1 L1242.2,413.1 L1242.9,413.1 L1243.6,413.1 L1244.3,413.1 L1245.0,413.1 L1245.7,413.1 L1246.4,413.1 L1247.1,413.1 L1247.8,413.1 L1248.5,413.1 L1249.2,413.1 L1249.9,413.1 L1250.6,413.1 L1251.3,413.0 L1252.0,413.0 L1252.7,413.0 L1253.4,413.0 L1254.1,413.0 L1254.8,413.0 L1255.5,413.0 L1256.2,413.0 L1256.9,413.0 L1257.6,413.0 L1258.3,413.0 L1259.0,413.0 L1259.7,413.0 L1260.4,413.0 L1261.1,413.0 L1261.8,413.0 L1262.5,413.0 L1263.2,413.0 L1263.9,413.0 L1264.6,413.0 L1265.3,413.0 L1266.0,413.0 L1266.7,412.9 L1267.4,412.9 L1268.1,412.9 L1268.8,412.9 L1269.5,412.9 L1270.2,412.9 L1270.9,412.9 L1271.6,412.9 L1272.3,412.9 L1273.0,412.9 L1273.7,412.9 L1274.4,412.9 L1275.1,412.9 L1275.8,412.8 L1276.5,412.8 L1277.2,412.8 L1277.9,412.8 L1278.6,412.8 L1279.3,412.8 L1280.0,412.8 L1280.7,412.8 L1281.4,412.8 L1282.1,412.7 L1282.8,412.7 L1283.5,412.7 L1284.2,412.7 L1284.9,412.7 L1285.6,412.7 L1286.3,412.7 L1287.0,412.6 L1287.7,412.6 L1288.4,412.6 L1289.1,412.6 L1289.8,412.6 L1290.5,412.5 L1291.2,412.5 L1291.9,412.5 L1292.6,412.5 L1293.3,412.4 L1294.0,412.4 L1294.7,412.4 L1295.4,412.3 L1296.1,412.3 L1296.8,412.3 L1297.5,412.2 L1298.2,412.2 L1298.9,412.1 L1299.6,412.1 L1300.3,412.0 L1301.0,412.0 L1301.7,411.9 L1302.4,411.8 L1303.1,411.8 L1303.8,411.7 L1304.5,411.6 L1305.2,411.5 L1305.9,411.3 L1306.6,411.2 L1307.3,411.0 L1308.0,410.8 L1308.7,410.6 L1309.4,410.3 L1310.1,409.9 L1310.8,409.4 L1311.5,408.9 L1312.2,408.2 L1312.9,407.3 L1313.6,406.3 L1314.3,405.0 L1315.0,403.6 L1315.7,401.8 L1316.4,399.8 L1317.1,397.4 L1317.8,394.8 L1318.5,391.8 L1319.2,388.6 L1319.9,385.1 L1320.6,381.4 L1321.3,377.6 L1322.0,373.8 L1322.7,370.0 L1323.4,366.4 L1324.1,363.1 L1324.8,360.3 L1325.5,358.1 L1326.2,356.7 L1326.9,356.1 L1327.6,356.3 L1328.3,357.2 L1329.0,358.6 L1329.7,360.6 L1330.4,363.0 L1331.1,365.7 L1331.8,368.8 L1332.5,371.9 L1333.2,375.2 L1333.9,378.4 L1334.6,381.7 L1335.3,384.8 L1336.0,387.8 L1336.7,390.6 L1337.4,393.2 L1338.1,395.6 L1338.8,397.8 L1339.5,399.8 L1340.2,401.5 L1340.9,403.0 L1341.6,404.4 L1342.3,405.5 L1343.0,406.5 L1343.7,407.4 L1344.4,408.1 L1345.1,408.7 L1345.8,409.2 L1346.5,409.6 L1347.2,410.0 L1347.9,410.3 L1348.6,410.5 L1349.3,410.7 L1350.0,410.9 L1350.7,411.1 L1351.4,411.2 L1352.1,411.3 L1352.8,411.4 L1353.5,411.5 L1354.2,411.6 L1354.9,411.7 L1355.6,411.7 L1356.3,411.8 L1357.0,411.8 L1357.7,411.9 L1358.4,411.9 L1359.1,412.0 L1359.8,412.0 L1360.5,412.1 L1361.2,412.1 L1361.9,412.1 L1362.6,412.2 L1363.3,412.2 L1364.0,412.2 L1364.7,412.3 L1365.4,412.3 L1366.1,412.3 L1366.8,412.3 L1367.5,412.3 L1368.2,412.4 L1368.9,412.4 L1369.6,412.4 L1370.3,412.4 L1371.0,412.4 L1371.7,412.5 L1372.4,412.5 L1373.1,412.5 L1373.8,412.5 L1374.5,412.5 L1375.2,412.5 L1375.9,412.5 L1376.6,412.6 L1377.3,412.6 L1378.0,412.6 L1378.7,412.6 L1379.4,412.6 L1380.1,412.6 L1380.8,412.6 L1381.5,412.6 L1382.2,412.6 L1382.9,412.6 L1383.6,412.7 L1384.3,412.7 L1385.0,412.7 L1385.7,412.7 L1386.4,412.7 L1387.1,412.7 L1387.8,412.7 L1388.5,412.7 L1389.2,412.7 L1389.20,413.00 L1175.00,413.30 Z" fill="rgb(108,100,255)" stroke="#2020a0" stroke-width="0.6"/>
<path d="M1175.0,413.3 L1175.7,413.3 L1176.4,413.3 L1177.1,413.3 L1177.8,413.3 L1178.5,413.3 L1179.2,413.3 L1179.9,413.3 L1180.6,413.3 L1181.3,413.3 L1182.0,413.3 L1182.7,413.2 L1183.4,413.2 L1184.1,413.2 L1184.8,413.2 L1185.5,413.2 L1186.2,413.2 L1186.9,413.2 L1187.6,413.2 L1188.3,413.2 L1189.0,413.2 L1189.7,413.2 L1190.4,413.2 L1191.1,413.2 L1191.8,413.2 L1192.5,413.2 L1193.2,413.2 L1193.9,413.2 L1194.6,413.2 L1195.3,413.2 L1196.0,413.2 L1196.7,413.2 L1197.4,413.2 L1198.1,413.2 L1198.8,413.2 L1199.5,413.2 L1200.2,413.2 L1200.9,413.2 L1201.6,413.2 L1202.3,413.2 L1203.0,413.2 L1203.7,413.2 L1204.4,413.2 L1205.1,413.2 L1205.8,413.2 L1206.5,413.2 L1207.2,413.2 L1207.9,413.2 L1208.6,413.2 L1209.3,413.2 L1210.0,413.2 L1210.7,413.2 L1211.4,413.2 L1212.1,413.2 L1212.8,413.2 L1213.5,413.2 L1214.2,413.2 L1214.9,413.2 L1215.6,413.2 L1216.3,413.2 L1217.0,413.2 L1217.7,413.2 L1218.4,413.2 L1219.1,413.2 L1219.8,413.2 L1220.5,413.2 L1221.2,413.2 L1221.9,413.2 L1222.6,413.2 L1223.3,413.2 L1224.0,413.2 L1224.7,413.2 L1225.4,413.1 L1226.1,413.1 L1226.8,413.1 L1227.5,413.1 L1228.2,413.1 L1228.9,413.1 L1229.6,413.1 L1230.3,413.1 L1231.0,413.1 L1231.7,413.1 L1232.4,413.1 L1233.1,413.1 L1233.8,413.1 L1234.5,413.1 L1235.2,413.1 L1235.9,413.1 L1236.6,413.1 L1237.3,413.1 L1238.0,413.1 L1238.7,413.1 L1239.4,413.1 L1240.1,413.1 L1240.8,413.1 L1241.5,413.1 L1242.2,413.1 L1242.9,413.1 L1243.6,413.1 L1244.3,413.1 L1245.0,413.1 L1245.7,413.1 L1246.4,413.1 L1247.1,413.1 L1247.8,413.1 L1248.5,413.1 L1249.2,413.1 L1249.9,413.1 L1250.6,413.1 L1251.3,413.0 L1252.0,413.0 L1252.7,413.0 L1253.4,413.0 L1254.1,413.0 L1254.8,413.0 L1255.5,413.0 L1256.2,413.0 L1256.9,413.0 L1257.6,413.0 L1258.3,413.0 L1259.0,413.0 L1259.7,413.0 L1260.4,413.0 L1261.1,413.0 L1261.8,413.0 L1262.5,413.0 L1263.2,413.0 L1263.9,413.0 L1264.6,413.0 L1265.3,413.0 L1266.0,413.0 L1266.7,412.9 L1267.4,412.9 L1268.1,412.9 L1268.8,412.9 L1269.5,412.9 L1270.2,412.9 L1270.9,412.9 L1271.6,412.9 L1272.3,412.9 L1273.0,412.9 L1273.7,412.9 L1274.4,412.9 L1275.1,412.9 L1275.8,412.8 L1276.5,412.8 L1277.2,412.8 L1277.9,412.8 L1278.6,412.8 L1279.3,412.8 L1280.0,412.8 L1280.7,412.8 L1281.4,412.8 L1282.1,412.7 L1282.8,412.7 L1283.5,412.7 L1284.2,412.7 L1284.9,412.7 L1285.6,412.7 L1286.3,412.7 L1287.0,412.6 L1287.7,412.6 L1288.4,412.6 L1289.1,412.6 L1289.8,412.6 L1290.5,412.5 L1291.2,412.5 L1291.9,412.5 L1292.6,412.5 L1293.3,412.4 L1294.0,412.4 L1294.7,412.4 L1295.4,412.3 L1296.1,412.3 L1296.8,412.3 L1297.5,412.2 L1298.2,412.2 L1298.9,412.1 L1299.6,412.1 L1300.3,412.0 L1301.0,412.0 L1301.7,411.9 L1302.4,411.8 L1303.1,411.8 L1303.8,411.7 L1304.5,411.6 L1305.2,411.5 L1305.9,411.3 L1306.6,411.2 L1307.3,411.0 L1308.0,410.8 L1308.7,410.6 L1309.4,410.3 L1310.1,409.9 L1310.8,409.4 L1311.5,408.9 L1312.2,408.2 L1312.9,407.3 L1313.6,406.3 L1314.3,405.0 L1315.0,403.6 L1315.7,401.8 L1316.4,399.8 L1317.1,397.4 L1317.8,394.8 L1318.5,391.8 L1319.2,388.6 L1319.9,385.1 L1320.6,381.4 L1321.3,377.6 L1322.0,373.8 L1322.7,370.0 L1323.4,366.4 L1324.1,363.1 L1324.8,360.3 L1325.5,358.1 L1326.2,356.7 L1326.9,356.1 L1327.6,356.3 L1328.3,357.2 L1329.0,358.6 L1329.7,360.6 L1330.4,363.0 L1331.1,365.7 L1331.8,368.8 L1332.5,371.9 L1333.2,375.2 L1333.9,378.4 L1334.6,381.7 L1335.3,384.8 L1336.0,387.8 L1336.7,390.6 L1337.4,393.2 L1338.1,395.6 L1338.8,397.8 L1339.5,399.8 L1340.2,401.5 L1340.9,403.0 L1341.6,404.4 L1342.3,405.5 L1343.0,406.5 L1343.7,407.4 L1344.4,408.1 L1345.1,408.7 L1345.8,409.2 L1346.5,409.6 L1347.2,410.0 L1347.9,410.3 L1348.6,410.5 L1349.3,410.7 L1350.0,410.9 L1350.7,411.1 L1351.4,411.2 L1352.1,411.3 L1352.8,411.4 L1353.5,411.5 L1354.2,411.6 L1354.9,411.7 L1355.6,411.7 L1356.3,411.8 L1357.0,411.8 L1357.7,411.9 L1358.4,411.9 L1359.1,412.0 L1359.8,412.0 L1360.5,412.1 L1361.2,412.1 L1361.9,412.1 L1362.6,412.2 L1363.3,412.2 L1364.0,412.2 L1364.7,412.3 L1365.4,412.3 L1366.1,412.3 L1366.8,412.3 L1367.5,412.3 L1368.2,412.4 L1368.9,412.4 L1369.6,412.4 L1370.3,412.4 L1371.0,412.4 L1371.7,412.5 L1372.4,412.5 L1373.1,412.5 L1373.8,412.5 L1374.5,412.5 L1375.2,412.5 L1375.9,412.5 L1376.6,412.6 L1377.3,412.6 L1378.0,412.6 L1378.7,412.6 L1379.4,412.6 L1380.1,412.6 L1380.8,412.6 L1381.5,412.6 L1382.2,412.6 L1382.9,412.6 L1383.6,412.7 L1384.3,412.7 L1385.0,412.7 L1385.7,412.7 L1386.4,412.7 L1387.1,412.7 L1387.8,412.7 L1388.5,412.7 L1389.2,412.7 L1389.20,413.00 L1175.00,413.30 Z" fill="url(#hb)"/>
<path d="M1175.0,413.3 L1175.7,413.3 L1176.4,413.3 L1177.1,413.3 L1177.8,413.3 L1178.5,413.3 L1179.2,413.3 L1179.9,413.3 L1180.6,413.3 L1181.3,413.3 L1182.0,413.3 L1182.7,413.3 L1183.4,413.2 L1184.1,413.2 L1184.8,413.2 L1185.5,413.2 L1186.2,413.2 L1186.9,413.2 L1187.6,413.2 L1188.3,413.2 L1189.0,413.2 L1189.7,413.2 L1190.4,413.2 L1191.1,413.2 L1191.8,413.2 L1192.5,413.2 L1193.2,413.2 L1193.9,413.2 L1194.6,413.2 L1195.3,413.2 L1196.0,413.2 L1196.7,413.2 L1197.4,413.2 L1198.1,413.2 L1198.8,413.2 L1199.5,413.2 L1200.2,413.2 L1200.9,413.2 L1201.6,413.2 L1202.3,413.2 L1203.0,413.2 L1203.7,413.2 L1204.4,413.2 L1205.1,413.2 L1205.8,413.2 L1206.5,413.2 L1207.2,413.2 L1207.9,413.2 L1208.6,413.2 L1209.3,413.2 L1210.0,413.2 L1210.7,413.2 L1211.4,413.2 L1212.1,413.2 L1212.8,413.2 L1213.5,413.2 L1214.2,413.2 L1214.9,413.2 L1215.6,413.2 L1216.3,413.2 L1217.0,413.2 L1217.7,413.2 L1218.4,413.2 L1219.1,413.2 L1219.8,413.2 L1220.5,413.2 L1221.2,413.2 L1221.9,413.2 L1222.6,413.2 L1223.3,413.2 L1224.0,413.1 L1224.7,413.1 L1225.4,413.1 L1226.1,413.1 L1226.8,413.1 L1227.5,413.1 L1228.2,413.1 L1228.9,413.1 L1229.6,413.1 L1230.3,413.1 L1231.0,413.1 L1231.7,413.1 L1232.4,413.1 L1233.1,413.1 L1233.8,413.1 L1234.5,413.1 L1235.2,413.1 L1235.9,413.1 L1236.6,413.1 L1237.3,413.1 L1238.0,413.1 L1238.7,413.1 L1239.4,413.1 L1240.1,413.1 L1240.8,413.1 L1241.5,413.1 L1242.2,413.1 L1242.9,413.1 L1243.6,413.1 L1244.3,413.1 L1245.0,413.1 L1245.7,413.1 L1246.4,413.1 L1247.1,413.1 L1247.8,413.0 L1248.5,413.0 L1249.2,413.0 L1249.9,413.0 L1250.6,413.0 L1251.3,413.0 L1252.0,413.0 L1252.7,413.0 L1253.4,413.0 L1254.1,413.0 L1254.8,413.0 L1255.5,413.0 L1256.2,413.0 L1256.9,413.0 L1257.6,413.0 L1258.3,413.0 L1259.0,413.0 L1259.7,413.0 L1260.4,413.0 L1261.1,412.9 L1261.8,412.9 L1262.5,412.9 L1263.2,412.9 L1263.9,412.9 L1264.6,412.9 L1265.3,412.9 L1266.0,412.9 L1266.7,412.9 L1267.4,412.9 L1268.1,412.9 L1268.8,412.9 L1269.5,412.8 L1270.2,412.8 L1270.9,412.8 L1271.6,412.8 L1272.3,412.8 L1273.0,412.8 L1273.7,412.8 L1274.4,412.7 L1275.1,412.7 L1275.8,412.7 L1276.5,412.7 L1277.2,412.6 L1277.9,412.6 L1278.6,412.6 L1279.3,412.5 L1280.0,412.5 L1280.7,412.4 L1281.4,412.4 L1282.1,412.3 L1282.8,412.2 L1283.5,412.1 L1284.2,412.0 L1284.9,411.9 L1285.6,411.8 L1286.3,411.6 L1287.0,411.5 L1287.7,411.3 L1288.4,411.1 L1289.1,410.8 L1289.8,410.6 L1290.5,410.3 L1291.2,410.0 L1291.9,409.6 L1292.6,409.2 L1293.3,408.8 L1294.0,408.3 L1294.7,407.8 L1295.4,407.3 L1296.1,406.7 L1296.8,406.1 L1297.5,405.5 L1298.2,404.8 L1298.9,404.1 L1299.6,403.4 L1300.3,402.6 L1301.0,401.8 L1301.7,401.0 L1302.4,400.2 L1303.1,399.4 L1303.8,398.6 L1304.5,397.8 L1305.2,397.0 L1305.9,396.3 L1306.6,395.6 L1307.3,394.9 L1308.0,394.3 L1308.7,393.7 L1309.4,393.2 L1310.1,392.8 L1310.8,392.5 L1311.5,392.3 L1312.2,392.1 L1312.9,392.1 L1313.6,392.2 L1314.3,392.3 L1315.0,392.6 L1315.7,392.9 L1316.4,393.4 L1317.1,393.9 L1317.8,394.4 L1318.5,395.1 L1319.2,395.8 L1319.9,396.5 L1320.6,397.2 L1321.3,398.0 L1322.0,398.8 L1322.7,399.6 L1323.4,400.4 L1324.1,401.2 L1324.8,402.0 L1325.5,402.8 L1326.2,403.6 L1326.9,404.3 L1327.6,405.0 L1328.3,405.6 L1329.0,406.3 L1329.7,406.9 L1330.4,407.4 L1331.1,407.9 L1331.8,408.4 L1332.5,408.9 L1333.2,409.3 L1333.9,409.7 L1334.6,410.0 L1335.3,410.3 L1336.0,410.6 L1336.7,410.8 L1337.4,411.1 L1338.1,411.3 L1338.8,411.4 L1339.5,411.6 L1340.2,411.7 L1340.9,411.9 L1341.6,412.0 L1342.3,412.1 L1343.0,412.2 L1343.7,412.2 L1344.4,412.3 L1345.1,412.4 L1345.8,412.4 L1346.5,412.4 L1347.2,412.5 L1347.9,412.5 L1348.6,412.5 L1349.3,412.6 L1350.0,412.6 L1350.7,412.6 L1351.4,412.6 L1352.1,412.6 L1352.8,412.7 L1353.5,412.7 L1354.2,412.7 L1354.9,412.7 L1355.6,412.7 L1356.3,412.7 L1357.0,412.7 L1357.7,412.7 L1358.4,412.7 L1359.1,412.8 L1359.8,412.8 L1360.5,412.8 L1361.2,412.8 L1361.9,412.8 L1362.6,412.8 L1363.3,412.8 L1364.0,412.8 L1364.7,412.8 L1365.4,412.8 L1366.1,412.8 L1366.8,412.8 L1367.5,412.8 L1368.2,412.8 L1368.9,412.8 L1369.6,412.8 L1370.3,412.8 L1371.0,412.8 L1371.7,412.8 L1372.4,412.8 L1373.1,412.8 L1373.8,412.9 L1374.5,412.9 L1375.2,412.9 L1375.9,412.9 L1376.6,412.9 L1377.3,412.9 L1378.0,412.9 L1378.7,412.9 L1379.4,412.9 L1380.1,412.9 L1380.8,412.9 L1381.5,412.9 L1382.2,412.9 L1382.9,412.9 L1383.6,412.9 L1384.3,412.9 L1385.0,412.9 L1385.7,412.9 L1386.4,412.9 L1387.1,412.9 L1387.8,412.9 L1388.5,412.9 L1389.2,412.9 L1389.20,413.00 L1175.00,413.30 Z" fill="rgb(232,140,17)" fill-opacity="0.65" stroke="#b06010" stroke-width="0.6"/>
<path d="M1175.0,413.3 L1175.7,413.3 L1176.4,413.3 L1177.1,413.3 L1177.8,413.3 L1178.5,413.3 L1179.2,413.3 L1179.9,413.3 L1180.6,413.3 L1181.3,413.3 L1182.0,413.3 L1182.7,413.3 L1183.4,413.2 L1184.1,413.2 L1184.8,413.2 L1185.5,413.2 L1186.2,413.2 L1186.9,413.2 L1187.6,413.2 L1188.3,413.2 L1189.0,413.2 L1189.7,413.2 L1190.4,413.2 L1191.1,413.2 L1191.8,413.2 L1192.5,413.2 L1193.2,413.2 L1193.9,413.2 L1194.6,413.2 L1195.3,413.2 L1196.0,413.2 L1196.7,413.2 L1197.4,413.2 L1198.1,413.2 L1198.8,413.2 L1199.5,413.2 L1200.2,413.2 L1200.9,413.2 L1201.6,413.2 L1202.3,413.2 L1203.0,413.2 L1203.7,413.2 L1204.4,413.2 L1205.1,413.2 L1205.8,413.2 L1206.5,413.2 L1207.2,413.2 L1207.9,413.2 L1208.6,413.2 L1209.3,413.2 L1210.0,413.2 L1210.7,413.2 L1211.4,413.2 L1212.1,413.2 L1212.8,413.2 L1213.5,413.2 L1214.2,413.2 L1214.9,413.2 L1215.6,413.2 L1216.3,413.2 L1217.0,413.2 L1217.7,413.2 L1218.4,413.2 L1219.1,413.2 L1219.8,413.2 L1220.5,413.2 L1221.2,413.2 L1221.9,413.2 L1222.6,413.2 L1223.3,413.2 L1224.0,413.1 L1224.7,413.1 L1225.4,413.1 L1226.1,413.1 L1226.8,413.1 L1227.5,413.1 L1228.2,413.1 L1228.9,413.1 L1229.6,413.1 L1230.3,413.1 L1231.0,413.1 L1231.7,413.1 L1232.4,413.1 L1233.1,413.1 L1233.8,413.1 L1234.5,413.1 L1235.2,413.1 L1235.9,413.1 L1236.6,413.1 L1237.3,413.1 L1238.0,413.1 L1238.7,413.1 L1239.4,413.1 L1240.1,413.1 L1240.8,413.1 L1241.5,413.1 L1242.2,413.1 L1242.9,413.1 L1243.6,413.1 L1244.3,413.1 L1245.0,413.1 L1245.7,413.1 L1246.4,413.1 L1247.1,413.1 L1247.8,413.0 L1248.5,413.0 L1249.2,413.0 L1249.9,413.0 L1250.6,413.0 L1251.3,413.0 L1252.0,413.0 L1252.7,413.0 L1253.4,413.0 L1254.1,413.0 L1254.8,413.0 L1255.5,413.0 L1256.2,413.0 L1256.9,413.0 L1257.6,413.0 L1258.3,413.0 L1259.0,413.0 L1259.7,413.0 L1260.4,413.0 L1261.1,412.9 L1261.8,412.9 L1262.5,412.9 L1263.2,412.9 L1263.9,412.9 L1264.6,412.9 L1265.3,412.9 L1266.0,412.9 L1266.7,412.9 L1267.4,412.9 L1268.1,412.9 L1268.8,412.9 L1269.5,412.8 L1270.2,412.8 L1270.9,412.8 L1271.6,412.8 L1272.3,412.8 L1273.0,412.8 L1273.7,412.8 L1274.4,412.7 L1275.1,412.7 L1275.8,412.7 L1276.5,412.7 L1277.2,412.6 L1277.9,412.6 L1278.6,412.6 L1279.3,412.5 L1280.0,412.5 L1280.7,412.4 L1281.4,412.4 L1282.1,412.3 L1282.8,412.2 L1283.5,412.1 L1284.2,412.0 L1284.9,411.9 L1285.6,411.8 L1286.3,411.6 L1287.0,411.5 L1287.7,411.3 L1288.4,411.1 L1289.1,410.8 L1289.8,410.6 L1290.5,410.3 L1291.2,410.0 L1291.9,409.6 L1292.6,409.2 L1293.3,408.8 L1294.0,408.3 L1294.7,407.8 L1295.4,407.3 L1296.1,406.7 L1296.8,406.1 L1297.5,405.5 L1298.2,404.8 L1298.9,404.1 L1299.6,403.4 L1300.3,402.6 L1301.0,401.8 L1301.7,401.0 L1302.4,400.2 L1303.1,399.4 L1303.8,398.6 L1304.5,397.8 L1305.2,397.0 L1305.9,396.3 L1306.6,395.6 L1307.3,394.9 L1308.0,394.3 L1308.7,393.7 L1309.4,393.2 L1310.1,392.8 L1310.8,392.5 L1311.5,392.3 L1312.2,392.1 L1312.9,392.1 L1313.6,392.2 L1314.3,392.3 L1315.0,392.6 L1315.7,392.9 L1316.4,393.4 L1317.1,393.9 L1317.8,394.4 L1318.5,395.1 L1319.2,395.8 L1319.9,396.5 L1320.6,397.2 L1321.3,398.0 L1322.0,398.8 L1322.7,399.6 L1323.4,400.4 L1324.1,401.2 L1324.8,402.0 L1325.5,402.8 L1326.2,403.6 L1326.9,404.3 L1327.6,405.0 L1328.3,405.6 L1329.0,406.3 L1329.7,406.9 L1330.4,407.4 L1331.1,407.9 L1331.8,408.4 L1332.5,408.9 L1333.2,409.3 L1333.9,409.7 L1334.6,410.0 L1335.3,410.3 L1336.0,410.6 L1336.7,410.8 L1337.4,411.1 L1338.1,411.3 L1338.8,411.4 L1339.5,411.6 L1340.2,411.7 L1340.9,411.9 L1341.6,412.0 L1342.3,412.1 L1343.0,412.2 L1343.7,412.2 L1344.4,412.3 L1345.1,412.4 L1345.8,412.4 L1346.5,412.4 L1347.2,412.5 L1347.9,412.5 L1348.6,412.5 L1349.3,412.6 L1350.0,412.6 L1350.7,412.6 L1351.4,412.6 L1352.1,412.6 L1352.8,412.7 L1353.5,412.7 L1354.2,412.7 L1354.9,412.7 L1355.6,412.7 L1356.3,412.7 L1357.0,412.7 L1357.7,412.7 L1358.4,412.7 L1359.1,412.8 L1359.8,412.8 L1360.5,412.8 L1361.2,412.8 L1361.9,412.8 L1362.6,412.8 L1363.3,412.8 L1364.0,412.8 L1364.7,412.8 L1365.4,412.8 L1366.1,412.8 L1366.8,412.8 L1367.5,412.8 L1368.2,412.8 L1368.9,412.8 L1369.6,412.8 L1370.3,412.8 L1371.0,412.8 L1371.7,412.8 L1372.4,412.8 L1373.1,412.8 L1373.8,412.9 L1374.5,412.9 L1375.2,412.9 L1375.9,412.9 L1376.6,412.9 L1377.3,412.9 L1378.0,412.9 L1378.7,412.9 L1379.4,412.9 L1380.1,412.9 L1380.8,412.9 L1381.5,412.9 L1382.2,412.9 L1382.9,412.9 L1383.6,412.9 L1384.3,412.9 L1385.0,412.9 L1385.7,412.9 L1386.4,412.9 L1387.1,412.9 L1387.8,412.9 L1388.5,412.9 L1389.2,412.9 L1389.20,413.00 L1175.00,413.30 Z" fill="url(#ho)"/>
<path d="M1175.0,413.3 L1175.7,413.3 L1176.4,413.3 L1177.1,413.3 L1177.8,413.3 L1178.5,413.3 L1179.2,413.3 L1179.9,413.3 L1180.6,413.3 L1181.3,413.3 L1182.0,413.3 L1182.7,413.3 L1183.4,413.3 L1184.1,413.3 L1184.8,413.3 L1185.5,413.3 L1186.2,413.3 L1186.9,413.3 L1187.6,413.3 L1188.3,413.3 L1189.0,413.3 L1189.7,413.3 L1190.4,413.3 L1191.1,413.3 L1191.8,413.3 L1192.5,413.3 L1193.2,413.3 L1193.9,413.2 L1194.6,413.2 L1195.3,413.2 L1196.0,413.2 L1196.7,413.2 L1197.4,413.2 L1198.1,413.2 L1198.8,413.2 L1199.5,413.2 L1200.2,413.2 L1200.9,413.2 L1201.6,413.2 L1202.3,413.2 L1203.0,413.1 L1203.7,413.1 L1204.4,413.1 L1205.1,413.1 L1205.8,413.1 L1206.5,413.1 L1207.2,413.0 L1207.9,413.0 L1208.6,413.0 L1209.3,413.0 L1210.0,412.9 L1210.7,412.9 L1211.4,412.9 L1212.1,412.8 L1212.8,412.8 L1213.5,412.7 L1214.2,412.7 L1214.9,412.6 L1215.6,412.6 L1216.3,412.5 L1217.0,412.5 L1217.7,412.4 L1218.4,412.4 L1219.1,412.3 L1219.8,412.2 L1220.5,412.2 L1221.2,412.1 L1221.9,412.0 L1222.6,411.9 L1223.3,411.8 L1224.0,411.8 L1224.7,411.7 L1225.4,411.6 L1226.1,411.5 L1226.8,411.4 L1227.5,411.3 L1228.2,411.2 L1228.9,411.1 L1229.6,411.0 L1230.3,410.9 L1231.0,410.8 L1231.7,410.7 L1232.4,410.6 L1233.1,410.5 L1233.8,410.4 L1234.5,410.3 L1235.2,410.2 L1235.9,410.1 L1236.6,410.0 L1237.3,409.9 L1238.0,409.8 L1238.7,409.8 L1239.4,409.7 L1240.1,409.6 L1240.8,409.6 L1241.5,409.5 L1242.2,409.4 L1242.9,409.4 L1243.6,409.3 L1244.3,409.3 L1245.0,409.3 L1245.7,409.2 L1246.4,409.2 L1247.1,409.2 L1247.8,409.2 L1248.5,409.2 L1249.2,409.2 L1249.9,409.2 L1250.6,409.2 L1251.3,409.3 L1252.0,409.3 L1252.7,409.3 L1253.4,409.4 L1254.1,409.4 L1254.8,409.5 L1255.5,409.6 L1256.2,409.6 L1256.9,409.7 L1257.6,409.8 L1258.3,409.9 L1259.0,409.9 L1259.7,410.0 L1260.4,410.1 L1261.1,410.2 L1261.8,410.3 L1262.5,410.4 L1263.2,410.5 L1263.9,410.6 L1264.6,410.7 L1265.3,410.8 L1266.0,410.9 L1266.7,411.0 L1267.4,411.1 L1268.1,411.2 L1268.8,411.3 L1269.5,411.4 L1270.2,411.5 L1270.9,411.6 L1271.6,411.6 L1272.3,411.7 L1273.0,411.8 L1273.7,411.9 L1274.4,412.0 L1275.1,412.0 L1275.8,412.1 L1276.5,412.2 L1277.2,412.2 L1277.9,412.3 L1278.6,412.4 L1279.3,412.4 L1280.0,412.5 L1280.7,412.5 L1281.4,412.6 L1282.1,412.6 L1282.8,412.7 L1283.5,412.7 L1284.2,412.7 L1284.9,412.8 L1285.6,412.8 L1286.3,412.8 L1287.0,412.9 L1287.7,412.9 L1288.4,412.9 L1289.1,412.9 L1289.8,412.9 L1290.5,413.0 L1291.2,413.0 L1291.9,413.0 L1292.6,413.0 L1293.3,413.0 L1294.0,413.0 L1294.7,413.0 L1295.4,413.1 L1296.1,413.1 L1296.8,413.1 L1297.5,413.1 L1298.2,413.1 L1298.9,413.1 L1299.6,413.1 L1300.3,413.1 L1301.0,413.1 L1301.7,413.1 L1302.4,413.1 L1303.1,413.1 L1303.8,413.1 L1304.5,413.1 L1305.2,413.1 L1305.9,413.1 L1306.6,413.1 L1307.3,413.1 L1308.0,413.1 L1308.7,413.1 L1309.4,413.1 L1310.1,413.1 L1310.8,413.1 L1311.5,413.1 L1312.2,413.1 L1312.9,413.1 L1313.6,413.1 L1314.3,413.1 L1315.0,413.1 L1315.7,413.1 L1316.4,413.1 L1317.1,413.1 L1317.8,413.1 L1318.5,413.1 L1319.2,413.1 L1319.9,413.1 L1320.6,413.1 L1321.3,413.1 L1322.0,413.1 L1322.7,413.1 L1323.4,413.1 L1324.1,413.1 L1324.8,413.1 L1325.5,413.1 L1326.2,413.1 L1326.9,413.1 L1327.6,413.1 L1328.3,413.1 L1329.0,413.1 L1329.7,413.1 L1330.4,413.1 L1331.1,413.1 L1331.8,413.1 L1332.5,413.1 L1333.2,413.1 L1333.9,413.1 L1334.6,413.1 L1335.3,413.1 L1336.0,413.1 L1336.7,413.1 L1337.4,413.1 L1338.1,413.1 L1338.8,413.1 L1339.5,413.1 L1340.2,413.1 L1340.9,413.1 L1341.6,413.1 L1342.3,413.1 L1343.0,413.1 L1343.7,413.1 L1344.4,413.1 L1345.1,413.1 L1345.8,413.1 L1346.5,413.1 L1347.2,413.1 L1347.9,413.1 L1348.6,413.1 L1349.3,413.1 L1350.0,413.1 L1350.7,413.1 L1351.4,413.1 L1352.1,413.1 L1352.8,413.1 L1353.5,413.1 L1354.2,413.0 L1354.9,413.0 L1355.6,413.0 L1356.3,413.0 L1357.0,413.0 L1357.7,413.0 L1358.4,413.0 L1359.1,413.0 L1359.8,413.0 L1360.5,413.0 L1361.2,413.0 L1361.9,413.0 L1362.6,413.0 L1363.3,413.0 L1364.0,413.0 L1364.7,413.0 L1365.4,413.0 L1366.1,413.0 L1366.8,413.0 L1367.5,413.0 L1368.2,413.0 L1368.9,413.0 L1369.6,413.0 L1370.3,413.0 L1371.0,413.0 L1371.7,413.0 L1372.4,413.0 L1373.1,413.0 L1373.8,413.0 L1374.5,413.0 L1375.2,413.0 L1375.9,413.0" stroke="#f07010" stroke-width="1.4" fill="none"/>
<path d="M1231.0,413.2 L1231.7,413.2 L1232.4,413.2 L1233.1,413.2 L1233.8,413.2 L1234.5,413.2 L1235.2,413.2 L1235.9,413.2 L1236.6,413.2 L1237.3,413.2 L1238.0,413.2 L1238.7,413.2 L1239.4,413.2 L1240.1,413.2 L1240.8,413.2 L1241.5,413.2 L1242.2,413.2 L1242.9,413.2 L1243.6,413.2 L1244.3,413.2 L1245.0,413.2 L1245.7,413.2 L1246.4,413.2 L1247.1,413.2 L1247.8,413.2 L1248.5,413.2 L1249.2,413.2 L1249.9,413.2 L1250.6,413.2 L1251.3,413.2 L1252.0,413.2 L1252.7,413.2 L1253.4,413.2 L1254.1,413.1 L1254.8,413.1 L1255.5,413.1 L1256.2,413.0 L1256.9,412.9 L1257.6,412.8 L1258.3,412.7 L1259.0,412.5 L1259.7,412.3 L1260.4,412.1 L1261.1,411.8 L1261.8,411.5 L1262.5,411.1 L1263.2,410.7 L1263.9,410.3 L1264.6,409.9 L1265.3,409.5 L1266.0,409.1 L1266.7,408.8 L1267.4,408.5 L1268.1,408.3 L1268.8,408.2 L1269.5,408.2 L1270.2,408.2 L1270.9,408.4 L1271.6,408.6 L1272.3,409.0 L1273.0,409.3 L1273.7,409.7 L1274.4,410.1 L1275.1,410.5 L1275.8,410.9 L1276.5,411.3 L1277.2,411.7 L1277.9,412.0 L1278.6,412.2 L1279.3,412.4 L1280.0,412.6 L1280.7,412.7 L1281.4,412.9 L1282.1,412.9 L1282.8,413.0 L1283.5,413.0 L1284.2,413.1 L1284.9,413.1 L1285.6,413.1 L1286.3,413.1 L1287.0,413.1 L1287.7,413.1 L1288.4,413.1 L1289.1,413.1 L1289.8,413.1 L1290.5,413.1 L1291.2,413.1 L1291.9,413.1 L1292.6,413.1 L1293.3,413.1 L1294.0,413.1 L1294.7,413.1 L1295.4,413.1 L1296.1,413.1 L1296.8,413.1 L1297.5,413.1 L1298.2,413.1 L1298.9,413.1 L1299.6,413.1 L1300.3,413.1 L1301.0,413.1 L1301.7,413.1 L1302.4,413.1 L1303.1,413.1 L1303.8,413.1 L1304.5,413.1 L1305.2,413.1 L1305.9,413.1 L1306.6,413.1 L1307.3,413.1" stroke="#1010ff" stroke-width="1.2" fill="none"/>
<path d="M1238.7,413.2 L1239.4,413.2 L1240.1,413.2 L1240.8,413.2 L1241.5,413.2 L1242.2,413.2 L1242.9,413.2 L1243.6,413.2 L1244.3,413.2 L1245.0,413.2 L1245.7,413.2 L1246.4,413.2 L1247.1,413.2 L1247.8,413.2 L1248.5,413.2 L1249.2,413.2 L1249.9,413.2 L1250.6,413.2 L1251.3,413.2 L1252.0,413.2 L1252.7,413.2 L1253.4,413.2 L1254.1,413.2 L1254.8,413.2 L1255.5,413.2 L1256.2,413.2 L1256.9,413.2 L1257.6,413.2 L1258.3,413.2 L1259.0,413.2 L1259.7,413.2 L1260.4,413.2 L1261.1,413.2 L1261.8,413.2 L1262.5,413.2 L1263.2,413.2 L1263.9,413.2 L1264.6,413.2 L1265.3,413.1 L1266.0,413.1 L1266.7,413.1 L1267.4,413.1 L1268.1,413.0 L1268.8,413.0 L1269.5,412.9 L1270.2,412.8 L1270.9,412.7 L1271.6,412.6 L1272.3,412.4 L1273.0,412.2 L1273.7,411.9 L1274.4,411.6 L1275.1,411.3 L1275.8,410.8 L1276.5,410.4 L1277.2,409.9 L1277.9,409.3 L1278.6,408.7 L1279.3,408.1 L1280.0,407.4 L1280.7,406.7 L1281.4,406.1 L1282.1,405.4 L1282.8,404.9 L1283.5,404.3 L1284.2,403.9 L1284.9,403.5 L1285.6,403.3 L1286.3,403.2 L1287.0,403.2 L1287.7,403.3 L1288.4,403.5 L1289.1,403.8 L1289.8,404.3 L1290.5,404.8 L1291.2,405.3 L1291.9,406.0 L1292.6,406.6 L1293.3,407.3 L1294.0,407.9 L1294.7,408.6 L1295.4,409.2 L1296.1,409.8 L1296.8,410.3 L1297.5,410.8 L1298.2,411.2 L1298.9,411.5 L1299.6,411.8 L1300.3,412.1 L1301.0,412.3 L1301.7,412.5 L1302.4,412.6 L1303.1,412.8 L1303.8,412.8 L1304.5,412.9 L1305.2,413.0 L1305.9,413.0 L1306.6,413.0 L1307.3,413.1 L1308.0,413.1 L1308.7,413.1 L1309.4,413.1 L1310.1,413.1 L1310.8,413.1 L1311.5,413.1 L1312.2,413.1 L1312.9,413.1 L1313.6,413.1 L1314.3,413.1 L1315.0,413.1 L1315.7,413.1 L1316.4,413.1 L1317.1,413.1 L1317.8,413.1 L1318.5,413.1 L1319.2,413.1 L1319.9,413.1 L1320.6,413.1 L1321.3,413.1 L1322.0,413.1 L1322.7,413.1 L1323.4,413.1 L1324.1,413.1 L1324.8,413.1 L1325.5,413.1 L1326.2,413.1 L1326.9,413.1 L1327.6,413.1 L1328.3,413.1 L1329.0,413.1 L1329.7,413.1 L1330.4,413.1 L1331.1,413.1 L1331.8,413.1 L1332.5,413.1 L1333.2,413.1 L1333.9,413.1 L1334.6,413.1" stroke="#1010ff" stroke-width="1.2" fill="none"/>
<path d="M1175.0,413.3 L1175.7,413.3 L1176.4,413.3 L1177.1,413.2 L1177.8,413.2 L1178.5,413.2 L1179.2,413.2 L1179.9,413.2 L1180.6,413.1 L1181.3,413.1 L1182.0,413.1 L1182.7,413.1 L1183.4,413.0 L1184.1,413.0 L1184.8,413.0 L1185.5,412.9 L1186.2,412.9 L1186.9,412.9 L1187.6,412.8 L1188.3,412.8 L1189.0,412.8 L1189.7,412.7 L1190.4,412.7 L1191.1,412.7 L1191.8,412.6 L1192.5,412.6 L1193.2,412.6 L1193.9,412.5 L1194.6,412.5 L1195.3,412.5 L1196.0,412.4 L1196.7,412.4 L1197.4,412.3 L1198.1,412.3 L1198.8,412.2 L1199.5,412.2 L1200.2,412.2 L1200.9,412.1 L1201.6,412.1 L1202.3,412.0 L1203.0,412.0 L1203.7,411.9 L1204.4,411.9 L1205.1,411.9 L1205.8,411.8 L1206.5,411.8 L1207.2,411.7 L1207.9,411.7 L1208.6,411.6 L1209.3,411.6 L1210.0,411.5 L1210.7,411.5 L1211.4,411.4 L1212.1,411.4 L1212.8,411.3 L1213.5,411.3 L1214.2,411.2 L1214.9,411.2 L1215.6,411.1 L1216.3,411.1 L1217.0,411.0 L1217.7,410.9 L1218.4,410.9 L1219.1,410.8 L1219.8,410.7 L1220.5,410.7 L1221.2,410.6 L1221.9,410.6 L1222.6,410.5 L1223.3,410.4 L1224.0,410.3 L1224.7,410.3 L1225.4,410.2 L1226.1,410.1 L1226.8,410.1 L1227.5,410.0 L1228.2,409.9 L1228.9,409.8 L1229.6,409.8 L1230.3,409.7 L1231.0,409.6 L1231.7,409.5 L1232.4,409.5 L1233.1,409.4 L1233.8,409.3 L1234.5,409.2 L1235.2,409.1 L1235.9,409.0 L1236.6,409.0 L1237.3,408.9 L1238.0,408.8 L1238.7,408.7 L1239.4,408.6 L1240.1,408.5 L1240.8,408.5 L1241.5,408.4 L1242.2,408.3 L1242.9,408.2 L1243.6,408.1 L1244.3,408.0 L1245.0,407.9 L1245.7,407.8 L1246.4,407.7 L1247.1,407.6 L1247.8,407.5 L1248.5,407.4 L1249.2,407.3 L1249.9,407.2 L1250.6,407.1 L1251.3,407.0 L1252.0,406.8 L1252.7,406.7 L1253.4,406.6 L1254.1,406.5 L1254.8,406.4 L1255.5,406.2 L1256.2,406.1 L1256.9,406.0 L1257.6,405.9 L1258.3,405.8 L1259.0,405.6 L1259.7,405.5 L1260.4,405.4 L1261.1,405.3 L1261.8,405.2 L1262.5,405.0 L1263.2,404.9 L1263.9,404.8 L1264.6,404.7 L1265.3,404.6 L1266.0,404.4 L1266.7,404.3 L1267.4,404.2 L1268.1,404.1 L1268.8,404.0 L1269.5,403.9 L1270.2,403.8 L1270.9,403.7 L1271.6,403.6 L1272.3,403.5 L1273.0,403.4 L1273.7,403.3 L1274.4,403.2 L1275.1,403.1 L1275.8,403.0 L1276.5,402.9 L1277.2,402.7 L1277.9,402.6 L1278.6,402.5 L1279.3,402.3 L1280.0,402.2 L1280.7,402.0 L1281.4,401.7 L1282.1,401.5 L1282.8,401.2 L1283.5,400.9 L1284.2,400.5 L1284.9,400.2 L1285.6,399.9 L1286.3,399.6 L1287.0,399.3 L1287.7,399.0 L1288.4,398.8 L1289.1,398.5 L1289.8,398.3 L1290.5,398.1 L1291.2,398.0 L1291.9,397.8 L1292.6,397.6 L1293.3,397.4 L1294.0,397.2 L1294.7,397.0 L1295.4,396.8 L1296.1,396.6 L1296.8,396.3 L1297.5,396.0 L1298.2,395.7 L1298.9,395.4 L1299.6,394.9 L1300.3,394.4 L1301.0,393.8 L1301.7,393.2 L1302.4,392.5 L1303.1,391.7 L1303.8,390.9 L1304.5,390.2 L1305.2,389.4 L1305.9,388.6 L1306.6,387.8 L1307.3,386.9 L1308.0,386.0 L1308.7,385.1 L1309.4,384.2 L1310.1,383.2 L1310.8,382.1 L1311.5,381.1 L1312.2,380.0 L1312.9,378.8 L1313.6,377.7 L1314.3,376.4 L1315.0,375.1 L1315.7,373.8 L1316.4,372.4 L1317.1,371.0 L1317.8,369.5 L1318.5,367.9 L1319.2,366.4 L1319.9,364.6 L1320.6,362.5 L1321.3,360.1 L1322.0,357.5 L1322.7,354.9 L1323.4,352.4 L1324.1,350.1 L1324.8,348.2 L1325.5,346.8 L1326.2,346.0 L1326.9,346.0 L1327.6,347.2 L1328.3,349.3 L1329.0,352.1 L1329.7,355.2 L1330.4,358.5 L1331.1,361.5 L1331.8,364.3 L1332.5,367.3 L1333.2,370.5 L1333.9,373.7 L1334.6,376.8 L1335.3,379.8 L1336.0,382.9 L1336.7,386.1 L1337.4,389.1 L1338.1,391.8 L1338.8,394.1 L1339.5,395.9 L1340.2,397.6 L1340.9,399.2 L1341.6,400.7 L1342.3,402.0 L1343.0,403.2 L1343.7,404.3 L1344.4,405.3 L1345.1,406.1 L1345.8,406.7 L1346.5,407.3 L1347.2,407.9 L1347.9,408.5 L1348.6,409.0 L1349.3,409.4 L1350.0,409.8 L1350.7,410.2 L1351.4,410.5 L1352.1,410.8 L1352.8,411.0 L1353.5,411.2 L1354.2,411.3 L1354.9,411.4 L1355.6,411.5 L1356.3,411.6 L1357.0,411.7 L1357.7,411.8 L1358.4,411.8 L1359.1,411.9 L1359.8,412.0 L1360.5,412.1 L1361.2,412.1 L1361.9,412.2 L1362.6,412.2 L1363.3,412.3 L1364.0,412.3 L1364.7,412.4 L1365.4,412.4 L1366.1,412.5 L1366.8,412.5 L1367.5,412.5 L1368.2,412.6 L1368.9,412.6 L1369.6,412.6 L1370.3,412.6 L1371.0,412.7 L1371.7,412.7 L1372.4,412.7 L1373.1,412.7 L1373.8,412.7 L1374.5,412.8 L1375.2,412.8 L1375.9,412.8 L1376.6,412.8 L1377.3,412.8 L1378.0,412.9 L1378.7,412.9 L1379.4,412.9 L1380.1,412.9 L1380.8,412.9 L1381.5,412.9 L1382.2,412.9 L1382.9,413.0 L1383.6,413.0 L1384.3,413.0 L1385.0,413.0 L1385.7,413.0 L1386.4,413.0 L1387.1,413.0 L1387.8,413.0 L1388.5,413.0 L1389.2,413.0" stroke="#ff20ff" stroke-width="1.3" fill="none"/>
<path d="M776.0,524.00 L1100.0,531.50" stroke="#7d7d7d" stroke-width="1.9" stroke-dasharray="9.5,9.6" fill="none"/>
<path d="M1175.0,532.00 L1389.5,532.00" stroke="#7d7d7d" stroke-width="1.9" stroke-dasharray="9.5,9.6" fill="none"/>
<path d="M888.7,522.8 L889.4,522.8 L890.1,522.8 L890.8,522.8 L891.5,522.8 L892.2,522.7 L892.9,522.7 L893.6,522.6 L894.3,522.6 L895.0,522.5 L895.7,522.4 L896.4,522.3 L897.1,522.2 L897.8,522.1 L898.5,522.0 L899.2,521.8 L899.9,521.5 L900.6,521.3 L901.3,520.9 L902.0,520.5 L902.7,519.9 L903.4,519.2 L904.1,518.4 L904.8,517.3 L905.5,516.0 L906.2,514.4 L906.9,512.6 L907.6,510.3 L908.3,507.8 L909.0,504.8 L909.7,501.4 L910.4,497.6 L911.1,493.4 L911.8,488.9 L912.5,484.2 L913.2,479.2 L913.9,474.2 L914.6,469.2 L915.3,464.5 L916.0,460.1 L916.7,456.3 L917.4,453.4 L918.1,451.4 L918.8,450.5 L919.5,450.8 L920.2,452.2 L920.9,454.7 L921.6,458.0 L922.3,462.1 L923.0,466.7 L923.7,471.6 L924.4,476.6 L925.1,481.7 L925.8,486.6 L926.5,491.3 L927.2,495.7 L927.9,499.8 L928.6,503.4 L929.3,506.7 L930.0,509.6 L930.7,512.0 L931.4,514.1 L932.1,515.9 L932.8,517.4 L933.5,518.6 L934.2,519.7 L934.9,520.5 L935.6,521.2 L936.3,521.7 L937.0,522.2 L937.7,522.5 L938.4,522.8 L939.1,523.1 L939.8,523.3 L940.5,523.5 L941.2,523.7 L941.9,523.8 L942.6,524.0 L943.3,524.1 L944.0,524.2 L944.7,524.3 L945.4,524.4 L946.1,524.5 L946.8,524.6 L947.5,524.7 L948.2,524.7 L948.9,524.8 L949.6,524.9 L949.60,528.02 L888.70,526.61 Z" fill="rgb(200,200,200)" fill-opacity="0.7" stroke="#8a8a8a" stroke-width="0.8"/>
<path d="M983.9,525.3 L984.6,525.3 L985.3,525.2 L986.0,525.0 L986.7,524.9 L987.4,524.8 L988.1,524.6 L988.8,524.4 L989.5,524.2 L990.2,523.9 L990.9,523.5 L991.6,523.0 L992.3,522.4 L993.0,521.5 L993.7,520.4 L994.4,518.8 L995.1,516.6 L995.8,513.8 L996.5,510.0 L997.2,505.2 L997.9,499.1 L998.6,491.9 L999.3,483.4 L1000.0,473.8 L1000.7,463.3 L1001.4,452.5 L1002.1,441.8 L1002.8,432.1 L1003.5,424.2 L1004.2,419.1 L1004.9,417.3 L1005.6,419.1 L1006.3,424.3 L1007.0,432.3 L1007.7,442.0 L1008.4,452.7 L1009.1,463.6 L1009.8,474.1 L1010.5,483.8 L1011.2,492.3 L1011.9,499.6 L1012.6,505.7 L1013.3,510.6 L1014.0,514.4 L1014.7,517.3 L1015.4,519.5 L1016.1,521.2 L1016.8,522.4 L1017.5,523.3 L1018.2,524.0 L1018.9,524.5 L1019.6,524.9 L1020.3,525.3 L1021.0,525.6 L1021.7,525.8 L1022.4,526.0 L1023.1,526.2 L1023.8,526.4 L1024.5,526.6 L1025.2,526.7 L1025.9,526.9 L1025.90,529.78 L983.90,528.81 Z" fill="rgb(200,200,200)" fill-opacity="0.7" stroke="#8a8a8a" stroke-width="0.8"/>
<path d="M776.0,520.1 L776.7,517.5 L777.4,515.3 L778.1,512.0 L778.8,509.7 L779.5,506.6 L780.2,504.9 L780.9,501.5 L781.6,499.0 L782.3,495.0 L783.0,492.7 L783.7,489.2 L784.4,486.9 L785.1,484.3 L785.8,481.0 L786.5,478.9 L787.2,476.6 L787.9,474.3 L788.6,472.5 L789.3,470.5 L790.0,468.8 L790.7,468.1 L791.4,467.2 L792.1,465.5 L792.8,464.8 L793.5,464.2 L794.2,463.7 L794.9,463.4 L795.6,464.1 L796.3,464.5 L797.0,465.0 L797.7,465.4 L798.4,466.9 L799.1,467.6 L799.8,467.6 L800.5,468.4 L801.2,469.6 L801.9,469.7 L802.6,471.0 L803.3,471.8 L804.0,472.5 L804.7,473.6 L805.4,474.1 L806.1,475.3 L806.8,475.7 L807.5,478.1 L808.2,478.7 L808.9,479.4 L809.6,479.9 L810.3,481.0 L811.0,482.0 L811.7,482.7 L812.4,483.5 L813.1,483.6 L813.8,484.7 L814.5,484.9 L815.2,485.1 L815.9,485.4 L816.6,486.3 L817.3,486.8 L818.0,486.2 L818.7,487.5 L819.4,487.6 L820.1,487.2 L820.8,487.4 L821.5,487.8 L822.2,488.4 L822.9,488.2 L823.6,488.3 L824.3,489.1 L825.0,488.6 L825.7,489.7 L826.4,490.5 L827.1,490.6 L827.8,491.2 L828.5,491.5 L829.2,492.0 L829.9,492.3 L830.6,492.5 L831.3,493.2 L832.0,493.9 L832.7,495.0 L833.4,495.7 L834.1,496.0 L834.8,496.3 L835.5,497.0 L836.2,497.9 L836.9,499.2 L837.6,499.5 L838.3,500.1 L839.0,500.5 L839.7,501.8 L840.4,502.3 L841.1,502.9 L841.8,503.7 L842.5,505.0 L843.2,505.1 L843.9,506.5 L844.6,507.1 L845.3,507.4 L846.0,508.4 L846.7,508.8 L847.4,509.2 L848.1,510.1 L848.8,510.5 L849.5,511.5 L850.2,511.9 L850.9,512.6 L851.6,513.2 L852.3,512.3 L853.0,514.0 L853.7,513.7 L854.4,514.8 L855.1,514.9 L855.8,515.7 L856.5,516.5 L857.2,515.8 L857.9,516.9 L858.6,517.1 L859.3,516.8 L860.0,518.0 L860.7,518.1 L861.4,518.2 L862.1,518.4 L862.8,520.0 L863.5,519.0 L864.2,518.8 L864.9,519.3 L865.6,519.8 L866.3,520.0 L867.0,520.3 L867.7,520.2 L868.4,521.0 L869.1,520.8 L869.8,520.7 L870.5,521.1 L871.2,521.4 L871.9,522.0 L872.6,522.0 L873.3,521.8 L874.0,522.1 L874.7,522.2 L875.4,523.0 L876.1,522.1 L876.8,522.5 L877.5,522.7 L878.2,522.2 L878.9,522.6 L879.6,522.6 L880.3,522.5 L881.0,522.8 L881.7,523.0 L882.4,523.1 L883.1,522.7 L883.8,522.8 L884.5,523.6 L885.2,522.4 L885.9,522.9 L886.6,523.1 L887.3,522.8 L888.0,523.0 L888.7,522.8 L889.4,523.0 L890.1,523.2 L890.8,522.6 L891.5,522.8 L892.2,522.6 L892.9,522.5 L893.6,522.6 L894.3,522.1 L895.0,522.7 L895.7,523.0 L896.4,522.9 L897.1,522.6 L897.8,521.7 L898.5,522.4 L899.2,521.5 L899.9,521.5 L900.6,521.8 L901.3,520.5 L902.0,520.7 L902.7,519.9 L903.4,519.1 L904.1,518.0 L904.8,517.4 L905.5,515.8 L906.2,514.7 L906.9,512.9 L907.6,509.8 L908.3,507.5 L909.0,504.6 L909.7,500.9 L910.4,497.1 L911.1,493.4 L911.8,488.8 L912.5,483.5 L913.2,478.9 L913.9,474.3 L914.6,468.7 L915.3,464.0 L916.0,460.6 L916.7,456.7 L917.4,452.7 L918.1,450.8 L918.8,450.5 L919.5,450.3 L920.2,452.0 L920.9,454.4 L921.6,458.1 L922.3,461.1 L923.0,465.8 L923.7,471.0 L924.4,476.9 L925.1,481.5 L925.8,485.9 L926.5,491.4 L927.2,495.9 L927.9,499.6 L928.6,503.2 L929.3,506.7 L930.0,509.8 L930.7,511.9 L931.4,514.2 L932.1,515.8 L932.8,517.1 L933.5,518.2 L934.2,519.6 L934.9,520.2 L935.6,520.9 L936.3,521.9 L937.0,522.2 L937.7,522.7 L938.4,522.1 L939.1,523.1 L939.8,522.9 L940.5,523.0 L941.2,523.2 L941.9,524.1 L942.6,524.1 L943.3,523.6 L944.0,523.6 L944.7,524.1 L945.4,524.0 L946.1,524.8 L946.8,523.8 L947.5,523.8 L948.2,524.4 L948.9,524.6 L949.6,524.7 L950.3,525.0 L951.0,525.5 L951.7,524.7 L952.4,524.7 L953.1,524.3 L953.8,525.0 L954.5,525.3 L955.2,524.9 L955.9,525.5 L956.6,525.1 L957.3,525.7 L958.0,525.3 L958.7,524.9 L959.4,525.0 L960.1,524.8 L960.8,524.7 L961.5,525.4 L962.2,525.7 L962.9,526.1 L963.6,525.4 L964.3,525.4 L965.0,525.1 L965.7,525.8 L966.4,525.6 L967.1,525.3 L967.8,525.8 L968.5,525.7 L969.2,524.9 L969.9,525.8 L970.6,525.6 L971.3,525.4 L972.0,525.4 L972.7,526.2 L973.4,526.1 L974.1,526.2 L974.8,525.1 L975.5,525.3 L976.2,525.8 L976.9,525.1 L977.6,525.2 L978.3,524.8 L979.0,526.1 L979.7,525.8 L980.4,525.5 L981.1,525.4 L981.8,525.1 L982.5,525.1 L983.2,525.4 L983.9,524.8 L984.6,525.4 L985.3,524.7 L986.0,524.5 L986.7,525.1 L987.4,524.5 L988.1,524.6 L988.8,524.0 L989.5,523.2 L990.2,523.8 L990.9,522.8 L991.6,523.2 L992.3,521.7 L993.0,520.7 L993.7,520.3 L994.4,518.7 L995.1,516.5 L995.8,513.1 L996.5,510.1 L997.2,504.5 L997.9,498.8 L998.6,491.4 L999.3,483.1 L1000.0,473.9 L1000.7,462.9 L1001.4,452.5 L1002.1,441.9 L1002.8,431.4 L1003.5,423.7 L1004.2,418.8 L1004.9,416.9 L1005.6,419.1 L1006.3,423.5 L1007.0,432.4 L1007.7,442.1 L1008.4,452.5 L1009.1,463.0 L1009.8,474.0 L1010.5,483.5 L1011.2,492.4 L1011.9,499.5 L1012.6,505.8 L1013.3,510.3 L1014.0,514.8 L1014.7,516.4 L1015.4,519.1 L1016.1,521.2 L1016.8,521.8 L1017.5,523.5 L1018.2,523.5 L1018.9,524.4 L1019.6,524.5 L1020.3,525.0 L1021.0,525.5 L1021.7,525.7 L1022.4,525.8 L1023.1,526.9 L1023.8,526.3 L1024.5,526.1 L1025.2,526.9 L1025.9,527.0 L1026.6,527.3 L1027.3,527.6 L1028.0,526.8 L1028.7,527.6 L1029.4,527.7 L1030.1,527.4 L1030.8,527.6 L1031.5,526.6 L1032.2,527.5 L1032.9,528.4 L1033.6,527.2 L1034.3,527.7 L1035.0,528.1 L1035.7,528.2 L1036.4,528.7 L1037.1,527.6 L1037.8,528.2 L1038.5,528.6 L1039.2,527.9 L1039.9,528.4 L1040.6,529.1 L1041.3,529.0 L1042.0,528.7 L1042.7,527.7 L1043.4,528.6 L1044.1,528.8 L1044.8,528.6 L1045.5,528.8 L1046.2,529.9 L1046.9,528.8 L1047.6,528.6 L1048.3,529.1 L1049.0,528.9 L1049.7,528.9 L1050.4,529.1 L1051.1,529.4 L1051.8,529.3 L1052.5,528.8 L1053.2,529.2 L1053.9,529.5 L1054.6,529.2 L1055.3,529.8 L1056.0,529.7 L1056.7,529.1 L1057.4,529.6 L1058.1,530.2 L1058.8,530.1 L1059.5,529.6 L1060.2,530.0 L1060.9,529.5 L1061.6,529.2 L1062.3,530.0 L1063.0,529.9 L1063.7,530.0 L1064.4,529.9 L1065.1,530.0 L1065.8,529.8 L1066.5,530.2 L1067.2,530.3 L1067.9,530.1 L1068.6,530.4 L1069.3,529.5 L1070.0,529.9 L1070.7,530.8 L1071.4,530.9 L1072.1,530.4 L1072.8,530.3 L1073.5,530.0 L1074.2,530.6 L1074.9,530.7 L1075.6,530.0 L1076.3,530.7 L1077.0,530.7 L1077.7,530.8 L1078.4,530.3 L1079.1,530.9 L1079.8,530.2 L1080.5,531.3 L1081.2,530.8 L1081.9,530.4 L1082.6,531.3 L1083.3,531.3 L1084.0,530.7 L1084.7,531.7 L1085.4,530.6 L1086.1,531.1 L1086.8,531.4 L1087.5,530.3 L1088.2,531.4 L1088.9,531.1 L1089.6,531.1 L1090.3,530.8 L1091.0,531.3 L1091.7,530.8 L1092.4,530.9 L1093.1,531.1 L1093.8,530.8 L1094.5,531.8 L1095.2,530.8 L1095.9,531.0 L1096.6,531.2 L1097.3,531.3 L1098.0,531.6 L1098.7,531.6 L1099.4,531.3 L1100.1,531.2 L1100.8,531.4 L1101.5,531.7 L1102.2,531.7 L1102.9,531.2 L1103.6,530.7 L1104.3,532.2 L1105.0,531.8 L1105.7,531.6 L1106.4,531.6 L1107.1,531.3 L1107.8,531.1 L1108.5,531.4 L1109.2,531.4 L1109.9,531.3 L1110.6,531.0 L1111.3,531.4 L1112.0,531.7 L1112.7,531.4 L1113.4,531.6 L1114.1,530.8 L1114.8,531.5 L1115.5,531.5 L1116.2,531.2 L1116.9,531.0 L1117.6,531.7 L1118.3,531.3 L1119.0,531.8 L1119.7,531.5 L1120.4,531.9 L1121.1,531.5 L1121.8,531.1 L1122.5,531.6 L1123.2,531.6 L1123.9,531.9 L1124.6,531.5 L1125.3,531.5 L1126.0,532.0 L1126.7,532.1 L1127.4,532.0 L1128.1,532.1 L1128.8,531.9 L1129.5,532.0 L1130.2,532.0 L1130.9,531.9 L1131.6,531.8 L1132.3,531.8 L1133.0,532.6 L1133.7,531.8 L1134.4,531.7 L1135.1,531.6 L1135.8,531.8 L1136.5,531.9 L1137.2,531.4 L1137.9,531.1 L1138.6,531.9 L1139.3,531.2 L1140.0,531.9 L1140.7,531.9 L1141.4,532.2 L1142.1,532.4 L1142.8,532.0 L1143.5,531.6 L1144.2,531.4 L1144.9,531.6 L1145.6,531.9 L1146.3,531.1 L1147.0,531.9 L1147.7,531.9 L1148.4,532.1 L1149.1,531.8 L1149.8,531.9 L1150.5,531.6 L1151.2,531.7 L1151.9,531.3 L1152.6,531.9 L1153.3,532.4 L1154.0,532.0 L1154.7,532.0 L1155.4,531.6 L1156.1,532.4 L1156.8,531.6 L1157.5,532.2 L1158.2,532.0 L1158.9,531.6 L1159.6,532.3 L1160.3,531.9 L1161.0,532.0 L1161.7,532.1 L1162.4,531.9 L1163.1,531.8 L1163.8,532.1 L1164.5,531.8 L1165.2,532.0 L1165.9,531.7 L1166.6,531.4 L1167.3,531.7 L1168.0,531.8 L1168.7,532.0 L1169.4,532.4 L1170.1,531.4 L1170.8,532.0 L1171.5,531.2 L1172.2,531.6 L1172.9,531.8 L1173.6,531.2 L1174.3,531.3 L1175.0,532.0 L1175.7,532.0 L1176.4,531.9 L1177.1,531.7 L1177.8,532.7 L1178.5,531.9 L1179.2,531.7 L1179.9,532.5 L1180.6,532.2 L1181.3,531.8 L1182.0,532.4 L1182.7,532.0 L1183.4,532.2 L1184.1,532.0 L1184.8,531.6 L1185.5,532.3 L1186.2,532.0 L1186.9,531.6 L1187.6,531.7 L1188.3,532.3 L1189.0,531.8 L1189.7,531.9 L1190.4,532.1 L1191.1,532.0 L1191.8,531.4 L1192.5,532.1 L1193.2,532.2 L1193.9,532.2 L1194.6,532.4 L1195.3,532.0 L1196.0,532.1 L1196.7,532.4 L1197.4,531.8 L1198.1,532.5 L1198.8,532.5 L1199.5,532.1 L1200.2,532.5 L1200.9,532.1 L1201.6,531.5 L1202.3,532.2 L1203.0,531.9 L1203.7,531.9 L1204.4,531.8 L1205.1,532.3 L1205.8,532.0 L1206.5,531.5 L1207.2,531.9 L1207.9,532.0 L1208.6,531.5 L1209.3,531.6 L1210.0,531.6 L1210.7,531.5 L1211.4,531.8 L1212.1,532.0 L1212.8,532.3 L1213.5,532.1 L1214.2,532.0 L1214.9,532.0 L1215.6,532.1 L1216.3,531.5 L1217.0,531.9 L1217.7,531.7 L1218.4,531.5 L1219.1,531.4 L1219.8,531.4 L1220.5,531.5 L1221.2,531.1 L1221.9,531.7 L1222.6,531.5 L1223.3,531.5 L1224.0,531.6 L1224.7,531.7 L1225.4,531.3 L1226.1,531.4 L1226.8,530.9 L1227.5,530.6 L1228.2,530.7 L1228.9,531.9 L1229.6,530.7 L1230.3,531.5 L1231.0,531.9 L1231.7,531.2 L1232.4,531.9 L1233.1,531.9 L1233.8,531.6 L1234.5,532.1 L1235.2,531.4 L1235.9,530.9 L1236.6,531.3 L1237.3,531.0 L1238.0,530.6 L1238.7,530.6 L1239.4,531.8 L1240.1,530.8 L1240.8,530.9 L1241.5,530.7 L1242.2,530.9 L1242.9,530.7 L1243.6,530.6 L1244.3,530.3 L1245.0,530.2 L1245.7,530.3 L1246.4,530.6 L1247.1,531.2 L1247.8,530.8 L1248.5,531.0 L1249.2,530.5 L1249.9,530.2 L1250.6,529.7 L1251.3,530.1 L1252.0,529.3 L1252.7,529.9 L1253.4,530.5 L1254.1,529.9 L1254.8,530.1 L1255.5,529.5 L1256.2,529.1 L1256.9,529.3 L1257.6,529.2 L1258.3,529.6 L1259.0,529.7 L1259.7,528.6 L1260.4,528.6 L1261.1,528.4 L1261.8,528.2 L1262.5,527.7 L1263.2,527.9 L1263.9,527.8 L1264.6,527.6 L1265.3,526.8 L1266.0,527.0 L1266.7,526.3 L1267.4,527.0 L1268.1,526.1 L1268.8,526.2 L1269.5,526.0 L1270.2,525.8 L1270.9,525.5 L1271.6,525.2 L1272.3,526.3 L1273.0,525.6 L1273.7,525.5 L1274.4,526.0 L1275.1,525.1 L1275.8,525.2 L1276.5,524.9 L1277.2,525.2 L1277.9,524.9 L1278.6,524.7 L1279.3,524.4 L1280.0,524.5 L1280.7,524.7 L1281.4,523.5 L1282.1,524.2 L1282.8,524.0 L1283.5,524.0 L1284.2,523.4 L1284.9,524.3 L1285.6,523.8 L1286.3,524.1 L1287.0,524.0 L1287.7,523.7 L1288.4,524.2 L1289.1,523.8 L1289.8,524.2 L1290.5,524.6 L1291.2,524.8 L1291.9,524.9 L1292.6,525.0 L1293.3,525.9 L1294.0,525.4 L1294.7,525.0 L1295.4,525.3 L1296.1,525.3 L1296.8,525.6 L1297.5,525.5 L1298.2,525.4 L1298.9,526.3 L1299.6,525.7 L1300.3,525.4 L1301.0,525.3 L1301.7,525.1 L1302.4,525.5 L1303.1,524.9 L1303.8,524.8 L1304.5,523.0 L1305.2,523.9 L1305.9,523.7 L1306.6,523.4 L1307.3,522.0 L1308.0,520.6 L1308.7,520.5 L1309.4,519.0 L1310.1,517.5 L1310.8,516.6 L1311.5,515.9 L1312.2,514.5 L1312.9,512.8 L1313.6,510.0 L1314.3,508.6 L1315.0,504.2 L1315.7,501.3 L1316.4,497.4 L1317.1,494.9 L1317.8,491.3 L1318.5,488.4 L1319.2,485.3 L1319.9,482.0 L1320.6,478.7 L1321.3,474.6 L1322.0,472.3 L1322.7,469.2 L1323.4,466.1 L1324.1,464.1 L1324.8,462.7 L1325.5,462.6 L1326.2,462.7 L1326.9,464.2 L1327.6,466.7 L1328.3,469.6 L1329.0,473.7 L1329.7,477.7 L1330.4,481.3 L1331.1,484.7 L1331.8,488.2 L1332.5,491.6 L1333.2,495.1 L1333.9,498.7 L1334.6,501.8 L1335.3,504.5 L1336.0,506.9 L1336.7,508.2 L1337.4,511.1 L1338.1,512.0 L1338.8,514.4 L1339.5,515.7 L1340.2,517.4 L1340.9,518.3 L1341.6,519.0 L1342.3,520.6 L1343.0,521.1 L1343.7,521.9 L1344.4,522.6 L1345.1,523.6 L1345.8,524.2 L1346.5,524.6 L1347.2,524.6 L1347.9,525.5 L1348.6,526.1 L1349.3,527.2 L1350.0,527.0 L1350.7,527.2 L1351.4,527.9 L1352.1,527.7 L1352.8,528.0 L1353.5,528.3 L1354.2,528.0 L1354.9,529.0 L1355.6,529.0 L1356.3,529.0 L1357.0,528.8 L1357.7,529.4 L1358.4,530.0 L1359.1,529.4 L1359.8,529.3 L1360.5,529.9 L1361.2,529.3 L1361.9,529.1 L1362.6,529.8 L1363.3,529.8 L1364.0,530.1 L1364.7,530.0 L1365.4,530.4 L1366.1,530.3 L1366.8,530.2 L1367.5,530.3 L1368.2,530.8 L1368.9,531.0 L1369.6,531.0 L1370.3,531.0 L1371.0,529.7 L1371.7,530.5 L1372.4,530.8 L1373.1,531.0 L1373.8,530.5 L1374.5,531.6 L1375.2,531.2 L1375.9,530.9 L1376.6,531.3 L1377.3,531.1 L1378.0,531.0 L1378.7,531.5 L1379.4,531.2 L1380.1,530.9 L1380.8,531.2 L1381.5,531.4 L1382.2,531.1 L1382.9,531.9 L1383.6,531.1 L1384.3,532.2 L1385.0,531.9 L1385.7,531.2 L1386.4,531.6 L1387.1,532.0 L1387.8,531.5 L1388.5,531.2 L1389.2,531.7" stroke="#000" stroke-width="1.5" fill="none" stroke-linejoin="round"/>
<path d="M1175.0,531.9 L1175.7,531.9 L1176.4,531.9 L1177.1,531.9 L1177.8,531.9 L1178.5,531.9 L1179.2,531.9 L1179.9,531.9 L1180.6,531.9 L1181.3,531.9 L1182.0,531.9 L1182.7,531.9 L1183.4,531.9 L1184.1,531.9 L1184.8,531.9 L1185.5,531.9 L1186.2,531.9 L1186.9,531.9 L1187.6,531.9 L1188.3,531.9 L1189.0,531.9 L1189.7,531.9 L1190.4,531.9 L1191.1,531.8 L1191.8,531.8 L1192.5,531.8 L1193.2,531.8 L1193.9,531.8 L1194.6,531.8 L1195.3,531.8 L1196.0,531.8 L1196.7,531.8 L1197.4,531.8 L1198.1,531.8 L1198.8,531.8 L1199.5,531.8 L1200.2,531.8 L1200.9,531.8 L1201.6,531.8 L1202.3,531.8 L1203.0,531.8 L1203.7,531.8 L1204.4,531.8 L1205.1,531.8 L1205.8,531.8 L1206.5,531.8 L1207.2,531.8 L1207.9,531.8 L1208.6,531.8 L1209.3,531.8 L1210.0,531.8 L1210.7,531.8 L1211.4,531.8 L1212.1,531.8 L1212.8,531.8 L1213.5,531.8 L1214.2,531.8 L1214.9,531.8 L1215.6,531.8 L1216.3,531.8 L1217.0,531.8 L1217.7,531.8 L1218.4,531.8 L1219.1,531.8 L1219.8,531.8 L1220.5,531.8 L1221.2,531.8 L1221.9,531.7 L1222.6,531.7 L1223.3,531.7 L1224.0,531.7 L1224.7,531.7 L1225.4,531.7 L1226.1,531.7 L1226.8,531.7 L1227.5,531.7 L1228.2,531.7 L1228.9,531.7 L1229.6,531.7 L1230.3,531.7 L1231.0,531.7 L1231.7,531.7 L1232.4,531.7 L1233.1,531.7 L1233.8,531.7 L1234.5,531.7 L1235.2,531.7 L1235.9,531.7 L1236.6,531.7 L1237.3,531.7 L1238.0,531.6 L1238.7,531.6 L1239.4,531.6 L1240.1,531.6 L1240.8,531.6 L1241.5,531.6 L1242.2,531.6 L1242.9,531.6 L1243.6,531.6 L1244.3,531.6 L1245.0,531.6 L1245.7,531.6 L1246.4,531.6 L1247.1,531.6 L1247.8,531.6 L1248.5,531.5 L1249.2,531.5 L1249.9,531.5 L1250.6,531.5 L1251.3,531.5 L1252.0,531.5 L1252.7,531.5 L1253.4,531.5 L1254.1,531.5 L1254.8,531.5 L1255.5,531.4 L1256.2,531.4 L1256.9,531.4 L1257.6,531.4 L1258.3,531.4 L1259.0,531.4 L1259.7,531.4 L1260.4,531.4 L1261.1,531.4 L1261.8,531.3 L1262.5,531.3 L1263.2,531.3 L1263.9,531.3 L1264.6,531.3 L1265.3,531.3 L1266.0,531.2 L1266.7,531.2 L1267.4,531.2 L1268.1,531.2 L1268.8,531.2 L1269.5,531.1 L1270.2,531.1 L1270.9,531.1 L1271.6,531.1 L1272.3,531.1 L1273.0,531.0 L1273.7,531.0 L1274.4,531.0 L1275.1,530.9 L1275.8,530.9 L1276.5,530.9 L1277.2,530.9 L1277.9,530.8 L1278.6,530.8 L1279.3,530.8 L1280.0,530.7 L1280.7,530.7 L1281.4,530.6 L1282.1,530.6 L1282.8,530.5 L1283.5,530.5 L1284.2,530.5 L1284.9,530.4 L1285.6,530.3 L1286.3,530.3 L1287.0,530.2 L1287.7,530.2 L1288.4,530.1 L1289.1,530.0 L1289.8,529.9 L1290.5,529.9 L1291.2,529.8 L1291.9,529.7 L1292.6,529.6 L1293.3,529.5 L1294.0,529.4 L1294.7,529.3 L1295.4,529.2 L1296.1,529.0 L1296.8,528.9 L1297.5,528.8 L1298.2,528.6 L1298.9,528.4 L1299.6,528.2 L1300.3,528.0 L1301.0,527.8 L1301.7,527.6 L1302.4,527.4 L1303.1,527.1 L1303.8,526.8 L1304.5,526.5 L1305.2,526.1 L1305.9,525.7 L1306.6,525.2 L1307.3,524.7 L1308.0,524.2 L1308.7,523.5 L1309.4,522.8 L1310.1,521.9 L1310.8,521.0 L1311.5,519.9 L1312.2,518.6 L1312.9,517.1 L1313.6,515.5 L1314.3,513.6 L1315.0,511.5 L1315.7,509.1 L1316.4,506.4 L1317.1,503.4 L1317.8,500.1 L1318.5,496.5 L1319.2,492.6 L1319.9,488.5 L1320.6,484.2 L1321.3,479.9 L1322.0,475.6 L1322.7,471.6 L1323.4,468.1 L1324.1,465.2 L1324.8,463.4 L1325.5,462.6 L1326.2,463.0 L1326.9,464.6 L1327.6,467.2 L1328.3,470.5 L1329.0,474.4 L1329.7,478.7 L1330.4,483.0 L1331.1,487.3 L1331.8,491.5 L1332.5,495.4 L1333.2,499.1 L1333.9,502.5 L1334.6,505.6 L1335.3,508.3 L1336.0,510.8 L1336.7,513.0 L1337.4,515.0 L1338.1,516.7 L1338.8,518.2 L1339.5,519.5 L1340.2,520.7 L1340.9,521.7 L1341.6,522.5 L1342.3,523.3 L1343.0,524.0 L1343.7,524.6 L1344.4,525.1 L1345.1,525.6 L1345.8,526.0 L1346.5,526.4 L1347.2,526.7 L1347.9,527.0 L1348.6,527.3 L1349.3,527.5 L1350.0,527.8 L1350.7,528.0 L1351.4,528.2 L1352.1,528.4 L1352.8,528.5 L1353.5,528.7 L1354.2,528.9 L1354.9,529.0 L1355.6,529.1 L1356.3,529.3 L1357.0,529.4 L1357.7,529.5 L1358.4,529.6 L1359.1,529.7 L1359.8,529.8 L1360.5,529.8 L1361.2,529.9 L1361.9,530.0 L1362.6,530.1 L1363.3,530.1 L1364.0,530.2 L1364.7,530.3 L1365.4,530.3 L1366.1,530.4 L1366.8,530.4 L1367.5,530.5 L1368.2,530.5 L1368.9,530.6 L1369.6,530.6 L1370.3,530.7 L1371.0,530.7 L1371.7,530.7 L1372.4,530.8 L1373.1,530.8 L1373.8,530.8 L1374.5,530.9 L1375.2,530.9 L1375.9,530.9 L1376.6,531.0 L1377.3,531.0 L1378.0,531.0 L1378.7,531.0 L1379.4,531.1 L1380.1,531.1 L1380.8,531.1 L1381.5,531.1 L1382.2,531.2 L1382.9,531.2 L1383.6,531.2 L1384.3,531.2 L1385.0,531.2 L1385.7,531.3 L1386.4,531.3 L1387.1,531.3 L1387.8,531.3 L1388.5,531.3 L1389.2,531.3 L1389.20,532.00 L1175.00,532.00 Z" fill="rgb(108,100,255)" stroke="#2020a0" stroke-width="0.6"/>
<path d="M1175.0,531.9 L1175.7,531.9 L1176.4,531.9 L1177.1,531.9 L1177.8,531.9 L1178.5,531.9 L1179.2,531.9 L1179.9,531.9 L1180.6,531.9 L1181.3,531.9 L1182.0,531.9 L1182.7,531.9 L1183.4,531.9 L1184.1,531.9 L1184.8,531.9 L1185.5,531.9 L1186.2,531.9 L1186.9,531.9 L1187.6,531.9 L1188.3,531.9 L1189.0,531.9 L1189.7,531.9 L1190.4,531.9 L1191.1,531.8 L1191.8,531.8 L1192.5,531.8 L1193.2,531.8 L1193.9,531.8 L1194.6,531.8 L1195.3,531.8 L1196.0,531.8 L1196.7,531.8 L1197.4,531.8 L1198.1,531.8 L1198.8,531.8 L1199.5,531.8 L1200.2,531.8 L1200.9,531.8 L1201.6,531.8 L1202.3,531.8 L1203.0,531.8 L1203.7,531.8 L1204.4,531.8 L1205.1,531.8 L1205.8,531.8 L1206.5,531.8 L1207.2,531.8 L1207.9,531.8 L1208.6,531.8 L1209.3,531.8 L1210.0,531.8 L1210.7,531.8 L1211.4,531.8 L1212.1,531.8 L1212.8,531.8 L1213.5,531.8 L1214.2,531.8 L1214.9,531.8 L1215.6,531.8 L1216.3,531.8 L1217.0,531.8 L1217.7,531.8 L1218.4,531.8 L1219.1,531.8 L1219.8,531.8 L1220.5,531.8 L1221.2,531.8 L1221.9,531.7 L1222.6,531.7 L1223.3,531.7 L1224.0,531.7 L1224.7,531.7 L1225.4,531.7 L1226.1,531.7 L1226.8,531.7 L1227.5,531.7 L1228.2,531.7 L1228.9,531.7 L1229.6,531.7 L1230.3,531.7 L1231.0,531.7 L1231.7,531.7 L1232.4,531.7 L1233.1,531.7 L1233.8,531.7 L1234.5,531.7 L1235.2,531.7 L1235.9,531.7 L1236.6,531.7 L1237.3,531.7 L1238.0,531.6 L1238.7,531.6 L1239.4,531.6 L1240.1,531.6 L1240.8,531.6 L1241.5,531.6 L1242.2,531.6 L1242.9,531.6 L1243.6,531.6 L1244.3,531.6 L1245.0,531.6 L1245.7,531.6 L1246.4,531.6 L1247.1,531.6 L1247.8,531.6 L1248.5,531.5 L1249.2,531.5 L1249.9,531.5 L1250.6,531.5 L1251.3,531.5 L1252.0,531.5 L1252.7,531.5 L1253.4,531.5 L1254.1,531.5 L1254.8,531.5 L1255.5,531.4 L1256.2,531.4 L1256.9,531.4 L1257.6,531.4 L1258.3,531.4 L1259.0,531.4 L1259.7,531.4 L1260.4,531.4 L1261.1,531.4 L1261.8,531.3 L1262.5,531.3 L1263.2,531.3 L1263.9,531.3 L1264.6,531.3 L1265.3,531.3 L1266.0,531.2 L1266.7,531.2 L1267.4,531.2 L1268.1,531.2 L1268.8,531.2 L1269.5,531.1 L1270.2,531.1 L1270.9,531.1 L1271.6,531.1 L1272.3,531.1 L1273.0,531.0 L1273.7,531.0 L1274.4,531.0 L1275.1,530.9 L1275.8,530.9 L1276.5,530.9 L1277.2,530.9 L1277.9,530.8 L1278.6,530.8 L1279.3,530.8 L1280.0,530.7 L1280.7,530.7 L1281.4,530.6 L1282.1,530.6 L1282.8,530.5 L1283.5,530.5 L1284.2,530.5 L1284.9,530.4 L1285.6,530.3 L1286.3,530.3 L1287.0,530.2 L1287.7,530.2 L1288.4,530.1 L1289.1,530.0 L1289.8,529.9 L1290.5,529.9 L1291.2,529.8 L1291.9,529.7 L1292.6,529.6 L1293.3,529.5 L1294.0,529.4 L1294.7,529.3 L1295.4,529.2 L1296.1,529.0 L1296.8,528.9 L1297.5,528.8 L1298.2,528.6 L1298.9,528.4 L1299.6,528.2 L1300.3,528.0 L1301.0,527.8 L1301.7,527.6 L1302.4,527.4 L1303.1,527.1 L1303.8,526.8 L1304.5,526.5 L1305.2,526.1 L1305.9,525.7 L1306.6,525.2 L1307.3,524.7 L1308.0,524.2 L1308.7,523.5 L1309.4,522.8 L1310.1,521.9 L1310.8,521.0 L1311.5,519.9 L1312.2,518.6 L1312.9,517.1 L1313.6,515.5 L1314.3,513.6 L1315.0,511.5 L1315.7,509.1 L1316.4,506.4 L1317.1,503.4 L1317.8,500.1 L1318.5,496.5 L1319.2,492.6 L1319.9,488.5 L1320.6,484.2 L1321.3,479.9 L1322.0,475.6 L1322.7,471.6 L1323.4,468.1 L1324.1,465.2 L1324.8,463.4 L1325.5,462.6 L1326.2,463.0 L1326.9,464.6 L1327.6,467.2 L1328.3,470.5 L1329.0,474.4 L1329.7,478.7 L1330.4,483.0 L1331.1,487.3 L1331.8,491.5 L1332.5,495.4 L1333.2,499.1 L1333.9,502.5 L1334.6,505.6 L1335.3,508.3 L1336.0,510.8 L1336.7,513.0 L1337.4,515.0 L1338.1,516.7 L1338.8,518.2 L1339.5,519.5 L1340.2,520.7 L1340.9,521.7 L1341.6,522.5 L1342.3,523.3 L1343.0,524.0 L1343.7,524.6 L1344.4,525.1 L1345.1,525.6 L1345.8,526.0 L1346.5,526.4 L1347.2,526.7 L1347.9,527.0 L1348.6,527.3 L1349.3,527.5 L1350.0,527.8 L1350.7,528.0 L1351.4,528.2 L1352.1,528.4 L1352.8,528.5 L1353.5,528.7 L1354.2,528.9 L1354.9,529.0 L1355.6,529.1 L1356.3,529.3 L1357.0,529.4 L1357.7,529.5 L1358.4,529.6 L1359.1,529.7 L1359.8,529.8 L1360.5,529.8 L1361.2,529.9 L1361.9,530.0 L1362.6,530.1 L1363.3,530.1 L1364.0,530.2 L1364.7,530.3 L1365.4,530.3 L1366.1,530.4 L1366.8,530.4 L1367.5,530.5 L1368.2,530.5 L1368.9,530.6 L1369.6,530.6 L1370.3,530.7 L1371.0,530.7 L1371.7,530.7 L1372.4,530.8 L1373.1,530.8 L1373.8,530.8 L1374.5,530.9 L1375.2,530.9 L1375.9,530.9 L1376.6,531.0 L1377.3,531.0 L1378.0,531.0 L1378.7,531.0 L1379.4,531.1 L1380.1,531.1 L1380.8,531.1 L1381.5,531.1 L1382.2,531.2 L1382.9,531.2 L1383.6,531.2 L1384.3,531.2 L1385.0,531.2 L1385.7,531.3 L1386.4,531.3 L1387.1,531.3 L1387.8,531.3 L1388.5,531.3 L1389.2,531.3 L1389.20,532.00 L1175.00,532.00 Z" fill="url(#hb)"/>
<path d="M1189.0,532.0 L1189.7,532.0 L1190.4,532.0 L1191.1,532.0 L1191.8,532.0 L1192.5,532.0 L1193.2,532.0 L1193.9,532.0 L1194.6,532.0 L1195.3,532.0 L1196.0,532.0 L1196.7,532.0 L1197.4,532.0 L1198.1,532.0 L1198.8,532.0 L1199.5,532.0 L1200.2,532.0 L1200.9,532.0 L1201.6,532.0 L1202.3,532.0 L1203.0,532.0 L1203.7,532.0 L1204.4,532.0 L1205.1,532.0 L1205.8,532.0 L1206.5,532.0 L1207.2,532.0 L1207.9,532.0 L1208.6,532.0 L1209.3,532.0 L1210.0,532.0 L1210.7,532.0 L1211.4,532.0 L1212.1,532.0 L1212.8,532.0 L1213.5,532.0 L1214.2,532.0 L1214.9,532.0 L1215.6,532.0 L1216.3,532.0 L1217.0,532.0 L1217.7,532.0 L1218.4,532.0 L1219.1,532.0 L1219.8,532.0 L1220.5,532.0 L1221.2,532.0 L1221.9,532.0 L1222.6,532.0 L1223.3,532.0 L1224.0,532.0 L1224.7,532.0 L1225.4,532.0 L1226.1,532.0 L1226.8,532.0 L1227.5,532.0 L1228.2,532.0 L1228.9,532.0 L1229.6,532.0 L1230.3,532.0 L1231.0,532.0 L1231.7,532.0 L1232.4,532.0 L1233.1,532.0 L1233.8,532.0 L1234.5,532.0 L1235.2,532.0 L1235.9,532.0 L1236.6,532.0 L1237.3,532.0 L1238.0,532.0 L1238.7,532.0 L1239.4,532.0 L1240.1,532.0 L1240.8,532.0 L1241.5,532.0 L1242.2,532.0 L1242.9,532.0 L1243.6,531.9 L1244.3,531.9 L1245.0,531.9 L1245.7,531.9 L1246.4,531.9 L1247.1,531.9 L1247.8,531.9 L1248.5,531.8 L1249.2,531.8 L1249.9,531.8 L1250.6,531.8 L1251.3,531.7 L1252.0,531.7 L1252.7,531.6 L1253.4,531.6 L1254.1,531.5 L1254.8,531.5 L1255.5,531.4 L1256.2,531.3 L1256.9,531.3 L1257.6,531.2 L1258.3,531.1 L1259.0,531.0 L1259.7,530.9 L1260.4,530.8 L1261.1,530.7 L1261.8,530.6 L1262.5,530.5 L1263.2,530.4 L1263.9,530.3 L1264.6,530.1 L1265.3,530.0 L1266.0,529.9 L1266.7,529.8 L1267.4,529.6 L1268.1,529.5 L1268.8,529.4 L1269.5,529.3 L1270.2,529.2 L1270.9,529.1 L1271.6,529.0 L1272.3,528.9 L1273.0,528.8 L1273.7,528.7 L1274.4,528.7 L1275.1,528.6 L1275.8,528.6 L1276.5,528.5 L1277.2,528.5 L1277.9,528.5 L1278.6,528.5 L1279.3,528.5 L1280.0,528.5 L1280.7,528.6 L1281.4,528.6 L1282.1,528.7 L1282.8,528.8 L1283.5,528.9 L1284.2,528.9 L1284.9,529.0 L1285.6,529.1 L1286.3,529.3 L1287.0,529.4 L1287.7,529.5 L1288.4,529.6 L1289.1,529.7 L1289.8,529.9 L1290.5,530.0 L1291.2,530.1 L1291.9,530.2 L1292.6,530.4 L1293.3,530.5 L1294.0,530.6 L1294.7,530.7 L1295.4,530.8 L1296.1,530.9 L1296.8,531.0 L1297.5,531.1 L1298.2,531.2 L1298.9,531.3 L1299.6,531.3 L1300.3,531.4 L1301.0,531.5 L1301.7,531.5 L1302.4,531.6 L1303.1,531.6 L1303.8,531.7 L1304.5,531.7 L1305.2,531.7 L1305.9,531.8 L1306.6,531.8 L1307.3,531.8 L1308.0,531.9 L1308.7,531.9 L1309.4,531.9 L1310.1,531.9 L1310.8,531.9 L1311.5,531.9 L1312.2,531.9 L1312.9,532.0 L1313.6,532.0 L1314.3,532.0 L1315.0,532.0 L1315.7,532.0 L1316.4,532.0 L1317.1,532.0 L1317.8,532.0 L1318.5,532.0 L1319.2,532.0 L1319.9,532.0 L1320.6,532.0 L1321.3,532.0 L1322.0,532.0 L1322.7,532.0 L1323.4,532.0 L1324.1,532.0 L1324.8,532.0 L1325.5,532.0 L1326.2,532.0 L1326.9,532.0 L1327.6,532.0 L1328.3,532.0 L1329.0,532.0 L1329.7,532.0 L1330.4,532.0 L1331.1,532.0 L1331.8,532.0 L1332.5,532.0 L1333.2,532.0 L1333.9,532.0 L1334.6,532.0 L1335.3,532.0 L1336.0,532.0 L1336.7,532.0 L1337.4,532.0 L1338.1,532.0 L1338.8,532.0 L1339.5,532.0 L1340.2,532.0 L1340.9,532.0 L1341.6,532.0 L1342.3,532.0 L1343.0,532.0 L1343.7,532.0 L1344.4,532.0 L1345.1,532.0 L1345.8,532.0 L1346.5,532.0 L1347.2,532.0 L1347.9,532.0 L1348.6,532.0 L1349.3,532.0 L1350.0,532.0 L1350.7,532.0 L1351.4,532.0 L1352.1,532.0 L1352.8,532.0 L1353.5,532.0 L1354.2,532.0 L1354.9,532.0 L1355.6,532.0 L1356.3,532.0 L1357.0,532.0 L1357.7,532.0 L1358.4,532.0 L1359.1,532.0 L1359.8,532.0 L1360.5,532.0 L1361.2,532.0 L1361.9,532.0 L1362.6,532.0 L1363.3,532.0 L1364.0,532.0 L1364.7,532.0 L1365.4,532.0 L1366.1,532.0 L1366.8,532.0 L1367.5,532.0" stroke="#1010ff" stroke-width="1.1" fill="none"/>
<path d="M1238.0,532.0 L1238.7,532.0 L1239.4,532.0 L1240.1,532.0 L1240.8,532.0 L1241.5,532.0 L1242.2,532.0 L1242.9,532.0 L1243.6,532.0 L1244.3,532.0 L1245.0,532.0 L1245.7,532.0 L1246.4,532.0 L1247.1,532.0 L1247.8,532.0 L1248.5,532.0 L1249.2,532.0 L1249.9,532.0 L1250.6,532.0 L1251.3,532.0 L1252.0,532.0 L1252.7,532.0 L1253.4,532.0 L1254.1,532.0 L1254.8,532.0 L1255.5,532.0 L1256.2,532.0 L1256.9,532.0 L1257.6,532.0 L1258.3,532.0 L1259.0,532.0 L1259.7,532.0 L1260.4,532.0 L1261.1,532.0 L1261.8,532.0 L1262.5,532.0 L1263.2,532.0 L1263.9,532.0 L1264.6,532.0 L1265.3,532.0 L1266.0,532.0 L1266.7,532.0 L1267.4,532.0 L1268.1,532.0 L1268.8,532.0 L1269.5,531.9 L1270.2,531.9 L1270.9,531.9 L1271.6,531.9 L1272.3,531.8 L1273.0,531.8 L1273.7,531.7 L1274.4,531.7 L1275.1,531.6 L1275.8,531.5 L1276.5,531.4 L1277.2,531.2 L1277.9,531.1 L1278.6,530.9 L1279.3,530.7 L1280.0,530.5 L1280.7,530.3 L1281.4,530.1 L1282.1,529.9 L1282.8,529.7 L1283.5,529.5 L1284.2,529.3 L1284.9,529.1 L1285.6,528.9 L1286.3,528.8 L1287.0,528.6 L1287.7,528.6 L1288.4,528.5 L1289.1,528.5 L1289.8,528.5 L1290.5,528.6 L1291.2,528.7 L1291.9,528.8 L1292.6,529.0 L1293.3,529.1 L1294.0,529.3 L1294.7,529.5 L1295.4,529.8 L1296.1,530.0 L1296.8,530.2 L1297.5,530.4 L1298.2,530.6 L1298.9,530.8 L1299.6,531.0 L1300.3,531.1 L1301.0,531.3 L1301.7,531.4 L1302.4,531.5 L1303.1,531.6 L1303.8,531.7 L1304.5,531.7 L1305.2,531.8 L1305.9,531.8 L1306.6,531.9 L1307.3,531.9 L1308.0,531.9 L1308.7,531.9 L1309.4,532.0 L1310.1,532.0 L1310.8,532.0 L1311.5,532.0 L1312.2,532.0 L1312.9,532.0 L1313.6,532.0 L1314.3,532.0 L1315.0,532.0 L1315.7,532.0 L1316.4,532.0 L1317.1,532.0 L1317.8,532.0 L1318.5,532.0 L1319.2,532.0 L1319.9,532.0 L1320.6,532.0 L1321.3,532.0 L1322.0,532.0 L1322.7,532.0 L1323.4,532.0 L1324.1,532.0 L1324.8,532.0 L1325.5,532.0 L1326.2,532.0 L1326.9,532.0 L1327.6,532.0 L1328.3,532.0 L1329.0,532.0 L1329.7,532.0 L1330.4,532.0 L1331.1,532.0 L1331.8,532.0 L1332.5,532.0 L1333.2,532.0 L1333.9,532.0 L1334.6,532.0 L1335.3,532.0 L1336.0,532.0 L1336.7,532.0 L1337.4,532.0 L1338.1,532.0 L1338.8,532.0 L1339.5,532.0" stroke="#1010ff" stroke-width="1.1" fill="none"/>
<path d="M1212.8,532.0 L1213.5,532.0 L1214.2,532.0 L1214.9,532.0 L1215.6,532.0 L1216.3,532.0 L1217.0,532.0 L1217.7,532.0 L1218.4,532.0 L1219.1,532.0 L1219.8,532.0 L1220.5,532.0 L1221.2,532.0 L1221.9,532.0 L1222.6,532.0 L1223.3,532.0 L1224.0,532.0 L1224.7,532.0 L1225.4,532.0 L1226.1,532.0 L1226.8,532.0 L1227.5,532.0 L1228.2,532.0 L1228.9,532.0 L1229.6,532.0 L1230.3,532.0 L1231.0,532.0 L1231.7,532.0 L1232.4,532.0 L1233.1,532.0 L1233.8,532.0 L1234.5,532.0 L1235.2,532.0 L1235.9,532.0 L1236.6,532.0 L1237.3,532.0 L1238.0,532.0 L1238.7,532.0 L1239.4,532.0 L1240.1,532.0 L1240.8,532.0 L1241.5,532.0 L1242.2,532.0 L1242.9,532.0 L1243.6,532.0 L1244.3,532.0 L1245.0,532.0 L1245.7,532.0 L1246.4,532.0 L1247.1,532.0 L1247.8,532.0 L1248.5,532.0 L1249.2,532.0 L1249.9,532.0 L1250.6,532.0 L1251.3,532.0 L1252.0,532.0 L1252.7,532.0 L1253.4,532.0 L1254.1,532.0 L1254.8,532.0 L1255.5,532.0 L1256.2,532.0 L1256.9,531.9 L1257.6,531.9 L1258.3,531.9 L1259.0,531.9 L1259.7,531.9 L1260.4,531.9 L1261.1,531.8 L1261.8,531.8 L1262.5,531.8 L1263.2,531.7 L1263.9,531.7 L1264.6,531.6 L1265.3,531.6 L1266.0,531.5 L1266.7,531.5 L1267.4,531.4 L1268.1,531.3 L1268.8,531.2 L1269.5,531.1 L1270.2,531.0 L1270.9,530.9 L1271.6,530.8 L1272.3,530.7 L1273.0,530.6 L1273.7,530.5 L1274.4,530.4 L1275.1,530.3 L1275.8,530.1 L1276.5,530.0 L1277.2,529.9 L1277.9,529.8 L1278.6,529.8 L1279.3,529.7 L1280.0,529.6 L1280.7,529.6 L1281.4,529.5 L1282.1,529.5 L1282.8,529.5 L1283.5,529.5 L1284.2,529.5 L1284.9,529.6 L1285.6,529.6 L1286.3,529.7 L1287.0,529.7 L1287.7,529.8 L1288.4,529.9 L1289.1,530.0 L1289.8,530.1 L1290.5,530.2 L1291.2,530.3 L1291.9,530.4 L1292.6,530.5 L1293.3,530.6 L1294.0,530.8 L1294.7,530.9 L1295.4,531.0 L1296.1,531.1 L1296.8,531.2 L1297.5,531.3 L1298.2,531.3 L1298.9,531.4 L1299.6,531.5 L1300.3,531.5 L1301.0,531.6 L1301.7,531.7 L1302.4,531.7 L1303.1,531.8 L1303.8,531.8 L1304.5,531.8 L1305.2,531.9 L1305.9,531.9 L1306.6,531.9 L1307.3,531.9 L1308.0,531.9 L1308.7,531.9 L1309.4,532.0 L1310.1,532.0 L1310.8,532.0 L1311.5,532.0 L1312.2,532.0 L1312.9,532.0 L1313.6,532.0 L1314.3,532.0 L1315.0,532.0 L1315.7,532.0 L1316.4,532.0 L1317.1,532.0 L1317.8,532.0 L1318.5,532.0 L1319.2,532.0 L1319.9,532.0 L1320.6,532.0 L1321.3,532.0 L1322.0,532.0 L1322.7,532.0 L1323.4,532.0 L1324.1,532.0 L1324.8,532.0 L1325.5,532.0 L1326.2,532.0 L1326.9,532.0 L1327.6,532.0 L1328.3,532.0 L1329.0,532.0 L1329.7,532.0 L1330.4,532.0 L1331.1,532.0 L1331.8,532.0 L1332.5,532.0 L1333.2,532.0 L1333.9,532.0 L1334.6,532.0 L1335.3,532.0 L1336.0,532.0 L1336.7,532.0 L1337.4,532.0 L1338.1,532.0 L1338.8,532.0 L1339.5,532.0 L1340.2,532.0 L1340.9,532.0 L1341.6,532.0 L1342.3,532.0 L1343.0,532.0 L1343.7,532.0 L1344.4,532.0 L1345.1,532.0 L1345.8,532.0 L1346.5,532.0 L1347.2,532.0 L1347.9,532.0 L1348.6,532.0 L1349.3,532.0 L1350.0,532.0 L1350.7,532.0 L1351.4,532.0 L1352.1,532.0 L1352.8,532.0" stroke="#1010ff" stroke-width="1.1" fill="none"/>
<path d="M1175.0,532.0 L1175.7,532.0 L1176.4,532.0 L1177.1,532.0 L1177.8,532.0 L1178.5,532.0 L1179.2,532.0 L1179.9,532.0 L1180.6,532.0 L1181.3,532.0 L1182.0,532.0 L1182.7,532.0 L1183.4,532.0 L1184.1,532.0 L1184.8,532.0 L1185.5,532.0 L1186.2,532.0 L1186.9,532.0 L1187.6,532.0 L1188.3,532.0 L1189.0,532.0 L1189.7,532.0 L1190.4,531.9 L1191.1,531.9 L1191.8,531.9 L1192.5,531.9 L1193.2,531.9 L1193.9,531.9 L1194.6,531.9 L1195.3,531.9 L1196.0,531.9 L1196.7,531.9 L1197.4,531.9 L1198.1,531.9 L1198.8,531.9 L1199.5,531.9 L1200.2,531.9 L1200.9,531.9 L1201.6,531.9 L1202.3,531.8 L1203.0,531.8 L1203.7,531.8 L1204.4,531.8 L1205.1,531.8 L1205.8,531.8 L1206.5,531.8 L1207.2,531.8 L1207.9,531.8 L1208.6,531.8 L1209.3,531.8 L1210.0,531.7 L1210.7,531.7 L1211.4,531.7 L1212.1,531.7 L1212.8,531.7 L1213.5,531.7 L1214.2,531.7 L1214.9,531.7 L1215.6,531.7 L1216.3,531.7 L1217.0,531.6 L1217.7,531.6 L1218.4,531.6 L1219.1,531.6 L1219.8,531.6 L1220.5,531.6 L1221.2,531.6 L1221.9,531.6 L1222.6,531.5 L1223.3,531.5 L1224.0,531.5 L1224.7,531.5 L1225.4,531.5 L1226.1,531.5 L1226.8,531.5 L1227.5,531.5 L1228.2,531.4 L1228.9,531.4 L1229.6,531.4 L1230.3,531.4 L1231.0,531.4 L1231.7,531.4 L1232.4,531.3 L1233.1,531.3 L1233.8,531.3 L1234.5,531.3 L1235.2,531.2 L1235.9,531.2 L1236.6,531.2 L1237.3,531.1 L1238.0,531.1 L1238.7,531.1 L1239.4,531.0 L1240.1,531.0 L1240.8,531.0 L1241.5,530.9 L1242.2,530.9 L1242.9,530.8 L1243.6,530.8 L1244.3,530.7 L1245.0,530.7 L1245.7,530.6 L1246.4,530.6 L1247.1,530.5 L1247.8,530.4 L1248.5,530.4 L1249.2,530.3 L1249.9,530.3 L1250.6,530.2 L1251.3,530.1 L1252.0,530.1 L1252.7,530.0 L1253.4,529.9 L1254.1,529.8 L1254.8,529.8 L1255.5,529.7 L1256.2,529.6 L1256.9,529.5 L1257.6,529.4 L1258.3,529.2 L1259.0,529.1 L1259.7,528.9 L1260.4,528.7 L1261.1,528.5 L1261.8,528.3 L1262.5,528.1 L1263.2,527.9 L1263.9,527.7 L1264.6,527.5 L1265.3,527.3 L1266.0,527.1 L1266.7,526.9 L1267.4,526.7 L1268.1,526.5 L1268.8,526.3 L1269.5,526.2 L1270.2,526.0 L1270.9,525.9 L1271.6,525.8 L1272.3,525.7 L1273.0,525.5 L1273.7,525.4 L1274.4,525.3 L1275.1,525.2 L1275.8,525.0 L1276.5,524.9 L1277.2,524.8 L1277.9,524.7 L1278.6,524.6 L1279.3,524.5 L1280.0,524.4 L1280.7,524.3 L1281.4,524.3 L1282.1,524.2 L1282.8,524.2 L1283.5,524.1 L1284.2,524.1 L1284.9,524.1 L1285.6,524.1 L1286.3,524.2 L1287.0,524.2 L1287.7,524.3 L1288.4,524.4 L1289.1,524.5 L1289.8,524.6 L1290.5,524.7 L1291.2,524.8 L1291.9,524.9 L1292.6,525.1 L1293.3,525.2 L1294.0,525.3 L1294.7,525.4 L1295.4,525.5 L1296.1,525.6 L1296.8,525.6 L1297.5,525.7 L1298.2,525.7 L1298.9,525.7 L1299.6,525.6 L1300.3,525.5 L1301.0,525.4 L1301.7,525.2 L1302.4,525.0 L1303.1,524.7 L1303.8,524.4 L1304.5,524.1 L1305.2,523.8 L1305.9,523.3 L1306.6,522.8 L1307.3,522.0 L1308.0,521.2 L1308.7,520.3 L1309.4,519.2 L1310.1,518.1 L1310.8,516.8 L1311.5,515.5 L1312.2,514.1 L1312.9,512.5 L1313.6,510.4 L1314.3,507.7 L1315.0,504.7 L1315.7,501.3 L1316.4,497.9 L1317.1,494.5 L1317.8,491.1 L1318.5,488.1 L1319.2,485.2 L1319.9,482.1 L1320.6,478.7 L1321.3,475.3 L1322.0,471.9 L1322.7,468.9 L1323.4,466.2 L1324.1,464.1 L1324.8,462.6 L1325.5,462.0 L1326.2,462.5 L1326.9,464.2 L1327.6,466.9 L1328.3,470.2 L1329.0,473.9 L1329.7,477.7 L1330.4,481.4 L1331.1,484.6 L1331.8,487.9 L1332.5,491.4 L1333.2,495.0 L1333.9,498.5 L1334.6,501.7 L1335.3,504.5 L1336.0,506.7 L1336.7,508.8 L1337.4,510.7 L1338.1,512.5 L1338.8,514.1 L1339.5,515.7 L1340.2,517.0 L1340.9,518.3 L1341.6,519.3 L1342.3,520.2 L1343.0,521.0 L1343.7,521.8 L1344.4,522.6 L1345.1,523.3 L1345.8,523.9 L1346.5,524.5 L1347.2,525.1 L1347.9,525.6 L1348.6,526.1 L1349.3,526.5 L1350.0,526.9 L1350.7,527.2 L1351.4,527.5 L1352.1,527.8 L1352.8,528.0 L1353.5,528.3 L1354.2,528.5 L1354.9,528.7 L1355.6,528.9 L1356.3,529.0 L1357.0,529.2 L1357.7,529.3 L1358.4,529.5 L1359.1,529.6 L1359.8,529.7 L1360.5,529.8 L1361.2,529.8 L1361.9,529.9 L1362.6,530.0 L1363.3,530.1 L1364.0,530.1 L1364.7,530.2 L1365.4,530.3 L1366.1,530.4 L1366.8,530.4 L1367.5,530.5 L1368.2,530.6 L1368.9,530.6 L1369.6,530.7 L1370.3,530.7 L1371.0,530.8 L1371.7,530.9 L1372.4,530.9 L1373.1,531.0 L1373.8,531.0 L1374.5,531.1 L1375.2,531.1 L1375.9,531.2 L1376.6,531.2 L1377.3,531.2 L1378.0,531.3 L1378.7,531.3 L1379.4,531.3 L1380.1,531.4 L1380.8,531.4 L1381.5,531.4 L1382.2,531.5 L1382.9,531.5 L1383.6,531.5 L1384.3,531.5 L1385.0,531.5 L1385.7,531.6 L1386.4,531.6 L1387.1,531.6 L1387.8,531.6 L1388.5,531.6 L1389.2,531.6" stroke="#ff20ff" stroke-width="1.3" fill="none"/>
<rect x="64.7" y="20.7" width="59.2" height="28.9" fill="rgb(108,100,255)" stroke="#303060" stroke-width="0.8"/>
<rect x="64.7" y="20.7" width="59.2" height="28.9" fill="url(#hl)"/>
<text transform="translate(132.20,44.30) scale(0.900,1.000)" font-size="27.50" text-anchor="start" font-style="italic">S</text>
<text x="150.5" y="51.6" font-size="18.50" text-anchor="start" font-style="italic">R</text>
<rect x="177.7" y="20.7" width="59.2" height="28.9" fill="rgb(240,180,100)" stroke="#606080" stroke-width="0.8"/>
<rect x="177.7" y="20.7" width="59.2" height="28.9" fill="url(#hlo)"/>
<text transform="translate(246.00,44.30) scale(0.900,1.000)" font-size="27.50" text-anchor="start" font-style="italic">S</text>
<text x="262.1" y="51.6" font-size="18.50" text-anchor="start" font-style="italic">P</text>
<path d="M62.2,70.3 H124.1" stroke="#000" stroke-width="1.6"/>
<text x="130.1" y="79.7" font-size="27.30" text-anchor="start" >Exp. data</text>
<path d="M62.2,106.7 H124.1" stroke="#606060" stroke-width="2.0" stroke-dasharray="9.2,10"/>
<text x="130.1" y="115.3" font-size="27.30" text-anchor="start" >Baseline</text>
<path d="M62.2,139.7 H124.1" stroke="#ff10ff" stroke-width="2.0"/>
<text x="130.1" y="148.3" font-size="27.30" text-anchor="start" >Fitting</text>
<rect x="794.0" y="20.0" width="59.2" height="29.0" fill="rgb(108,100,255)" stroke="#303060" stroke-width="0.8"/>
<rect x="794.0" y="20.0" width="59.2" height="29.0" fill="url(#hl)"/>
<text transform="translate(862.00,44.30) scale(0.900,1.000)" font-size="27.50" text-anchor="start" font-style="italic">S</text>
<text x="880.2" y="51.6" font-size="18.50" text-anchor="start" font-style="italic">R</text>
<rect x="904.3" y="20.0" width="59.2" height="29.0" fill="rgb(240,180,100)" stroke="#606080" stroke-width="0.8"/>
<rect x="904.3" y="20.0" width="59.2" height="29.0" fill="url(#hlo)"/>
<text transform="translate(972.90,44.30) scale(0.900,1.000)" font-size="27.50" text-anchor="start" font-style="italic">S</text>
<text x="989.9" y="51.6" font-size="18.50" text-anchor="start" font-style="italic">P</text>
<path d="M794.0,71.7 H855.7" stroke="#000" stroke-width="1.6"/>
<text x="861.9" y="80.9" font-size="27.30" text-anchor="start" >Exp. data</text>
<path d="M794.0,105.2 H855.7" stroke="#606060" stroke-width="1.6" stroke-dasharray="9.2,10"/>
<text x="861.9" y="113.6" font-size="27.30" text-anchor="start" >Baseline</text>
<path d="M794.0,138.3 H855.7" stroke="#ff10ff" stroke-width="1.6"/>
<text x="861.9" y="147.3" font-size="27.30" text-anchor="start" >Fitting</text>
<text transform="translate(4.20,52.40) scale(0.870,1.020)" font-size="44.00" text-anchor="start" font-weight="bold">a</text>
<text x="728.6" y="51.0" font-size="43.00" text-anchor="start" font-weight="bold">b</text>
<text transform="translate(244.7,640.6) scale(1,1.045)" font-size="31.6">Raman shift (cm<tspan font-size="21" dy="-11.9">-1</tspan><tspan dy="11.9">)</tspan></text>
<text transform="translate(969.5,640.6) scale(1,1.045)" font-size="31.6">Raman shift (cm<tspan font-size="21" dy="-11.9">-1</tspan><tspan dy="11.9">)</tspan></text>
<text transform="translate(23.5,412.7) rotate(-90) scale(1,1.05)" x="0" y="0" font-size="31.3">Intensity (arb. units)</text>
<text transform="translate(746.7,412.2) rotate(-90) scale(1,1.05)" x="0" y="0" font-size="31.3">Intensity (arb. units)</text>
<text x="301.4" y="124.9" font-size="27.30" text-anchor="start" >Amorphous S</text>
<text x="329.8" y="161.7" font-size="27.30" text-anchor="start" >4.1 GPa</text>
<text x="472.4" y="156.2" font-size="27.30"><tspan font-family="Liberation Serif">&#934;</tspan> = 1</text>
<text x="581.7" y="101.0" font-size="27.50" text-anchor="start" >I</text>
<text x="601.8" y="101.0" font-size="27.50" text-anchor="start" >2</text>
<path d="M596.70,87.30 L596.70,96.50" stroke="#000" stroke-width="2.4" stroke-linecap="round"/>
<path d="M592.72,89.60 L600.68,94.20" stroke="#000" stroke-width="2.4" stroke-linecap="round"/>
<path d="M592.72,94.20 L600.68,89.60" stroke="#000" stroke-width="2.4" stroke-linecap="round"/>
<text x="638.2" y="161.4" font-size="27.30" text-anchor="start" >0.6 s</text>
<text x="300.7" y="255.8" font-size="27.30" text-anchor="start" >Amorphous S</text>
<text x="335.0" y="294.4" font-size="27.30" text-anchor="start" >4.1 GPa</text>
<text x="582.8" y="219.5" font-size="27.50" text-anchor="start" >I</text>
<text x="602.9" y="219.5" font-size="27.50" text-anchor="start" >2</text>
<path d="M597.80,205.80 L597.80,215.00" stroke="#000" stroke-width="2.4" stroke-linecap="round"/>
<path d="M593.82,208.10 L601.78,212.70" stroke="#000" stroke-width="2.4" stroke-linecap="round"/>
<path d="M593.82,212.70 L601.78,208.10" stroke="#000" stroke-width="2.4" stroke-linecap="round"/>
<text x="637.3" y="288.6" font-size="27.30" text-anchor="start" >0.4 s</text>
<text x="303.9" y="367.5" font-size="27.30" text-anchor="start" >Amorphous S</text>
<text x="330.6" y="405.5" font-size="27.30" text-anchor="start" >0.95 GPa</text>
<text x="472.0" y="391.0" font-size="27.30"><tspan font-family="Liberation Serif">&#934;</tspan> = 0.5</text>
<text x="624.6" y="391.0" font-size="27.30" text-anchor="start" >0.16 s</text>
<text x="340.2" y="487.8" font-size="27.30" text-anchor="start" >Liquid S</text>
<text x="331.2" y="520.5" font-size="27.30" text-anchor="start" >0.05 GPa</text>
<text x="471.2" y="520.5" font-size="27.30"><tspan font-family="Liberation Serif">&#934;</tspan> = 0</text>
<text x="656.8" y="520.5" font-size="27.30" text-anchor="start" >0 s</text>
<text x="1094.8" y="134.6" font-size="27.30" text-anchor="start" >S-I</text>
<text x="1063.3" y="168.8" font-size="27.30" text-anchor="start" >4.1 GPa</text>
<text x="1203.0" y="169.5" font-size="27.30"><tspan font-family="Liberation Serif">&#934;</tspan> = 0</text>
<text x="1375.2" y="169.5" font-size="27.30" text-anchor="start" >8 s</text>
<text x="1230.7" y="82.8" font-size="27.30" text-anchor="start" >Normallized</text>
<text x="1097.0" y="254.2" font-size="27.30" text-anchor="start" >S-I</text>
<text x="1065.8" y="288.8" font-size="27.30" text-anchor="start" >0.2 GPa</text>
<text x="1202.7" y="287.9" font-size="27.30"><tspan font-family="Liberation Serif">&#934;</tspan> = 0</text>
<text x="1376.0" y="287.9" font-size="27.30" text-anchor="start" >2 s</text>
<text x="1060.4" y="361.5" font-size="27.30" text-anchor="start" >Liquid S</text>
<text x="1054.8" y="399.6" font-size="27.30" text-anchor="start" >0.34 GPa</text>
<text x="1202.9" y="392.1" font-size="27.30"><tspan font-family="Liberation Serif">&#934;</tspan> = 0.3</text>
<text x="1377.4" y="398.7" font-size="27.30" text-anchor="start" >1 s</text>
<text x="1063.4" y="479.3" font-size="27.30" text-anchor="start" >Liquid S</text>
<text x="1055.6" y="520.0" font-size="27.30" text-anchor="start" >0.05 GPa</text>
<text x="1206.4" y="518.6" font-size="27.30"><tspan font-family="Liberation Serif">&#934;</tspan> = 0</text>
<text x="1375.2" y="514.5" font-size="27.30" text-anchor="start" >0 s</text>
<path d="M210.1,341 V319" stroke="#ff3030" stroke-width="1.1"/>
<path d="M210.1,307.7 L206.5,321 L213.7,321 Z" fill="#ff2020"/>
<path d="M295.4,341 V319" stroke="#ff3030" stroke-width="1.1"/>
<path d="M295.4,307.7 L291.8,321 L299.0,321 Z" fill="#ff2020"/>
<path d="M1299.2,99.4 L1313.3,125.2" stroke="#000" stroke-width="1.1"/>
<path d="M1319.6,136.6 L1309.7,127.2 L1317.0,123.2 Z" fill="#000"/>
</svg></body></html>
